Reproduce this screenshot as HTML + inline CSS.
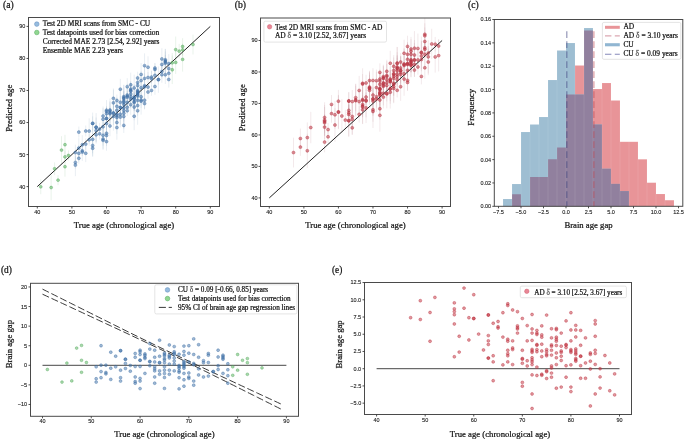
<!DOCTYPE html>
<html><head><meta charset="utf-8"><style>
html,body{margin:0;padding:0;background:#fff;}
body{width:685px;height:440px;overflow:hidden;font-family:"Liberation Serif",serif;}
svg{display:block;will-change:transform;}
</style></head><body>
<svg width="685" height="440" viewBox="0 0 685 440">
<rect width="685" height="440" fill="#fff"/>
<clipPath id="ca"><rect x="28.5" y="17.5" width="191.0" height="189.0"/></clipPath>
<g clip-path="url(#ca)">
<line x1="75.36" y1="160.50" x2="75.36" y2="144.66" stroke="rgba(140,165,190,0.3)" stroke-width="0.65"/>
<line x1="75.36" y1="168.65" x2="75.36" y2="156.14" stroke="rgba(140,165,190,0.3)" stroke-width="0.65"/>
<line x1="75.36" y1="176.16" x2="75.36" y2="154.04" stroke="rgba(140,165,190,0.3)" stroke-width="0.65"/>
<line x1="78.82" y1="137.62" x2="78.82" y2="126.62" stroke="rgba(140,165,190,0.3)" stroke-width="0.65"/>
<line x1="78.82" y1="158.03" x2="78.82" y2="138.11" stroke="rgba(140,165,190,0.3)" stroke-width="0.65"/>
<line x1="78.82" y1="161.63" x2="78.82" y2="144.98" stroke="rgba(140,165,190,0.3)" stroke-width="0.65"/>
<line x1="78.82" y1="163.66" x2="78.82" y2="152.93" stroke="rgba(140,165,190,0.3)" stroke-width="0.65"/>
<line x1="82.28" y1="154.55" x2="82.28" y2="135.18" stroke="rgba(140,165,190,0.3)" stroke-width="0.65"/>
<line x1="82.28" y1="156.00" x2="82.28" y2="145.67" stroke="rgba(140,165,190,0.3)" stroke-width="0.65"/>
<line x1="82.28" y1="160.96" x2="82.28" y2="143.01" stroke="rgba(140,165,190,0.3)" stroke-width="0.65"/>
<line x1="85.74" y1="136.51" x2="85.74" y2="125.55" stroke="rgba(140,165,190,0.3)" stroke-width="0.65"/>
<line x1="85.74" y1="149.79" x2="85.74" y2="138.44" stroke="rgba(140,165,190,0.3)" stroke-width="0.65"/>
<line x1="85.74" y1="162.16" x2="85.74" y2="144.39" stroke="rgba(140,165,190,0.3)" stroke-width="0.65"/>
<line x1="89.20" y1="143.85" x2="89.20" y2="118.34" stroke="rgba(140,165,190,0.3)" stroke-width="0.65"/>
<line x1="89.20" y1="145.76" x2="89.20" y2="133.77" stroke="rgba(140,165,190,0.3)" stroke-width="0.65"/>
<line x1="92.66" y1="130.35" x2="92.66" y2="116.44" stroke="rgba(140,165,190,0.3)" stroke-width="0.65"/>
<line x1="92.66" y1="134.23" x2="92.66" y2="112.56" stroke="rgba(140,165,190,0.3)" stroke-width="0.65"/>
<line x1="92.66" y1="153.26" x2="92.66" y2="125.43" stroke="rgba(140,165,190,0.3)" stroke-width="0.65"/>
<line x1="92.66" y1="155.83" x2="92.66" y2="135.13" stroke="rgba(140,165,190,0.3)" stroke-width="0.65"/>
<line x1="92.66" y1="156.88" x2="92.66" y2="139.64" stroke="rgba(140,165,190,0.3)" stroke-width="0.65"/>
<line x1="96.12" y1="141.41" x2="96.12" y2="113.03" stroke="rgba(140,165,190,0.3)" stroke-width="0.65"/>
<line x1="96.12" y1="132.48" x2="96.12" y2="121.97" stroke="rgba(140,165,190,0.3)" stroke-width="0.65"/>
<line x1="96.12" y1="143.64" x2="96.12" y2="117.52" stroke="rgba(140,165,190,0.3)" stroke-width="0.65"/>
<line x1="96.12" y1="142.34" x2="96.12" y2="127.16" stroke="rgba(140,165,190,0.3)" stroke-width="0.65"/>
<line x1="99.58" y1="135.28" x2="99.58" y2="122.90" stroke="rgba(140,165,190,0.3)" stroke-width="0.65"/>
<line x1="99.58" y1="139.69" x2="99.58" y2="127.82" stroke="rgba(140,165,190,0.3)" stroke-width="0.65"/>
<line x1="103.04" y1="123.84" x2="103.04" y2="108.30" stroke="rgba(140,165,190,0.3)" stroke-width="0.65"/>
<line x1="103.04" y1="131.83" x2="103.04" y2="106.53" stroke="rgba(140,165,190,0.3)" stroke-width="0.65"/>
<line x1="103.04" y1="133.25" x2="103.04" y2="120.16" stroke="rgba(140,165,190,0.3)" stroke-width="0.65"/>
<line x1="103.04" y1="145.69" x2="103.04" y2="124.90" stroke="rgba(140,165,190,0.3)" stroke-width="0.65"/>
<line x1="103.04" y1="149.92" x2="103.04" y2="128.03" stroke="rgba(140,165,190,0.3)" stroke-width="0.65"/>
<line x1="103.04" y1="148.75" x2="103.04" y2="131.98" stroke="rgba(140,165,190,0.3)" stroke-width="0.65"/>
<line x1="106.50" y1="120.24" x2="106.50" y2="100.10" stroke="rgba(140,165,190,0.3)" stroke-width="0.65"/>
<line x1="106.50" y1="116.89" x2="106.50" y2="106.07" stroke="rgba(140,165,190,0.3)" stroke-width="0.65"/>
<line x1="106.50" y1="119.06" x2="106.50" y2="108.31" stroke="rgba(140,165,190,0.3)" stroke-width="0.65"/>
<line x1="106.50" y1="125.22" x2="106.50" y2="111.64" stroke="rgba(140,165,190,0.3)" stroke-width="0.65"/>
<line x1="106.50" y1="129.78" x2="106.50" y2="107.08" stroke="rgba(140,165,190,0.3)" stroke-width="0.65"/>
<line x1="106.50" y1="132.42" x2="106.50" y2="114.59" stroke="rgba(140,165,190,0.3)" stroke-width="0.65"/>
<line x1="106.50" y1="141.06" x2="106.50" y2="125.41" stroke="rgba(140,165,190,0.3)" stroke-width="0.65"/>
<line x1="106.50" y1="145.88" x2="106.50" y2="125.01" stroke="rgba(140,165,190,0.3)" stroke-width="0.65"/>
<line x1="106.50" y1="150.74" x2="106.50" y2="132.42" stroke="rgba(140,165,190,0.3)" stroke-width="0.65"/>
<line x1="109.96" y1="117.68" x2="109.96" y2="102.30" stroke="rgba(140,165,190,0.3)" stroke-width="0.65"/>
<line x1="109.96" y1="123.50" x2="109.96" y2="98.61" stroke="rgba(140,165,190,0.3)" stroke-width="0.65"/>
<line x1="109.96" y1="124.30" x2="109.96" y2="101.25" stroke="rgba(140,165,190,0.3)" stroke-width="0.65"/>
<line x1="109.96" y1="120.99" x2="109.96" y2="106.68" stroke="rgba(140,165,190,0.3)" stroke-width="0.65"/>
<line x1="109.96" y1="136.27" x2="109.96" y2="115.61" stroke="rgba(140,165,190,0.3)" stroke-width="0.65"/>
<line x1="113.42" y1="108.22" x2="113.42" y2="88.51" stroke="rgba(140,165,190,0.3)" stroke-width="0.65"/>
<line x1="113.42" y1="116.08" x2="113.42" y2="89.64" stroke="rgba(140,165,190,0.3)" stroke-width="0.65"/>
<line x1="113.42" y1="124.90" x2="113.42" y2="101.27" stroke="rgba(140,165,190,0.3)" stroke-width="0.65"/>
<line x1="113.42" y1="120.66" x2="113.42" y2="105.51" stroke="rgba(140,165,190,0.3)" stroke-width="0.65"/>
<line x1="113.42" y1="130.67" x2="113.42" y2="102.21" stroke="rgba(140,165,190,0.3)" stroke-width="0.65"/>
<line x1="116.88" y1="106.50" x2="116.88" y2="94.62" stroke="rgba(140,165,190,0.3)" stroke-width="0.65"/>
<line x1="116.88" y1="115.19" x2="116.88" y2="97.54" stroke="rgba(140,165,190,0.3)" stroke-width="0.65"/>
<line x1="116.88" y1="122.29" x2="116.88" y2="98.13" stroke="rgba(140,165,190,0.3)" stroke-width="0.65"/>
<line x1="116.88" y1="120.40" x2="116.88" y2="107.87" stroke="rgba(140,165,190,0.3)" stroke-width="0.65"/>
<line x1="116.88" y1="125.36" x2="116.88" y2="106.35" stroke="rgba(140,165,190,0.3)" stroke-width="0.65"/>
<line x1="116.88" y1="122.67" x2="116.88" y2="112.31" stroke="rgba(140,165,190,0.3)" stroke-width="0.65"/>
<line x1="116.88" y1="133.71" x2="116.88" y2="111.25" stroke="rgba(140,165,190,0.3)" stroke-width="0.65"/>
<line x1="116.88" y1="139.70" x2="116.88" y2="115.39" stroke="rgba(140,165,190,0.3)" stroke-width="0.65"/>
<line x1="120.34" y1="99.49" x2="120.34" y2="78.86" stroke="rgba(140,165,190,0.3)" stroke-width="0.65"/>
<line x1="120.34" y1="115.56" x2="120.34" y2="89.12" stroke="rgba(140,165,190,0.3)" stroke-width="0.65"/>
<line x1="120.34" y1="115.40" x2="120.34" y2="99.76" stroke="rgba(140,165,190,0.3)" stroke-width="0.65"/>
<line x1="120.34" y1="119.07" x2="120.34" y2="96.09" stroke="rgba(140,165,190,0.3)" stroke-width="0.65"/>
<line x1="120.34" y1="124.80" x2="120.34" y2="103.77" stroke="rgba(140,165,190,0.3)" stroke-width="0.65"/>
<line x1="120.34" y1="127.45" x2="120.34" y2="106.69" stroke="rgba(140,165,190,0.3)" stroke-width="0.65"/>
<line x1="123.80" y1="105.79" x2="123.80" y2="87.41" stroke="rgba(140,165,190,0.3)" stroke-width="0.65"/>
<line x1="123.80" y1="110.55" x2="123.80" y2="84.79" stroke="rgba(140,165,190,0.3)" stroke-width="0.65"/>
<line x1="123.80" y1="112.70" x2="123.80" y2="84.92" stroke="rgba(140,165,190,0.3)" stroke-width="0.65"/>
<line x1="123.80" y1="110.38" x2="123.80" y2="91.66" stroke="rgba(140,165,190,0.3)" stroke-width="0.65"/>
<line x1="123.80" y1="113.35" x2="123.80" y2="90.97" stroke="rgba(140,165,190,0.3)" stroke-width="0.65"/>
<line x1="123.80" y1="109.76" x2="123.80" y2="98.98" stroke="rgba(140,165,190,0.3)" stroke-width="0.65"/>
<line x1="123.80" y1="119.28" x2="123.80" y2="96.18" stroke="rgba(140,165,190,0.3)" stroke-width="0.65"/>
<line x1="123.80" y1="121.53" x2="123.80" y2="99.48" stroke="rgba(140,165,190,0.3)" stroke-width="0.65"/>
<line x1="123.80" y1="127.64" x2="123.80" y2="98.94" stroke="rgba(140,165,190,0.3)" stroke-width="0.65"/>
<line x1="123.80" y1="129.19" x2="123.80" y2="103.77" stroke="rgba(140,165,190,0.3)" stroke-width="0.65"/>
<line x1="123.80" y1="132.94" x2="123.80" y2="117.85" stroke="rgba(140,165,190,0.3)" stroke-width="0.65"/>
<line x1="127.26" y1="95.21" x2="127.26" y2="78.18" stroke="rgba(140,165,190,0.3)" stroke-width="0.65"/>
<line x1="127.26" y1="106.27" x2="127.26" y2="83.80" stroke="rgba(140,165,190,0.3)" stroke-width="0.65"/>
<line x1="127.26" y1="101.20" x2="127.26" y2="91.16" stroke="rgba(140,165,190,0.3)" stroke-width="0.65"/>
<line x1="127.26" y1="106.57" x2="127.26" y2="88.08" stroke="rgba(140,165,190,0.3)" stroke-width="0.65"/>
<line x1="127.26" y1="108.74" x2="127.26" y2="95.89" stroke="rgba(140,165,190,0.3)" stroke-width="0.65"/>
<line x1="127.26" y1="113.24" x2="127.26" y2="101.37" stroke="rgba(140,165,190,0.3)" stroke-width="0.65"/>
<line x1="127.26" y1="116.03" x2="127.26" y2="105.29" stroke="rgba(140,165,190,0.3)" stroke-width="0.65"/>
<line x1="130.72" y1="96.99" x2="130.72" y2="72.61" stroke="rgba(140,165,190,0.3)" stroke-width="0.65"/>
<line x1="130.72" y1="95.10" x2="130.72" y2="83.00" stroke="rgba(140,165,190,0.3)" stroke-width="0.65"/>
<line x1="130.72" y1="97.38" x2="130.72" y2="83.01" stroke="rgba(140,165,190,0.3)" stroke-width="0.65"/>
<line x1="130.72" y1="99.82" x2="130.72" y2="82.69" stroke="rgba(140,165,190,0.3)" stroke-width="0.65"/>
<line x1="130.72" y1="107.30" x2="130.72" y2="80.94" stroke="rgba(140,165,190,0.3)" stroke-width="0.65"/>
<line x1="130.72" y1="102.24" x2="130.72" y2="91.08" stroke="rgba(140,165,190,0.3)" stroke-width="0.65"/>
<line x1="130.72" y1="108.23" x2="130.72" y2="89.99" stroke="rgba(140,165,190,0.3)" stroke-width="0.65"/>
<line x1="130.72" y1="114.76" x2="130.72" y2="94.59" stroke="rgba(140,165,190,0.3)" stroke-width="0.65"/>
<line x1="134.18" y1="101.19" x2="134.18" y2="74.59" stroke="rgba(140,165,190,0.3)" stroke-width="0.65"/>
<line x1="134.18" y1="109.73" x2="134.18" y2="84.37" stroke="rgba(140,165,190,0.3)" stroke-width="0.65"/>
<line x1="134.18" y1="111.23" x2="134.18" y2="85.00" stroke="rgba(140,165,190,0.3)" stroke-width="0.65"/>
<line x1="134.18" y1="106.74" x2="134.18" y2="91.78" stroke="rgba(140,165,190,0.3)" stroke-width="0.65"/>
<line x1="134.18" y1="110.27" x2="134.18" y2="92.67" stroke="rgba(140,165,190,0.3)" stroke-width="0.65"/>
<line x1="134.18" y1="110.87" x2="134.18" y2="94.36" stroke="rgba(140,165,190,0.3)" stroke-width="0.65"/>
<line x1="134.18" y1="120.34" x2="134.18" y2="93.73" stroke="rgba(140,165,190,0.3)" stroke-width="0.65"/>
<line x1="134.18" y1="130.20" x2="134.18" y2="102.18" stroke="rgba(140,165,190,0.3)" stroke-width="0.65"/>
<line x1="137.64" y1="84.24" x2="137.64" y2="71.72" stroke="rgba(140,165,190,0.3)" stroke-width="0.65"/>
<line x1="137.64" y1="88.90" x2="137.64" y2="75.90" stroke="rgba(140,165,190,0.3)" stroke-width="0.65"/>
<line x1="137.64" y1="92.46" x2="137.64" y2="78.39" stroke="rgba(140,165,190,0.3)" stroke-width="0.65"/>
<line x1="137.64" y1="97.54" x2="137.64" y2="83.45" stroke="rgba(140,165,190,0.3)" stroke-width="0.65"/>
<line x1="137.64" y1="101.02" x2="137.64" y2="82.09" stroke="rgba(140,165,190,0.3)" stroke-width="0.65"/>
<line x1="137.64" y1="103.17" x2="137.64" y2="82.23" stroke="rgba(140,165,190,0.3)" stroke-width="0.65"/>
<line x1="137.64" y1="101.18" x2="137.64" y2="86.52" stroke="rgba(140,165,190,0.3)" stroke-width="0.65"/>
<line x1="137.64" y1="99.76" x2="137.64" y2="90.07" stroke="rgba(140,165,190,0.3)" stroke-width="0.65"/>
<line x1="137.64" y1="104.89" x2="137.64" y2="87.22" stroke="rgba(140,165,190,0.3)" stroke-width="0.65"/>
<line x1="137.64" y1="108.66" x2="137.64" y2="91.95" stroke="rgba(140,165,190,0.3)" stroke-width="0.65"/>
<line x1="137.64" y1="115.79" x2="137.64" y2="95.29" stroke="rgba(140,165,190,0.3)" stroke-width="0.65"/>
<line x1="137.64" y1="124.75" x2="137.64" y2="96.81" stroke="rgba(140,165,190,0.3)" stroke-width="0.65"/>
<line x1="141.10" y1="85.89" x2="141.10" y2="63.00" stroke="rgba(140,165,190,0.3)" stroke-width="0.65"/>
<line x1="141.10" y1="90.34" x2="141.10" y2="70.82" stroke="rgba(140,165,190,0.3)" stroke-width="0.65"/>
<line x1="141.10" y1="98.52" x2="141.10" y2="77.04" stroke="rgba(140,165,190,0.3)" stroke-width="0.65"/>
<line x1="141.10" y1="108.08" x2="141.10" y2="85.47" stroke="rgba(140,165,190,0.3)" stroke-width="0.65"/>
<line x1="141.10" y1="105.38" x2="141.10" y2="94.73" stroke="rgba(140,165,190,0.3)" stroke-width="0.65"/>
<line x1="141.10" y1="114.65" x2="141.10" y2="87.74" stroke="rgba(140,165,190,0.3)" stroke-width="0.65"/>
<line x1="144.56" y1="77.98" x2="144.56" y2="53.38" stroke="rgba(140,165,190,0.3)" stroke-width="0.65"/>
<line x1="144.56" y1="91.65" x2="144.56" y2="65.23" stroke="rgba(140,165,190,0.3)" stroke-width="0.65"/>
<line x1="144.56" y1="98.20" x2="144.56" y2="73.25" stroke="rgba(140,165,190,0.3)" stroke-width="0.65"/>
<line x1="144.56" y1="95.44" x2="144.56" y2="78.29" stroke="rgba(140,165,190,0.3)" stroke-width="0.65"/>
<line x1="144.56" y1="108.84" x2="144.56" y2="91.56" stroke="rgba(140,165,190,0.3)" stroke-width="0.65"/>
<line x1="144.56" y1="109.35" x2="144.56" y2="97.75" stroke="rgba(140,165,190,0.3)" stroke-width="0.65"/>
<line x1="148.02" y1="78.12" x2="148.02" y2="56.32" stroke="rgba(140,165,190,0.3)" stroke-width="0.65"/>
<line x1="148.02" y1="82.93" x2="148.02" y2="72.12" stroke="rgba(140,165,190,0.3)" stroke-width="0.65"/>
<line x1="148.02" y1="92.47" x2="148.02" y2="81.56" stroke="rgba(140,165,190,0.3)" stroke-width="0.65"/>
<line x1="148.02" y1="98.82" x2="148.02" y2="85.19" stroke="rgba(140,165,190,0.3)" stroke-width="0.65"/>
<line x1="151.48" y1="83.47" x2="151.48" y2="70.74" stroke="rgba(140,165,190,0.3)" stroke-width="0.65"/>
<line x1="151.48" y1="86.82" x2="151.48" y2="70.67" stroke="rgba(140,165,190,0.3)" stroke-width="0.65"/>
<line x1="151.48" y1="95.75" x2="151.48" y2="85.13" stroke="rgba(140,165,190,0.3)" stroke-width="0.65"/>
<line x1="154.94" y1="72.82" x2="154.94" y2="63.20" stroke="rgba(140,165,190,0.3)" stroke-width="0.65"/>
<line x1="154.94" y1="75.66" x2="154.94" y2="63.14" stroke="rgba(140,165,190,0.3)" stroke-width="0.65"/>
<line x1="154.94" y1="81.15" x2="154.94" y2="69.59" stroke="rgba(140,165,190,0.3)" stroke-width="0.65"/>
<line x1="154.94" y1="94.80" x2="154.94" y2="78.20" stroke="rgba(140,165,190,0.3)" stroke-width="0.65"/>
<line x1="158.40" y1="84.66" x2="158.40" y2="74.56" stroke="rgba(140,165,190,0.3)" stroke-width="0.65"/>
<line x1="158.40" y1="92.82" x2="158.40" y2="66.40" stroke="rgba(140,165,190,0.3)" stroke-width="0.65"/>
<line x1="161.86" y1="69.61" x2="161.86" y2="48.20" stroke="rgba(140,165,190,0.3)" stroke-width="0.65"/>
<line x1="161.86" y1="70.70" x2="161.86" y2="58.23" stroke="rgba(140,165,190,0.3)" stroke-width="0.65"/>
<line x1="161.86" y1="78.81" x2="161.86" y2="64.35" stroke="rgba(140,165,190,0.3)" stroke-width="0.65"/>
<line x1="161.86" y1="82.84" x2="161.86" y2="66.55" stroke="rgba(140,165,190,0.3)" stroke-width="0.65"/>
<line x1="165.32" y1="68.10" x2="165.32" y2="51.48" stroke="rgba(140,165,190,0.3)" stroke-width="0.65"/>
<line x1="165.32" y1="66.92" x2="165.32" y2="54.95" stroke="rgba(140,165,190,0.3)" stroke-width="0.65"/>
<line x1="165.32" y1="75.05" x2="165.32" y2="49.11" stroke="rgba(140,165,190,0.3)" stroke-width="0.65"/>
<line x1="165.32" y1="77.50" x2="165.32" y2="48.79" stroke="rgba(140,165,190,0.3)" stroke-width="0.65"/>
<line x1="165.32" y1="83.96" x2="165.32" y2="65.39" stroke="rgba(140,165,190,0.3)" stroke-width="0.65"/>
<line x1="168.78" y1="73.08" x2="168.78" y2="54.16" stroke="rgba(140,165,190,0.3)" stroke-width="0.65"/>
<line x1="168.78" y1="74.16" x2="168.78" y2="62.90" stroke="rgba(140,165,190,0.3)" stroke-width="0.65"/>
<line x1="168.78" y1="79.14" x2="168.78" y2="67.57" stroke="rgba(140,165,190,0.3)" stroke-width="0.65"/>
<line x1="168.78" y1="87.59" x2="168.78" y2="71.39" stroke="rgba(140,165,190,0.3)" stroke-width="0.65"/>
<line x1="40.76" y1="194.18" x2="40.76" y2="179.48" stroke="rgba(140,190,145,0.3)" stroke-width="0.65"/>
<line x1="51.14" y1="200.30" x2="51.14" y2="174.75" stroke="rgba(140,190,145,0.3)" stroke-width="0.65"/>
<line x1="54.60" y1="175.14" x2="54.60" y2="162.42" stroke="rgba(140,190,145,0.3)" stroke-width="0.65"/>
<line x1="58.06" y1="185.16" x2="58.06" y2="175.11" stroke="rgba(140,190,145,0.3)" stroke-width="0.65"/>
<line x1="61.52" y1="164.05" x2="61.52" y2="136.16" stroke="rgba(140,190,145,0.3)" stroke-width="0.65"/>
<line x1="64.98" y1="154.57" x2="64.98" y2="134.81" stroke="rgba(140,190,145,0.3)" stroke-width="0.65"/>
<line x1="64.98" y1="163.09" x2="64.98" y2="150.66" stroke="rgba(140,190,145,0.3)" stroke-width="0.65"/>
<line x1="64.98" y1="176.72" x2="64.98" y2="156.67" stroke="rgba(140,190,145,0.3)" stroke-width="0.65"/>
<line x1="68.44" y1="160.54" x2="68.44" y2="150.41" stroke="rgba(140,190,145,0.3)" stroke-width="0.65"/>
<line x1="172.24" y1="72.75" x2="172.24" y2="52.99" stroke="rgba(140,190,145,0.3)" stroke-width="0.65"/>
<line x1="172.24" y1="84.04" x2="172.24" y2="55.61" stroke="rgba(140,190,145,0.3)" stroke-width="0.65"/>
<line x1="175.70" y1="62.71" x2="175.70" y2="36.50" stroke="rgba(140,190,145,0.3)" stroke-width="0.65"/>
<line x1="175.70" y1="73.95" x2="175.70" y2="50.95" stroke="rgba(140,190,145,0.3)" stroke-width="0.65"/>
<line x1="179.16" y1="58.46" x2="179.16" y2="43.83" stroke="rgba(140,190,145,0.3)" stroke-width="0.65"/>
<line x1="182.62" y1="54.88" x2="182.62" y2="38.22" stroke="rgba(140,190,145,0.3)" stroke-width="0.65"/>
<line x1="182.62" y1="56.32" x2="182.62" y2="43.49" stroke="rgba(140,190,145,0.3)" stroke-width="0.65"/>
<line x1="182.62" y1="71.62" x2="182.62" y2="47.17" stroke="rgba(140,190,145,0.3)" stroke-width="0.65"/>
<line x1="193.00" y1="54.47" x2="193.00" y2="34.62" stroke="rgba(140,190,145,0.3)" stroke-width="0.65"/>
<line x1="37.30" y1="186.60" x2="210.30" y2="26.40" stroke="#222" stroke-width="1.0"/>
<circle cx="75.36" cy="152.58" r="1.5" fill="rgba(65,115,170,0.55)" stroke="rgba(55,105,160,0.75)" stroke-width="0.5"/>
<circle cx="75.36" cy="162.40" r="1.5" fill="rgba(65,115,170,0.55)" stroke="rgba(55,105,160,0.75)" stroke-width="0.5"/>
<circle cx="75.36" cy="165.10" r="1.5" fill="rgba(65,115,170,0.55)" stroke="rgba(55,105,160,0.75)" stroke-width="0.5"/>
<circle cx="78.82" cy="132.12" r="1.5" fill="rgba(65,115,170,0.55)" stroke="rgba(55,105,160,0.75)" stroke-width="0.5"/>
<circle cx="78.82" cy="148.07" r="1.5" fill="rgba(65,115,170,0.55)" stroke="rgba(55,105,160,0.75)" stroke-width="0.5"/>
<circle cx="78.82" cy="153.31" r="1.5" fill="rgba(65,115,170,0.55)" stroke="rgba(55,105,160,0.75)" stroke-width="0.5"/>
<circle cx="78.82" cy="158.29" r="1.5" fill="rgba(65,115,170,0.55)" stroke="rgba(55,105,160,0.75)" stroke-width="0.5"/>
<circle cx="82.28" cy="144.87" r="1.5" fill="rgba(65,115,170,0.55)" stroke="rgba(55,105,160,0.75)" stroke-width="0.5"/>
<circle cx="82.28" cy="150.84" r="1.5" fill="rgba(65,115,170,0.55)" stroke="rgba(55,105,160,0.75)" stroke-width="0.5"/>
<circle cx="82.28" cy="151.98" r="1.5" fill="rgba(65,115,170,0.55)" stroke="rgba(55,105,160,0.75)" stroke-width="0.5"/>
<circle cx="85.74" cy="131.03" r="1.5" fill="rgba(65,115,170,0.55)" stroke="rgba(55,105,160,0.75)" stroke-width="0.5"/>
<circle cx="85.74" cy="144.12" r="1.5" fill="rgba(65,115,170,0.55)" stroke="rgba(55,105,160,0.75)" stroke-width="0.5"/>
<circle cx="85.74" cy="153.28" r="1.5" fill="rgba(65,115,170,0.55)" stroke="rgba(55,105,160,0.75)" stroke-width="0.5"/>
<circle cx="89.20" cy="131.10" r="1.5" fill="rgba(65,115,170,0.55)" stroke="rgba(55,105,160,0.75)" stroke-width="0.5"/>
<circle cx="89.20" cy="139.77" r="1.5" fill="rgba(65,115,170,0.55)" stroke="rgba(55,105,160,0.75)" stroke-width="0.5"/>
<circle cx="92.66" cy="123.39" r="1.5" fill="rgba(65,115,170,0.55)" stroke="rgba(55,105,160,0.75)" stroke-width="0.5"/>
<circle cx="92.66" cy="123.39" r="1.5" fill="rgba(65,115,170,0.55)" stroke="rgba(55,105,160,0.75)" stroke-width="0.5"/>
<circle cx="92.66" cy="139.34" r="1.5" fill="rgba(65,115,170,0.55)" stroke="rgba(55,105,160,0.75)" stroke-width="0.5"/>
<circle cx="92.66" cy="145.48" r="1.5" fill="rgba(65,115,170,0.55)" stroke="rgba(55,105,160,0.75)" stroke-width="0.5"/>
<circle cx="92.66" cy="148.26" r="1.5" fill="rgba(65,115,170,0.55)" stroke="rgba(55,105,160,0.75)" stroke-width="0.5"/>
<circle cx="96.12" cy="127.22" r="1.5" fill="rgba(65,115,170,0.55)" stroke="rgba(55,105,160,0.75)" stroke-width="0.5"/>
<circle cx="96.12" cy="127.22" r="1.5" fill="rgba(65,115,170,0.55)" stroke="rgba(55,105,160,0.75)" stroke-width="0.5"/>
<circle cx="96.12" cy="130.58" r="1.5" fill="rgba(65,115,170,0.55)" stroke="rgba(55,105,160,0.75)" stroke-width="0.5"/>
<circle cx="96.12" cy="134.75" r="1.5" fill="rgba(65,115,170,0.55)" stroke="rgba(55,105,160,0.75)" stroke-width="0.5"/>
<circle cx="99.58" cy="129.09" r="1.5" fill="rgba(65,115,170,0.55)" stroke="rgba(55,105,160,0.75)" stroke-width="0.5"/>
<circle cx="99.58" cy="133.75" r="1.5" fill="rgba(65,115,170,0.55)" stroke="rgba(55,105,160,0.75)" stroke-width="0.5"/>
<circle cx="103.04" cy="116.07" r="1.5" fill="rgba(65,115,170,0.55)" stroke="rgba(55,105,160,0.75)" stroke-width="0.5"/>
<circle cx="103.04" cy="119.18" r="1.5" fill="rgba(65,115,170,0.55)" stroke="rgba(55,105,160,0.75)" stroke-width="0.5"/>
<circle cx="103.04" cy="126.71" r="1.5" fill="rgba(65,115,170,0.55)" stroke="rgba(55,105,160,0.75)" stroke-width="0.5"/>
<circle cx="103.04" cy="135.29" r="1.5" fill="rgba(65,115,170,0.55)" stroke="rgba(55,105,160,0.75)" stroke-width="0.5"/>
<circle cx="103.04" cy="138.98" r="1.5" fill="rgba(65,115,170,0.55)" stroke="rgba(55,105,160,0.75)" stroke-width="0.5"/>
<circle cx="103.04" cy="140.37" r="1.5" fill="rgba(65,115,170,0.55)" stroke="rgba(55,105,160,0.75)" stroke-width="0.5"/>
<circle cx="106.50" cy="110.17" r="1.5" fill="rgba(65,115,170,0.55)" stroke="rgba(55,105,160,0.75)" stroke-width="0.5"/>
<circle cx="106.50" cy="111.48" r="1.5" fill="rgba(65,115,170,0.55)" stroke="rgba(55,105,160,0.75)" stroke-width="0.5"/>
<circle cx="106.50" cy="113.69" r="1.5" fill="rgba(65,115,170,0.55)" stroke="rgba(55,105,160,0.75)" stroke-width="0.5"/>
<circle cx="106.50" cy="118.43" r="1.5" fill="rgba(65,115,170,0.55)" stroke="rgba(55,105,160,0.75)" stroke-width="0.5"/>
<circle cx="106.50" cy="118.43" r="1.5" fill="rgba(65,115,170,0.55)" stroke="rgba(55,105,160,0.75)" stroke-width="0.5"/>
<circle cx="106.50" cy="123.50" r="1.5" fill="rgba(65,115,170,0.55)" stroke="rgba(55,105,160,0.75)" stroke-width="0.5"/>
<circle cx="106.50" cy="133.24" r="1.5" fill="rgba(65,115,170,0.55)" stroke="rgba(55,105,160,0.75)" stroke-width="0.5"/>
<circle cx="106.50" cy="135.44" r="1.5" fill="rgba(65,115,170,0.55)" stroke="rgba(55,105,160,0.75)" stroke-width="0.5"/>
<circle cx="106.50" cy="141.58" r="1.5" fill="rgba(65,115,170,0.55)" stroke="rgba(55,105,160,0.75)" stroke-width="0.5"/>
<circle cx="109.96" cy="109.99" r="1.5" fill="rgba(65,115,170,0.55)" stroke="rgba(55,105,160,0.75)" stroke-width="0.5"/>
<circle cx="109.96" cy="111.05" r="1.5" fill="rgba(65,115,170,0.55)" stroke="rgba(55,105,160,0.75)" stroke-width="0.5"/>
<circle cx="109.96" cy="112.77" r="1.5" fill="rgba(65,115,170,0.55)" stroke="rgba(55,105,160,0.75)" stroke-width="0.5"/>
<circle cx="109.96" cy="113.84" r="1.5" fill="rgba(65,115,170,0.55)" stroke="rgba(55,105,160,0.75)" stroke-width="0.5"/>
<circle cx="109.96" cy="125.94" r="1.5" fill="rgba(65,115,170,0.55)" stroke="rgba(55,105,160,0.75)" stroke-width="0.5"/>
<circle cx="113.42" cy="98.36" r="1.5" fill="rgba(65,115,170,0.55)" stroke="rgba(55,105,160,0.75)" stroke-width="0.5"/>
<circle cx="113.42" cy="102.86" r="1.5" fill="rgba(65,115,170,0.55)" stroke="rgba(55,105,160,0.75)" stroke-width="0.5"/>
<circle cx="113.42" cy="113.09" r="1.5" fill="rgba(65,115,170,0.55)" stroke="rgba(55,105,160,0.75)" stroke-width="0.5"/>
<circle cx="113.42" cy="113.09" r="1.5" fill="rgba(65,115,170,0.55)" stroke="rgba(55,105,160,0.75)" stroke-width="0.5"/>
<circle cx="113.42" cy="116.44" r="1.5" fill="rgba(65,115,170,0.55)" stroke="rgba(55,105,160,0.75)" stroke-width="0.5"/>
<circle cx="116.88" cy="100.56" r="1.5" fill="rgba(65,115,170,0.55)" stroke="rgba(55,105,160,0.75)" stroke-width="0.5"/>
<circle cx="116.88" cy="106.36" r="1.5" fill="rgba(65,115,170,0.55)" stroke="rgba(55,105,160,0.75)" stroke-width="0.5"/>
<circle cx="116.88" cy="110.21" r="1.5" fill="rgba(65,115,170,0.55)" stroke="rgba(55,105,160,0.75)" stroke-width="0.5"/>
<circle cx="116.88" cy="114.13" r="1.5" fill="rgba(65,115,170,0.55)" stroke="rgba(55,105,160,0.75)" stroke-width="0.5"/>
<circle cx="116.88" cy="115.85" r="1.5" fill="rgba(65,115,170,0.55)" stroke="rgba(55,105,160,0.75)" stroke-width="0.5"/>
<circle cx="116.88" cy="117.49" r="1.5" fill="rgba(65,115,170,0.55)" stroke="rgba(55,105,160,0.75)" stroke-width="0.5"/>
<circle cx="116.88" cy="122.48" r="1.5" fill="rgba(65,115,170,0.55)" stroke="rgba(55,105,160,0.75)" stroke-width="0.5"/>
<circle cx="116.88" cy="127.55" r="1.5" fill="rgba(65,115,170,0.55)" stroke="rgba(55,105,160,0.75)" stroke-width="0.5"/>
<circle cx="120.34" cy="89.17" r="1.5" fill="rgba(65,115,170,0.55)" stroke="rgba(55,105,160,0.75)" stroke-width="0.5"/>
<circle cx="120.34" cy="102.34" r="1.5" fill="rgba(65,115,170,0.55)" stroke="rgba(55,105,160,0.75)" stroke-width="0.5"/>
<circle cx="120.34" cy="107.58" r="1.5" fill="rgba(65,115,170,0.55)" stroke="rgba(55,105,160,0.75)" stroke-width="0.5"/>
<circle cx="120.34" cy="107.58" r="1.5" fill="rgba(65,115,170,0.55)" stroke="rgba(55,105,160,0.75)" stroke-width="0.5"/>
<circle cx="120.34" cy="114.28" r="1.5" fill="rgba(65,115,170,0.55)" stroke="rgba(55,105,160,0.75)" stroke-width="0.5"/>
<circle cx="120.34" cy="117.07" r="1.5" fill="rgba(65,115,170,0.55)" stroke="rgba(55,105,160,0.75)" stroke-width="0.5"/>
<circle cx="123.80" cy="96.60" r="1.5" fill="rgba(65,115,170,0.55)" stroke="rgba(55,105,160,0.75)" stroke-width="0.5"/>
<circle cx="123.80" cy="97.67" r="1.5" fill="rgba(65,115,170,0.55)" stroke="rgba(55,105,160,0.75)" stroke-width="0.5"/>
<circle cx="123.80" cy="98.81" r="1.5" fill="rgba(65,115,170,0.55)" stroke="rgba(55,105,160,0.75)" stroke-width="0.5"/>
<circle cx="123.80" cy="101.02" r="1.5" fill="rgba(65,115,170,0.55)" stroke="rgba(55,105,160,0.75)" stroke-width="0.5"/>
<circle cx="123.80" cy="102.16" r="1.5" fill="rgba(65,115,170,0.55)" stroke="rgba(55,105,160,0.75)" stroke-width="0.5"/>
<circle cx="123.80" cy="104.37" r="1.5" fill="rgba(65,115,170,0.55)" stroke="rgba(55,105,160,0.75)" stroke-width="0.5"/>
<circle cx="123.80" cy="107.73" r="1.5" fill="rgba(65,115,170,0.55)" stroke="rgba(55,105,160,0.75)" stroke-width="0.5"/>
<circle cx="123.80" cy="110.51" r="1.5" fill="rgba(65,115,170,0.55)" stroke="rgba(55,105,160,0.75)" stroke-width="0.5"/>
<circle cx="123.80" cy="113.29" r="1.5" fill="rgba(65,115,170,0.55)" stroke="rgba(55,105,160,0.75)" stroke-width="0.5"/>
<circle cx="123.80" cy="116.48" r="1.5" fill="rgba(65,115,170,0.55)" stroke="rgba(55,105,160,0.75)" stroke-width="0.5"/>
<circle cx="123.80" cy="125.40" r="1.5" fill="rgba(65,115,170,0.55)" stroke="rgba(55,105,160,0.75)" stroke-width="0.5"/>
<circle cx="127.26" cy="86.69" r="1.5" fill="rgba(65,115,170,0.55)" stroke="rgba(55,105,160,0.75)" stroke-width="0.5"/>
<circle cx="127.26" cy="95.03" r="1.5" fill="rgba(65,115,170,0.55)" stroke="rgba(55,105,160,0.75)" stroke-width="0.5"/>
<circle cx="127.26" cy="96.18" r="1.5" fill="rgba(65,115,170,0.55)" stroke="rgba(55,105,160,0.75)" stroke-width="0.5"/>
<circle cx="127.26" cy="97.32" r="1.5" fill="rgba(65,115,170,0.55)" stroke="rgba(55,105,160,0.75)" stroke-width="0.5"/>
<circle cx="127.26" cy="102.31" r="1.5" fill="rgba(65,115,170,0.55)" stroke="rgba(55,105,160,0.75)" stroke-width="0.5"/>
<circle cx="127.26" cy="107.30" r="1.5" fill="rgba(65,115,170,0.55)" stroke="rgba(55,105,160,0.75)" stroke-width="0.5"/>
<circle cx="127.26" cy="110.66" r="1.5" fill="rgba(65,115,170,0.55)" stroke="rgba(55,105,160,0.75)" stroke-width="0.5"/>
<circle cx="130.72" cy="84.80" r="1.5" fill="rgba(65,115,170,0.55)" stroke="rgba(55,105,160,0.75)" stroke-width="0.5"/>
<circle cx="130.72" cy="89.05" r="1.5" fill="rgba(65,115,170,0.55)" stroke="rgba(55,105,160,0.75)" stroke-width="0.5"/>
<circle cx="130.72" cy="90.19" r="1.5" fill="rgba(65,115,170,0.55)" stroke="rgba(55,105,160,0.75)" stroke-width="0.5"/>
<circle cx="130.72" cy="91.26" r="1.5" fill="rgba(65,115,170,0.55)" stroke="rgba(55,105,160,0.75)" stroke-width="0.5"/>
<circle cx="130.72" cy="94.12" r="1.5" fill="rgba(65,115,170,0.55)" stroke="rgba(55,105,160,0.75)" stroke-width="0.5"/>
<circle cx="130.72" cy="96.66" r="1.5" fill="rgba(65,115,170,0.55)" stroke="rgba(55,105,160,0.75)" stroke-width="0.5"/>
<circle cx="130.72" cy="99.11" r="1.5" fill="rgba(65,115,170,0.55)" stroke="rgba(55,105,160,0.75)" stroke-width="0.5"/>
<circle cx="130.72" cy="104.67" r="1.5" fill="rgba(65,115,170,0.55)" stroke="rgba(55,105,160,0.75)" stroke-width="0.5"/>
<circle cx="134.18" cy="87.89" r="1.5" fill="rgba(65,115,170,0.55)" stroke="rgba(55,105,160,0.75)" stroke-width="0.5"/>
<circle cx="134.18" cy="97.05" r="1.5" fill="rgba(65,115,170,0.55)" stroke="rgba(55,105,160,0.75)" stroke-width="0.5"/>
<circle cx="134.18" cy="98.11" r="1.5" fill="rgba(65,115,170,0.55)" stroke="rgba(55,105,160,0.75)" stroke-width="0.5"/>
<circle cx="134.18" cy="99.26" r="1.5" fill="rgba(65,115,170,0.55)" stroke="rgba(55,105,160,0.75)" stroke-width="0.5"/>
<circle cx="134.18" cy="101.47" r="1.5" fill="rgba(65,115,170,0.55)" stroke="rgba(55,105,160,0.75)" stroke-width="0.5"/>
<circle cx="134.18" cy="102.61" r="1.5" fill="rgba(65,115,170,0.55)" stroke="rgba(55,105,160,0.75)" stroke-width="0.5"/>
<circle cx="134.18" cy="107.03" r="1.5" fill="rgba(65,115,170,0.55)" stroke="rgba(55,105,160,0.75)" stroke-width="0.5"/>
<circle cx="134.18" cy="116.19" r="1.5" fill="rgba(65,115,170,0.55)" stroke="rgba(55,105,160,0.75)" stroke-width="0.5"/>
<circle cx="137.64" cy="77.98" r="1.5" fill="rgba(65,115,170,0.55)" stroke="rgba(55,105,160,0.75)" stroke-width="0.5"/>
<circle cx="137.64" cy="82.40" r="1.5" fill="rgba(65,115,170,0.55)" stroke="rgba(55,105,160,0.75)" stroke-width="0.5"/>
<circle cx="137.64" cy="85.42" r="1.5" fill="rgba(65,115,170,0.55)" stroke="rgba(55,105,160,0.75)" stroke-width="0.5"/>
<circle cx="137.64" cy="90.49" r="1.5" fill="rgba(65,115,170,0.55)" stroke="rgba(55,105,160,0.75)" stroke-width="0.5"/>
<circle cx="137.64" cy="91.56" r="1.5" fill="rgba(65,115,170,0.55)" stroke="rgba(55,105,160,0.75)" stroke-width="0.5"/>
<circle cx="137.64" cy="92.70" r="1.5" fill="rgba(65,115,170,0.55)" stroke="rgba(55,105,160,0.75)" stroke-width="0.5"/>
<circle cx="137.64" cy="93.85" r="1.5" fill="rgba(65,115,170,0.55)" stroke="rgba(55,105,160,0.75)" stroke-width="0.5"/>
<circle cx="137.64" cy="94.91" r="1.5" fill="rgba(65,115,170,0.55)" stroke="rgba(55,105,160,0.75)" stroke-width="0.5"/>
<circle cx="137.64" cy="96.06" r="1.5" fill="rgba(65,115,170,0.55)" stroke="rgba(55,105,160,0.75)" stroke-width="0.5"/>
<circle cx="137.64" cy="100.31" r="1.5" fill="rgba(65,115,170,0.55)" stroke="rgba(55,105,160,0.75)" stroke-width="0.5"/>
<circle cx="137.64" cy="105.54" r="1.5" fill="rgba(65,115,170,0.55)" stroke="rgba(55,105,160,0.75)" stroke-width="0.5"/>
<circle cx="137.64" cy="110.78" r="1.5" fill="rgba(65,115,170,0.55)" stroke="rgba(55,105,160,0.75)" stroke-width="0.5"/>
<circle cx="141.10" cy="74.45" r="1.5" fill="rgba(65,115,170,0.55)" stroke="rgba(55,105,160,0.75)" stroke-width="0.5"/>
<circle cx="141.10" cy="80.58" r="1.5" fill="rgba(65,115,170,0.55)" stroke="rgba(55,105,160,0.75)" stroke-width="0.5"/>
<circle cx="141.10" cy="87.78" r="1.5" fill="rgba(65,115,170,0.55)" stroke="rgba(55,105,160,0.75)" stroke-width="0.5"/>
<circle cx="141.10" cy="96.78" r="1.5" fill="rgba(65,115,170,0.55)" stroke="rgba(55,105,160,0.75)" stroke-width="0.5"/>
<circle cx="141.10" cy="100.05" r="1.5" fill="rgba(65,115,170,0.55)" stroke="rgba(55,105,160,0.75)" stroke-width="0.5"/>
<circle cx="141.10" cy="101.20" r="1.5" fill="rgba(65,115,170,0.55)" stroke="rgba(55,105,160,0.75)" stroke-width="0.5"/>
<circle cx="144.56" cy="65.68" r="1.5" fill="rgba(65,115,170,0.55)" stroke="rgba(55,105,160,0.75)" stroke-width="0.5"/>
<circle cx="144.56" cy="78.44" r="1.5" fill="rgba(65,115,170,0.55)" stroke="rgba(55,105,160,0.75)" stroke-width="0.5"/>
<circle cx="144.56" cy="85.72" r="1.5" fill="rgba(65,115,170,0.55)" stroke="rgba(55,105,160,0.75)" stroke-width="0.5"/>
<circle cx="144.56" cy="86.87" r="1.5" fill="rgba(65,115,170,0.55)" stroke="rgba(55,105,160,0.75)" stroke-width="0.5"/>
<circle cx="144.56" cy="100.20" r="1.5" fill="rgba(65,115,170,0.55)" stroke="rgba(55,105,160,0.75)" stroke-width="0.5"/>
<circle cx="144.56" cy="103.55" r="1.5" fill="rgba(65,115,170,0.55)" stroke="rgba(55,105,160,0.75)" stroke-width="0.5"/>
<circle cx="148.02" cy="67.22" r="1.5" fill="rgba(65,115,170,0.55)" stroke="rgba(55,105,160,0.75)" stroke-width="0.5"/>
<circle cx="148.02" cy="77.53" r="1.5" fill="rgba(65,115,170,0.55)" stroke="rgba(55,105,160,0.75)" stroke-width="0.5"/>
<circle cx="148.02" cy="87.02" r="1.5" fill="rgba(65,115,170,0.55)" stroke="rgba(55,105,160,0.75)" stroke-width="0.5"/>
<circle cx="148.02" cy="92.01" r="1.5" fill="rgba(65,115,170,0.55)" stroke="rgba(55,105,160,0.75)" stroke-width="0.5"/>
<circle cx="151.48" cy="77.11" r="1.5" fill="rgba(65,115,170,0.55)" stroke="rgba(55,105,160,0.75)" stroke-width="0.5"/>
<circle cx="151.48" cy="78.74" r="1.5" fill="rgba(65,115,170,0.55)" stroke="rgba(55,105,160,0.75)" stroke-width="0.5"/>
<circle cx="151.48" cy="90.44" r="1.5" fill="rgba(65,115,170,0.55)" stroke="rgba(55,105,160,0.75)" stroke-width="0.5"/>
<circle cx="154.94" cy="68.01" r="1.5" fill="rgba(65,115,170,0.55)" stroke="rgba(55,105,160,0.75)" stroke-width="0.5"/>
<circle cx="154.94" cy="69.40" r="1.5" fill="rgba(65,115,170,0.55)" stroke="rgba(55,105,160,0.75)" stroke-width="0.5"/>
<circle cx="154.94" cy="75.37" r="1.5" fill="rgba(65,115,170,0.55)" stroke="rgba(55,105,160,0.75)" stroke-width="0.5"/>
<circle cx="154.94" cy="86.50" r="1.5" fill="rgba(65,115,170,0.55)" stroke="rgba(55,105,160,0.75)" stroke-width="0.5"/>
<circle cx="158.40" cy="79.61" r="1.5" fill="rgba(65,115,170,0.55)" stroke="rgba(55,105,160,0.75)" stroke-width="0.5"/>
<circle cx="158.40" cy="79.61" r="1.5" fill="rgba(65,115,170,0.55)" stroke="rgba(55,105,160,0.75)" stroke-width="0.5"/>
<circle cx="161.86" cy="58.90" r="1.5" fill="rgba(65,115,170,0.55)" stroke="rgba(55,105,160,0.75)" stroke-width="0.5"/>
<circle cx="161.86" cy="64.47" r="1.5" fill="rgba(65,115,170,0.55)" stroke="rgba(55,105,160,0.75)" stroke-width="0.5"/>
<circle cx="161.86" cy="71.58" r="1.5" fill="rgba(65,115,170,0.55)" stroke="rgba(55,105,160,0.75)" stroke-width="0.5"/>
<circle cx="161.86" cy="74.69" r="1.5" fill="rgba(65,115,170,0.55)" stroke="rgba(55,105,160,0.75)" stroke-width="0.5"/>
<circle cx="165.32" cy="59.79" r="1.5" fill="rgba(65,115,170,0.55)" stroke="rgba(55,105,160,0.75)" stroke-width="0.5"/>
<circle cx="165.32" cy="60.94" r="1.5" fill="rgba(65,115,170,0.55)" stroke="rgba(55,105,160,0.75)" stroke-width="0.5"/>
<circle cx="165.32" cy="62.08" r="1.5" fill="rgba(65,115,170,0.55)" stroke="rgba(55,105,160,0.75)" stroke-width="0.5"/>
<circle cx="165.32" cy="63.14" r="1.5" fill="rgba(65,115,170,0.55)" stroke="rgba(55,105,160,0.75)" stroke-width="0.5"/>
<circle cx="165.32" cy="74.68" r="1.5" fill="rgba(65,115,170,0.55)" stroke="rgba(55,105,160,0.75)" stroke-width="0.5"/>
<circle cx="168.78" cy="63.62" r="1.5" fill="rgba(65,115,170,0.55)" stroke="rgba(55,105,160,0.75)" stroke-width="0.5"/>
<circle cx="168.78" cy="68.53" r="1.5" fill="rgba(65,115,170,0.55)" stroke="rgba(55,105,160,0.75)" stroke-width="0.5"/>
<circle cx="168.78" cy="73.35" r="1.5" fill="rgba(65,115,170,0.55)" stroke="rgba(55,105,160,0.75)" stroke-width="0.5"/>
<circle cx="168.78" cy="79.49" r="1.5" fill="rgba(65,115,170,0.55)" stroke="rgba(55,105,160,0.75)" stroke-width="0.5"/>
<circle cx="40.76" cy="186.83" r="1.45" fill="rgba(100,185,105,0.6)" stroke="rgba(80,165,90,0.8)" stroke-width="0.5"/>
<circle cx="51.14" cy="187.53" r="1.45" fill="rgba(100,185,105,0.6)" stroke="rgba(80,165,90,0.8)" stroke-width="0.5"/>
<circle cx="54.60" cy="168.78" r="1.45" fill="rgba(100,185,105,0.6)" stroke="rgba(80,165,90,0.8)" stroke-width="0.5"/>
<circle cx="58.06" cy="180.14" r="1.45" fill="rgba(100,185,105,0.6)" stroke="rgba(80,165,90,0.8)" stroke-width="0.5"/>
<circle cx="61.52" cy="150.10" r="1.45" fill="rgba(100,185,105,0.6)" stroke="rgba(80,165,90,0.8)" stroke-width="0.5"/>
<circle cx="64.98" cy="144.69" r="1.45" fill="rgba(100,185,105,0.6)" stroke="rgba(80,165,90,0.8)" stroke-width="0.5"/>
<circle cx="64.98" cy="156.88" r="1.45" fill="rgba(100,185,105,0.6)" stroke="rgba(80,165,90,0.8)" stroke-width="0.5"/>
<circle cx="64.98" cy="166.69" r="1.45" fill="rgba(100,185,105,0.6)" stroke="rgba(80,165,90,0.8)" stroke-width="0.5"/>
<circle cx="68.44" cy="155.47" r="1.45" fill="rgba(100,185,105,0.6)" stroke="rgba(80,165,90,0.8)" stroke-width="0.5"/>
<circle cx="172.24" cy="62.87" r="1.45" fill="rgba(100,185,105,0.6)" stroke="rgba(80,165,90,0.8)" stroke-width="0.5"/>
<circle cx="172.24" cy="69.82" r="1.45" fill="rgba(100,185,105,0.6)" stroke="rgba(80,165,90,0.8)" stroke-width="0.5"/>
<circle cx="175.70" cy="49.61" r="1.45" fill="rgba(100,185,105,0.6)" stroke="rgba(80,165,90,0.8)" stroke-width="0.5"/>
<circle cx="175.70" cy="62.45" r="1.45" fill="rgba(100,185,105,0.6)" stroke="rgba(80,165,90,0.8)" stroke-width="0.5"/>
<circle cx="179.16" cy="51.15" r="1.45" fill="rgba(100,185,105,0.6)" stroke="rgba(80,165,90,0.8)" stroke-width="0.5"/>
<circle cx="182.62" cy="46.55" r="1.45" fill="rgba(100,185,105,0.6)" stroke="rgba(80,165,90,0.8)" stroke-width="0.5"/>
<circle cx="182.62" cy="49.91" r="1.45" fill="rgba(100,185,105,0.6)" stroke="rgba(80,165,90,0.8)" stroke-width="0.5"/>
<circle cx="182.62" cy="59.39" r="1.45" fill="rgba(100,185,105,0.6)" stroke="rgba(80,165,90,0.8)" stroke-width="0.5"/>
<circle cx="193.00" cy="44.55" r="1.45" fill="rgba(100,185,105,0.6)" stroke="rgba(80,165,90,0.8)" stroke-width="0.5"/>
</g>
<rect x="28.5" y="17.5" width="191.00" height="189.00" fill="none" stroke="#4a4a4a" stroke-width="1.0"/>
<line x1="37.30" y1="206.5" x2="37.30" y2="208.5" stroke="#333" stroke-width="0.85"/>
<text x="37.30" y="213.90" font-family="'Liberation Sans', sans-serif" font-size="5.5" text-anchor="middle" fill="#222" stroke="#222" stroke-width="0.12">40</text>
<line x1="71.90" y1="206.5" x2="71.90" y2="208.5" stroke="#333" stroke-width="0.85"/>
<text x="71.90" y="213.90" font-family="'Liberation Sans', sans-serif" font-size="5.5" text-anchor="middle" fill="#222" stroke="#222" stroke-width="0.12">50</text>
<line x1="106.50" y1="206.5" x2="106.50" y2="208.5" stroke="#333" stroke-width="0.85"/>
<text x="106.50" y="213.90" font-family="'Liberation Sans', sans-serif" font-size="5.5" text-anchor="middle" fill="#222" stroke="#222" stroke-width="0.12">60</text>
<line x1="141.10" y1="206.5" x2="141.10" y2="208.5" stroke="#333" stroke-width="0.85"/>
<text x="141.10" y="213.90" font-family="'Liberation Sans', sans-serif" font-size="5.5" text-anchor="middle" fill="#222" stroke="#222" stroke-width="0.12">70</text>
<line x1="175.70" y1="206.5" x2="175.70" y2="208.5" stroke="#333" stroke-width="0.85"/>
<text x="175.70" y="213.90" font-family="'Liberation Sans', sans-serif" font-size="5.5" text-anchor="middle" fill="#222" stroke="#222" stroke-width="0.12">80</text>
<line x1="210.30" y1="206.5" x2="210.30" y2="208.5" stroke="#333" stroke-width="0.85"/>
<text x="210.30" y="213.90" font-family="'Liberation Sans', sans-serif" font-size="5.5" text-anchor="middle" fill="#222" stroke="#222" stroke-width="0.12">90</text>
<line x1="26.5" y1="186.60" x2="28.5" y2="186.60" stroke="#333" stroke-width="0.85"/>
<text x="25.30" y="188.55" font-family="'Liberation Sans', sans-serif" font-size="5.5" text-anchor="end" fill="#222" stroke="#222" stroke-width="0.12">40</text>
<line x1="26.5" y1="154.56" x2="28.5" y2="154.56" stroke="#333" stroke-width="0.85"/>
<text x="25.30" y="156.51" font-family="'Liberation Sans', sans-serif" font-size="5.5" text-anchor="end" fill="#222" stroke="#222" stroke-width="0.12">50</text>
<line x1="26.5" y1="122.52" x2="28.5" y2="122.52" stroke="#333" stroke-width="0.85"/>
<text x="25.30" y="124.47" font-family="'Liberation Sans', sans-serif" font-size="5.5" text-anchor="end" fill="#222" stroke="#222" stroke-width="0.12">60</text>
<line x1="26.5" y1="90.48" x2="28.5" y2="90.48" stroke="#333" stroke-width="0.85"/>
<text x="25.30" y="92.43" font-family="'Liberation Sans', sans-serif" font-size="5.5" text-anchor="end" fill="#222" stroke="#222" stroke-width="0.12">70</text>
<line x1="26.5" y1="58.44" x2="28.5" y2="58.44" stroke="#333" stroke-width="0.85"/>
<text x="25.30" y="60.39" font-family="'Liberation Sans', sans-serif" font-size="5.5" text-anchor="end" fill="#222" stroke="#222" stroke-width="0.12">80</text>
<line x1="26.5" y1="26.40" x2="28.5" y2="26.40" stroke="#333" stroke-width="0.85"/>
<text x="25.30" y="28.35" font-family="'Liberation Sans', sans-serif" font-size="5.5" text-anchor="end" fill="#222" stroke="#222" stroke-width="0.12">90</text>
<text x="3.00" y="8.20" font-family="'Liberation Serif', serif" font-size="9.6" text-anchor="start" fill="#111" stroke="#111" stroke-width="0.22">(a)</text>
<text x="124.00" y="227.80" font-family="'Liberation Serif', serif" font-size="8.7" text-anchor="middle" fill="#111" stroke="#111" stroke-width="0.22">True age (chronological age)</text>
<text x="11.60" y="108.20" font-family="'Liberation Serif', serif" font-size="8.7" text-anchor="middle" fill="#111" stroke="#111" stroke-width="0.22" transform="rotate(-90 11.6 108.2)">Predicted age</text>
<circle cx="36.8" cy="24.1" r="2.3" fill="rgb(150,188,222)" stroke="rgb(105,145,192)" stroke-width="0.55"/>
<circle cx="36.8" cy="32.5" r="2.3" fill="rgb(145,215,145)" stroke="rgb(88,172,98)" stroke-width="0.55"/>
<text x="42.70" y="26.40" font-family="'Liberation Serif', serif" font-size="7.45" text-anchor="start" fill="#111" stroke="#111" stroke-width="0.22">Test 2D MRI scans from SMC - CU</text>
<text x="42.70" y="35.20" font-family="'Liberation Serif', serif" font-size="7.45" text-anchor="start" fill="#111" stroke="#111" stroke-width="0.22">Test datapoints used for bias correction</text>
<text x="42.70" y="44.30" font-family="'Liberation Serif', serif" font-size="7.45" text-anchor="start" fill="#111" stroke="#111" stroke-width="0.22">Corrected MAE 2.73 [2.54, 2.92] years</text>
<text x="42.70" y="53.00" font-family="'Liberation Serif', serif" font-size="7.45" text-anchor="start" fill="#111" stroke="#111" stroke-width="0.22">Ensemble MAE 2.23 years</text>
<clipPath id="cb"><rect x="260.5" y="18.0" width="190.0" height="188.5"/></clipPath>
<g clip-path="url(#cb)">
<line x1="293.49" y1="167.45" x2="293.49" y2="137.69" stroke="rgba(195,140,150,0.3)" stroke-width="0.65"/>
<line x1="300.40" y1="148.44" x2="300.40" y2="128.58" stroke="rgba(195,140,150,0.3)" stroke-width="0.65"/>
<line x1="300.40" y1="155.85" x2="300.40" y2="138.35" stroke="rgba(195,140,150,0.3)" stroke-width="0.65"/>
<line x1="307.32" y1="152.84" x2="307.32" y2="122.37" stroke="rgba(195,140,150,0.3)" stroke-width="0.65"/>
<line x1="307.32" y1="167.91" x2="307.32" y2="133.61" stroke="rgba(195,140,150,0.3)" stroke-width="0.65"/>
<line x1="310.77" y1="143.25" x2="310.77" y2="111.87" stroke="rgba(195,140,150,0.3)" stroke-width="0.65"/>
<line x1="324.60" y1="132.66" x2="324.60" y2="102.30" stroke="rgba(195,140,150,0.3)" stroke-width="0.65"/>
<line x1="324.60" y1="135.53" x2="324.60" y2="104.91" stroke="rgba(195,140,150,0.3)" stroke-width="0.65"/>
<line x1="324.60" y1="135.90" x2="324.60" y2="107.01" stroke="rgba(195,140,150,0.3)" stroke-width="0.65"/>
<line x1="324.60" y1="131.66" x2="324.60" y2="114.08" stroke="rgba(195,140,150,0.3)" stroke-width="0.65"/>
<line x1="324.60" y1="139.12" x2="324.60" y2="115.12" stroke="rgba(195,140,150,0.3)" stroke-width="0.65"/>
<line x1="324.60" y1="152.31" x2="324.60" y2="131.88" stroke="rgba(195,140,150,0.3)" stroke-width="0.65"/>
<line x1="328.05" y1="136.20" x2="328.05" y2="122.97" stroke="rgba(195,140,150,0.3)" stroke-width="0.65"/>
<line x1="328.05" y1="143.41" x2="328.05" y2="130.20" stroke="rgba(195,140,150,0.3)" stroke-width="0.65"/>
<line x1="331.51" y1="113.80" x2="331.51" y2="95.05" stroke="rgba(195,140,150,0.3)" stroke-width="0.65"/>
<line x1="331.51" y1="122.76" x2="331.51" y2="104.45" stroke="rgba(195,140,150,0.3)" stroke-width="0.65"/>
<line x1="334.96" y1="128.72" x2="334.96" y2="100.87" stroke="rgba(195,140,150,0.3)" stroke-width="0.65"/>
<line x1="334.96" y1="141.82" x2="334.96" y2="108.15" stroke="rgba(195,140,150,0.3)" stroke-width="0.65"/>
<line x1="338.42" y1="112.37" x2="338.42" y2="89.92" stroke="rgba(195,140,150,0.3)" stroke-width="0.65"/>
<line x1="338.42" y1="128.63" x2="338.42" y2="95.39" stroke="rgba(195,140,150,0.3)" stroke-width="0.65"/>
<line x1="338.42" y1="129.20" x2="338.42" y2="94.83" stroke="rgba(195,140,150,0.3)" stroke-width="0.65"/>
<line x1="341.88" y1="132.81" x2="341.88" y2="99.17" stroke="rgba(195,140,150,0.3)" stroke-width="0.65"/>
<line x1="345.33" y1="130.42" x2="345.33" y2="109.79" stroke="rgba(195,140,150,0.3)" stroke-width="0.65"/>
<line x1="348.79" y1="109.70" x2="348.79" y2="92.25" stroke="rgba(195,140,150,0.3)" stroke-width="0.65"/>
<line x1="348.79" y1="109.77" x2="348.79" y2="92.18" stroke="rgba(195,140,150,0.3)" stroke-width="0.65"/>
<line x1="348.79" y1="118.84" x2="348.79" y2="101.92" stroke="rgba(195,140,150,0.3)" stroke-width="0.65"/>
<line x1="348.79" y1="121.35" x2="348.79" y2="104.25" stroke="rgba(195,140,150,0.3)" stroke-width="0.65"/>
<line x1="348.79" y1="127.62" x2="348.79" y2="101.27" stroke="rgba(195,140,150,0.3)" stroke-width="0.65"/>
<line x1="348.79" y1="136.87" x2="348.79" y2="104.44" stroke="rgba(195,140,150,0.3)" stroke-width="0.65"/>
<line x1="348.79" y1="136.21" x2="348.79" y2="105.10" stroke="rgba(195,140,150,0.3)" stroke-width="0.65"/>
<line x1="352.24" y1="113.19" x2="352.24" y2="90.04" stroke="rgba(195,140,150,0.3)" stroke-width="0.65"/>
<line x1="352.24" y1="129.95" x2="352.24" y2="102.97" stroke="rgba(195,140,150,0.3)" stroke-width="0.65"/>
<line x1="352.24" y1="134.35" x2="352.24" y2="104.14" stroke="rgba(195,140,150,0.3)" stroke-width="0.65"/>
<line x1="352.24" y1="135.06" x2="352.24" y2="120.60" stroke="rgba(195,140,150,0.3)" stroke-width="0.65"/>
<line x1="355.70" y1="111.22" x2="355.70" y2="84.07" stroke="rgba(195,140,150,0.3)" stroke-width="0.65"/>
<line x1="355.70" y1="116.34" x2="355.70" y2="83.70" stroke="rgba(195,140,150,0.3)" stroke-width="0.65"/>
<line x1="355.70" y1="115.57" x2="355.70" y2="85.74" stroke="rgba(195,140,150,0.3)" stroke-width="0.65"/>
<line x1="359.16" y1="105.04" x2="359.16" y2="75.92" stroke="rgba(195,140,150,0.3)" stroke-width="0.65"/>
<line x1="359.16" y1="113.18" x2="359.16" y2="90.06" stroke="rgba(195,140,150,0.3)" stroke-width="0.65"/>
<line x1="359.16" y1="122.58" x2="359.16" y2="106.05" stroke="rgba(195,140,150,0.3)" stroke-width="0.65"/>
<line x1="362.61" y1="98.26" x2="362.61" y2="68.27" stroke="rgba(195,140,150,0.3)" stroke-width="0.65"/>
<line x1="362.61" y1="94.00" x2="362.61" y2="74.08" stroke="rgba(195,140,150,0.3)" stroke-width="0.65"/>
<line x1="362.61" y1="114.60" x2="362.61" y2="84.36" stroke="rgba(195,140,150,0.3)" stroke-width="0.65"/>
<line x1="362.61" y1="117.35" x2="362.61" y2="83.34" stroke="rgba(195,140,150,0.3)" stroke-width="0.65"/>
<line x1="362.61" y1="115.16" x2="362.61" y2="93.84" stroke="rgba(195,140,150,0.3)" stroke-width="0.65"/>
<line x1="362.61" y1="116.77" x2="362.61" y2="95.34" stroke="rgba(195,140,150,0.3)" stroke-width="0.65"/>
<line x1="362.61" y1="123.74" x2="362.61" y2="90.28" stroke="rgba(195,140,150,0.3)" stroke-width="0.65"/>
<line x1="362.61" y1="124.08" x2="362.61" y2="95.52" stroke="rgba(195,140,150,0.3)" stroke-width="0.65"/>
<line x1="366.07" y1="91.12" x2="366.07" y2="74.78" stroke="rgba(195,140,150,0.3)" stroke-width="0.65"/>
<line x1="366.07" y1="104.76" x2="366.07" y2="89.36" stroke="rgba(195,140,150,0.3)" stroke-width="0.65"/>
<line x1="366.07" y1="108.26" x2="366.07" y2="92.34" stroke="rgba(195,140,150,0.3)" stroke-width="0.65"/>
<line x1="366.07" y1="117.30" x2="366.07" y2="84.77" stroke="rgba(195,140,150,0.3)" stroke-width="0.65"/>
<line x1="366.07" y1="123.07" x2="366.07" y2="92.70" stroke="rgba(195,140,150,0.3)" stroke-width="0.65"/>
<line x1="369.52" y1="88.48" x2="369.52" y2="72.67" stroke="rgba(195,140,150,0.3)" stroke-width="0.65"/>
<line x1="369.52" y1="102.46" x2="369.52" y2="71.66" stroke="rgba(195,140,150,0.3)" stroke-width="0.65"/>
<line x1="369.52" y1="104.98" x2="369.52" y2="70.79" stroke="rgba(195,140,150,0.3)" stroke-width="0.65"/>
<line x1="369.52" y1="102.01" x2="369.52" y2="74.94" stroke="rgba(195,140,150,0.3)" stroke-width="0.65"/>
<line x1="369.52" y1="100.51" x2="369.52" y2="80.19" stroke="rgba(195,140,150,0.3)" stroke-width="0.65"/>
<line x1="372.98" y1="92.88" x2="372.98" y2="68.19" stroke="rgba(195,140,150,0.3)" stroke-width="0.65"/>
<line x1="372.98" y1="102.80" x2="372.98" y2="87.32" stroke="rgba(195,140,150,0.3)" stroke-width="0.65"/>
<line x1="372.98" y1="105.25" x2="372.98" y2="92.35" stroke="rgba(195,140,150,0.3)" stroke-width="0.65"/>
<line x1="372.98" y1="116.11" x2="372.98" y2="82.13" stroke="rgba(195,140,150,0.3)" stroke-width="0.65"/>
<line x1="372.98" y1="114.45" x2="372.98" y2="87.54" stroke="rgba(195,140,150,0.3)" stroke-width="0.65"/>
<line x1="372.98" y1="121.81" x2="372.98" y2="97.62" stroke="rgba(195,140,150,0.3)" stroke-width="0.65"/>
<line x1="372.98" y1="128.03" x2="372.98" y2="94.87" stroke="rgba(195,140,150,0.3)" stroke-width="0.65"/>
<line x1="376.44" y1="91.70" x2="376.44" y2="69.55" stroke="rgba(195,140,150,0.3)" stroke-width="0.65"/>
<line x1="376.44" y1="103.52" x2="376.44" y2="71.72" stroke="rgba(195,140,150,0.3)" stroke-width="0.65"/>
<line x1="376.44" y1="112.10" x2="376.44" y2="81.31" stroke="rgba(195,140,150,0.3)" stroke-width="0.65"/>
<line x1="376.44" y1="107.70" x2="376.44" y2="90.46" stroke="rgba(195,140,150,0.3)" stroke-width="0.65"/>
<line x1="379.89" y1="81.48" x2="379.89" y2="63.34" stroke="rgba(195,140,150,0.3)" stroke-width="0.65"/>
<line x1="379.89" y1="88.56" x2="379.89" y2="69.51" stroke="rgba(195,140,150,0.3)" stroke-width="0.65"/>
<line x1="379.89" y1="89.85" x2="379.89" y2="71.96" stroke="rgba(195,140,150,0.3)" stroke-width="0.65"/>
<line x1="379.89" y1="97.00" x2="379.89" y2="71.48" stroke="rgba(195,140,150,0.3)" stroke-width="0.65"/>
<line x1="379.89" y1="97.50" x2="379.89" y2="79.20" stroke="rgba(195,140,150,0.3)" stroke-width="0.65"/>
<line x1="379.89" y1="99.99" x2="379.89" y2="78.17" stroke="rgba(195,140,150,0.3)" stroke-width="0.65"/>
<line x1="379.89" y1="97.46" x2="379.89" y2="81.98" stroke="rgba(195,140,150,0.3)" stroke-width="0.65"/>
<line x1="379.89" y1="108.51" x2="379.89" y2="75.86" stroke="rgba(195,140,150,0.3)" stroke-width="0.65"/>
<line x1="379.89" y1="103.34" x2="379.89" y2="82.95" stroke="rgba(195,140,150,0.3)" stroke-width="0.65"/>
<line x1="379.89" y1="105.40" x2="379.89" y2="82.71" stroke="rgba(195,140,150,0.3)" stroke-width="0.65"/>
<line x1="379.89" y1="108.01" x2="379.89" y2="82.57" stroke="rgba(195,140,150,0.3)" stroke-width="0.65"/>
<line x1="379.89" y1="116.26" x2="379.89" y2="83.74" stroke="rgba(195,140,150,0.3)" stroke-width="0.65"/>
<line x1="379.89" y1="119.65" x2="379.89" y2="97.79" stroke="rgba(195,140,150,0.3)" stroke-width="0.65"/>
<line x1="379.89" y1="131.75" x2="379.89" y2="98.93" stroke="rgba(195,140,150,0.3)" stroke-width="0.65"/>
<line x1="383.35" y1="88.35" x2="383.35" y2="64.70" stroke="rgba(195,140,150,0.3)" stroke-width="0.65"/>
<line x1="383.35" y1="89.91" x2="383.35" y2="65.60" stroke="rgba(195,140,150,0.3)" stroke-width="0.65"/>
<line x1="383.35" y1="90.46" x2="383.35" y2="66.33" stroke="rgba(195,140,150,0.3)" stroke-width="0.65"/>
<line x1="383.35" y1="89.47" x2="383.35" y2="76.46" stroke="rgba(195,140,150,0.3)" stroke-width="0.65"/>
<line x1="383.35" y1="94.47" x2="383.35" y2="72.18" stroke="rgba(195,140,150,0.3)" stroke-width="0.65"/>
<line x1="383.35" y1="93.61" x2="383.35" y2="76.98" stroke="rgba(195,140,150,0.3)" stroke-width="0.65"/>
<line x1="383.35" y1="92.59" x2="383.35" y2="79.91" stroke="rgba(195,140,150,0.3)" stroke-width="0.65"/>
<line x1="383.35" y1="108.39" x2="383.35" y2="78.18" stroke="rgba(195,140,150,0.3)" stroke-width="0.65"/>
<line x1="383.35" y1="105.32" x2="383.35" y2="88.93" stroke="rgba(195,140,150,0.3)" stroke-width="0.65"/>
<line x1="386.80" y1="82.83" x2="386.80" y2="59.81" stroke="rgba(195,140,150,0.3)" stroke-width="0.65"/>
<line x1="386.80" y1="89.72" x2="386.80" y2="61.15" stroke="rgba(195,140,150,0.3)" stroke-width="0.65"/>
<line x1="386.80" y1="88.91" x2="386.80" y2="64.05" stroke="rgba(195,140,150,0.3)" stroke-width="0.65"/>
<line x1="386.80" y1="89.57" x2="386.80" y2="69.79" stroke="rgba(195,140,150,0.3)" stroke-width="0.65"/>
<line x1="386.80" y1="94.79" x2="386.80" y2="70.78" stroke="rgba(195,140,150,0.3)" stroke-width="0.65"/>
<line x1="386.80" y1="97.80" x2="386.80" y2="72.97" stroke="rgba(195,140,150,0.3)" stroke-width="0.65"/>
<line x1="386.80" y1="108.32" x2="386.80" y2="78.44" stroke="rgba(195,140,150,0.3)" stroke-width="0.65"/>
<line x1="386.80" y1="101.35" x2="386.80" y2="86.42" stroke="rgba(195,140,150,0.3)" stroke-width="0.65"/>
<line x1="390.26" y1="75.71" x2="390.26" y2="50.77" stroke="rgba(195,140,150,0.3)" stroke-width="0.65"/>
<line x1="390.26" y1="88.03" x2="390.26" y2="69.96" stroke="rgba(195,140,150,0.3)" stroke-width="0.65"/>
<line x1="390.26" y1="89.30" x2="390.26" y2="70.61" stroke="rgba(195,140,150,0.3)" stroke-width="0.65"/>
<line x1="390.26" y1="95.99" x2="390.26" y2="66.38" stroke="rgba(195,140,150,0.3)" stroke-width="0.65"/>
<line x1="390.26" y1="93.72" x2="390.26" y2="69.94" stroke="rgba(195,140,150,0.3)" stroke-width="0.65"/>
<line x1="390.26" y1="101.16" x2="390.26" y2="76.19" stroke="rgba(195,140,150,0.3)" stroke-width="0.65"/>
<line x1="390.26" y1="103.76" x2="390.26" y2="74.42" stroke="rgba(195,140,150,0.3)" stroke-width="0.65"/>
<line x1="390.26" y1="108.55" x2="390.26" y2="75.85" stroke="rgba(195,140,150,0.3)" stroke-width="0.65"/>
<line x1="393.72" y1="77.53" x2="393.72" y2="55.17" stroke="rgba(195,140,150,0.3)" stroke-width="0.65"/>
<line x1="393.72" y1="83.55" x2="393.72" y2="57.46" stroke="rgba(195,140,150,0.3)" stroke-width="0.65"/>
<line x1="393.72" y1="85.57" x2="393.72" y2="61.84" stroke="rgba(195,140,150,0.3)" stroke-width="0.65"/>
<line x1="393.72" y1="86.24" x2="393.72" y2="62.36" stroke="rgba(195,140,150,0.3)" stroke-width="0.65"/>
<line x1="393.72" y1="90.10" x2="393.72" y2="62.24" stroke="rgba(195,140,150,0.3)" stroke-width="0.65"/>
<line x1="393.72" y1="89.64" x2="393.72" y2="67.08" stroke="rgba(195,140,150,0.3)" stroke-width="0.65"/>
<line x1="393.72" y1="95.51" x2="393.72" y2="71.17" stroke="rgba(195,140,150,0.3)" stroke-width="0.65"/>
<line x1="393.72" y1="95.82" x2="393.72" y2="72.69" stroke="rgba(195,140,150,0.3)" stroke-width="0.65"/>
<line x1="393.72" y1="103.25" x2="393.72" y2="69.91" stroke="rgba(195,140,150,0.3)" stroke-width="0.65"/>
<line x1="393.72" y1="102.45" x2="393.72" y2="74.45" stroke="rgba(195,140,150,0.3)" stroke-width="0.65"/>
<line x1="397.17" y1="78.97" x2="397.17" y2="47.07" stroke="rgba(195,140,150,0.3)" stroke-width="0.65"/>
<line x1="397.17" y1="80.29" x2="397.17" y2="46.94" stroke="rgba(195,140,150,0.3)" stroke-width="0.65"/>
<line x1="397.17" y1="76.19" x2="397.17" y2="57.88" stroke="rgba(195,140,150,0.3)" stroke-width="0.65"/>
<line x1="397.17" y1="80.46" x2="397.17" y2="55.54" stroke="rgba(195,140,150,0.3)" stroke-width="0.65"/>
<line x1="397.17" y1="85.55" x2="397.17" y2="52.18" stroke="rgba(195,140,150,0.3)" stroke-width="0.65"/>
<line x1="397.17" y1="86.38" x2="397.17" y2="55.28" stroke="rgba(195,140,150,0.3)" stroke-width="0.65"/>
<line x1="397.17" y1="82.06" x2="397.17" y2="66.45" stroke="rgba(195,140,150,0.3)" stroke-width="0.65"/>
<line x1="397.17" y1="84.08" x2="397.17" y2="68.81" stroke="rgba(195,140,150,0.3)" stroke-width="0.65"/>
<line x1="397.17" y1="90.72" x2="397.17" y2="68.38" stroke="rgba(195,140,150,0.3)" stroke-width="0.65"/>
<line x1="397.17" y1="97.42" x2="397.17" y2="83.23" stroke="rgba(195,140,150,0.3)" stroke-width="0.65"/>
<line x1="400.63" y1="70.97" x2="400.63" y2="53.07" stroke="rgba(195,140,150,0.3)" stroke-width="0.65"/>
<line x1="400.63" y1="75.10" x2="400.63" y2="60.90" stroke="rgba(195,140,150,0.3)" stroke-width="0.65"/>
<line x1="400.63" y1="83.86" x2="400.63" y2="56.52" stroke="rgba(195,140,150,0.3)" stroke-width="0.65"/>
<line x1="400.63" y1="85.77" x2="400.63" y2="55.90" stroke="rgba(195,140,150,0.3)" stroke-width="0.65"/>
<line x1="400.63" y1="88.75" x2="400.63" y2="56.39" stroke="rgba(195,140,150,0.3)" stroke-width="0.65"/>
<line x1="400.63" y1="82.53" x2="400.63" y2="66.53" stroke="rgba(195,140,150,0.3)" stroke-width="0.65"/>
<line x1="400.63" y1="100.87" x2="400.63" y2="72.49" stroke="rgba(195,140,150,0.3)" stroke-width="0.65"/>
<line x1="404.08" y1="66.87" x2="404.08" y2="39.73" stroke="rgba(195,140,150,0.3)" stroke-width="0.65"/>
<line x1="404.08" y1="71.95" x2="404.08" y2="56.20" stroke="rgba(195,140,150,0.3)" stroke-width="0.65"/>
<line x1="404.08" y1="80.46" x2="404.08" y2="48.42" stroke="rgba(195,140,150,0.3)" stroke-width="0.65"/>
<line x1="404.08" y1="82.45" x2="404.08" y2="48.54" stroke="rgba(195,140,150,0.3)" stroke-width="0.65"/>
<line x1="404.08" y1="82.47" x2="404.08" y2="65.04" stroke="rgba(195,140,150,0.3)" stroke-width="0.65"/>
<line x1="404.08" y1="95.80" x2="404.08" y2="62.22" stroke="rgba(195,140,150,0.3)" stroke-width="0.65"/>
<line x1="407.54" y1="57.09" x2="407.54" y2="35.72" stroke="rgba(195,140,150,0.3)" stroke-width="0.65"/>
<line x1="407.54" y1="65.97" x2="407.54" y2="42.64" stroke="rgba(195,140,150,0.3)" stroke-width="0.65"/>
<line x1="407.54" y1="76.49" x2="407.54" y2="42.08" stroke="rgba(195,140,150,0.3)" stroke-width="0.65"/>
<line x1="407.54" y1="78.72" x2="407.54" y2="47.79" stroke="rgba(195,140,150,0.3)" stroke-width="0.65"/>
<line x1="407.54" y1="71.97" x2="407.54" y2="55.82" stroke="rgba(195,140,150,0.3)" stroke-width="0.65"/>
<line x1="407.54" y1="75.59" x2="407.54" y2="53.49" stroke="rgba(195,140,150,0.3)" stroke-width="0.65"/>
<line x1="407.54" y1="82.22" x2="407.54" y2="58.27" stroke="rgba(195,140,150,0.3)" stroke-width="0.65"/>
<line x1="407.54" y1="90.42" x2="407.54" y2="70.35" stroke="rgba(195,140,150,0.3)" stroke-width="0.65"/>
<line x1="407.54" y1="90.89" x2="407.54" y2="73.99" stroke="rgba(195,140,150,0.3)" stroke-width="0.65"/>
<line x1="411.00" y1="58.86" x2="411.00" y2="39.25" stroke="rgba(195,140,150,0.3)" stroke-width="0.65"/>
<line x1="411.00" y1="65.41" x2="411.00" y2="36.91" stroke="rgba(195,140,150,0.3)" stroke-width="0.65"/>
<line x1="411.00" y1="60.87" x2="411.00" y2="47.84" stroke="rgba(195,140,150,0.3)" stroke-width="0.65"/>
<line x1="411.00" y1="72.24" x2="411.00" y2="47.43" stroke="rgba(195,140,150,0.3)" stroke-width="0.65"/>
<line x1="411.00" y1="71.90" x2="411.00" y2="49.60" stroke="rgba(195,140,150,0.3)" stroke-width="0.65"/>
<line x1="411.00" y1="68.16" x2="411.00" y2="55.17" stroke="rgba(195,140,150,0.3)" stroke-width="0.65"/>
<line x1="411.00" y1="72.25" x2="411.00" y2="52.35" stroke="rgba(195,140,150,0.3)" stroke-width="0.65"/>
<line x1="411.00" y1="77.34" x2="411.00" y2="51.00" stroke="rgba(195,140,150,0.3)" stroke-width="0.65"/>
<line x1="411.00" y1="76.75" x2="411.00" y2="52.87" stroke="rgba(195,140,150,0.3)" stroke-width="0.65"/>
<line x1="411.00" y1="72.41" x2="411.00" y2="58.40" stroke="rgba(195,140,150,0.3)" stroke-width="0.65"/>
<line x1="414.45" y1="65.34" x2="414.45" y2="31.04" stroke="rgba(195,140,150,0.3)" stroke-width="0.65"/>
<line x1="414.45" y1="69.98" x2="414.45" y2="40.02" stroke="rgba(195,140,150,0.3)" stroke-width="0.65"/>
<line x1="414.45" y1="76.98" x2="414.45" y2="42.97" stroke="rgba(195,140,150,0.3)" stroke-width="0.65"/>
<line x1="414.45" y1="67.43" x2="414.45" y2="52.52" stroke="rgba(195,140,150,0.3)" stroke-width="0.65"/>
<line x1="414.45" y1="73.54" x2="414.45" y2="55.09" stroke="rgba(195,140,150,0.3)" stroke-width="0.65"/>
<line x1="414.45" y1="76.80" x2="414.45" y2="63.34" stroke="rgba(195,140,150,0.3)" stroke-width="0.65"/>
<line x1="417.91" y1="63.35" x2="417.91" y2="33.59" stroke="rgba(195,140,150,0.3)" stroke-width="0.65"/>
<line x1="417.91" y1="69.21" x2="417.91" y2="50.66" stroke="rgba(195,140,150,0.3)" stroke-width="0.65"/>
<line x1="417.91" y1="74.64" x2="417.91" y2="59.20" stroke="rgba(195,140,150,0.3)" stroke-width="0.65"/>
<line x1="421.36" y1="63.17" x2="421.36" y2="41.27" stroke="rgba(195,140,150,0.3)" stroke-width="0.65"/>
<line x1="421.36" y1="69.20" x2="421.36" y2="36.52" stroke="rgba(195,140,150,0.3)" stroke-width="0.65"/>
<line x1="421.36" y1="71.28" x2="421.36" y2="40.64" stroke="rgba(195,140,150,0.3)" stroke-width="0.65"/>
<line x1="421.36" y1="68.67" x2="421.36" y2="50.38" stroke="rgba(195,140,150,0.3)" stroke-width="0.65"/>
<line x1="421.36" y1="84.36" x2="421.36" y2="68.48" stroke="rgba(195,140,150,0.3)" stroke-width="0.65"/>
<line x1="424.82" y1="50.70" x2="424.82" y2="17.85" stroke="rgba(195,140,150,0.3)" stroke-width="0.65"/>
<line x1="424.82" y1="48.41" x2="424.82" y2="23.24" stroke="rgba(195,140,150,0.3)" stroke-width="0.65"/>
<line x1="424.82" y1="55.46" x2="424.82" y2="27.43" stroke="rgba(195,140,150,0.3)" stroke-width="0.65"/>
<line x1="424.82" y1="55.12" x2="424.82" y2="40.56" stroke="rgba(195,140,150,0.3)" stroke-width="0.65"/>
<line x1="424.82" y1="56.23" x2="424.82" y2="42.37" stroke="rgba(195,140,150,0.3)" stroke-width="0.65"/>
<line x1="424.82" y1="68.15" x2="424.82" y2="40.40" stroke="rgba(195,140,150,0.3)" stroke-width="0.65"/>
<line x1="424.82" y1="78.78" x2="424.82" y2="56.81" stroke="rgba(195,140,150,0.3)" stroke-width="0.65"/>
<line x1="428.28" y1="60.19" x2="428.28" y2="46.00" stroke="rgba(195,140,150,0.3)" stroke-width="0.65"/>
<line x1="428.28" y1="73.47" x2="428.28" y2="40.20" stroke="rgba(195,140,150,0.3)" stroke-width="0.65"/>
<line x1="428.28" y1="75.24" x2="428.28" y2="48.67" stroke="rgba(195,140,150,0.3)" stroke-width="0.65"/>
<line x1="431.73" y1="59.04" x2="431.73" y2="28.79" stroke="rgba(195,140,150,0.3)" stroke-width="0.65"/>
<line x1="435.19" y1="51.41" x2="435.19" y2="36.97" stroke="rgba(195,140,150,0.3)" stroke-width="0.65"/>
<line x1="435.19" y1="72.62" x2="435.19" y2="41.16" stroke="rgba(195,140,150,0.3)" stroke-width="0.65"/>
<line x1="438.64" y1="53.05" x2="438.64" y2="38.99" stroke="rgba(195,140,150,0.3)" stroke-width="0.65"/>
<line x1="438.64" y1="71.42" x2="438.64" y2="39.81" stroke="rgba(195,140,150,0.3)" stroke-width="0.65"/>
<line x1="269.30" y1="197.90" x2="442.10" y2="40.50" stroke="#222" stroke-width="1.0"/>
<circle cx="293.49" cy="152.57" r="1.5" fill="rgba(190,55,68,0.55)" stroke="rgba(180,45,58,0.78)" stroke-width="0.5"/>
<circle cx="300.40" cy="138.51" r="1.5" fill="rgba(190,55,68,0.55)" stroke="rgba(180,45,58,0.78)" stroke-width="0.5"/>
<circle cx="300.40" cy="147.10" r="1.5" fill="rgba(190,55,68,0.55)" stroke="rgba(180,45,58,0.78)" stroke-width="0.5"/>
<circle cx="307.32" cy="137.61" r="1.5" fill="rgba(190,55,68,0.55)" stroke="rgba(180,45,58,0.78)" stroke-width="0.5"/>
<circle cx="307.32" cy="150.76" r="1.5" fill="rgba(190,55,68,0.55)" stroke="rgba(180,45,58,0.78)" stroke-width="0.5"/>
<circle cx="310.77" cy="127.56" r="1.5" fill="rgba(190,55,68,0.55)" stroke="rgba(180,45,58,0.78)" stroke-width="0.5"/>
<circle cx="324.60" cy="117.48" r="1.5" fill="rgba(190,55,68,0.55)" stroke="rgba(180,45,58,0.78)" stroke-width="0.5"/>
<circle cx="324.60" cy="120.22" r="1.5" fill="rgba(190,55,68,0.55)" stroke="rgba(180,45,58,0.78)" stroke-width="0.5"/>
<circle cx="324.60" cy="121.45" r="1.5" fill="rgba(190,55,68,0.55)" stroke="rgba(180,45,58,0.78)" stroke-width="0.5"/>
<circle cx="324.60" cy="122.87" r="1.5" fill="rgba(190,55,68,0.55)" stroke="rgba(180,45,58,0.78)" stroke-width="0.5"/>
<circle cx="324.60" cy="127.12" r="1.5" fill="rgba(190,55,68,0.55)" stroke="rgba(180,45,58,0.78)" stroke-width="0.5"/>
<circle cx="324.60" cy="142.10" r="1.5" fill="rgba(190,55,68,0.55)" stroke="rgba(180,45,58,0.78)" stroke-width="0.5"/>
<circle cx="328.05" cy="129.59" r="1.5" fill="rgba(190,55,68,0.55)" stroke="rgba(180,45,58,0.78)" stroke-width="0.5"/>
<circle cx="328.05" cy="136.80" r="1.5" fill="rgba(190,55,68,0.55)" stroke="rgba(180,45,58,0.78)" stroke-width="0.5"/>
<circle cx="331.51" cy="104.43" r="1.5" fill="rgba(190,55,68,0.55)" stroke="rgba(180,45,58,0.78)" stroke-width="0.5"/>
<circle cx="331.51" cy="113.61" r="1.5" fill="rgba(190,55,68,0.55)" stroke="rgba(180,45,58,0.78)" stroke-width="0.5"/>
<circle cx="334.96" cy="114.80" r="1.5" fill="rgba(190,55,68,0.55)" stroke="rgba(180,45,58,0.78)" stroke-width="0.5"/>
<circle cx="334.96" cy="124.98" r="1.5" fill="rgba(190,55,68,0.55)" stroke="rgba(180,45,58,0.78)" stroke-width="0.5"/>
<circle cx="338.42" cy="101.14" r="1.5" fill="rgba(190,55,68,0.55)" stroke="rgba(180,45,58,0.78)" stroke-width="0.5"/>
<circle cx="338.42" cy="112.01" r="1.5" fill="rgba(190,55,68,0.55)" stroke="rgba(180,45,58,0.78)" stroke-width="0.5"/>
<circle cx="338.42" cy="112.01" r="1.5" fill="rgba(190,55,68,0.55)" stroke="rgba(180,45,58,0.78)" stroke-width="0.5"/>
<circle cx="341.88" cy="115.99" r="1.5" fill="rgba(190,55,68,0.55)" stroke="rgba(180,45,58,0.78)" stroke-width="0.5"/>
<circle cx="345.33" cy="120.10" r="1.5" fill="rgba(190,55,68,0.55)" stroke="rgba(180,45,58,0.78)" stroke-width="0.5"/>
<circle cx="348.79" cy="100.97" r="1.5" fill="rgba(190,55,68,0.55)" stroke="rgba(180,45,58,0.78)" stroke-width="0.5"/>
<circle cx="348.79" cy="100.97" r="1.5" fill="rgba(190,55,68,0.55)" stroke="rgba(180,45,58,0.78)" stroke-width="0.5"/>
<circle cx="348.79" cy="110.38" r="1.5" fill="rgba(190,55,68,0.55)" stroke="rgba(180,45,58,0.78)" stroke-width="0.5"/>
<circle cx="348.79" cy="112.80" r="1.5" fill="rgba(190,55,68,0.55)" stroke="rgba(180,45,58,0.78)" stroke-width="0.5"/>
<circle cx="348.79" cy="114.44" r="1.5" fill="rgba(190,55,68,0.55)" stroke="rgba(180,45,58,0.78)" stroke-width="0.5"/>
<circle cx="348.79" cy="120.66" r="1.5" fill="rgba(190,55,68,0.55)" stroke="rgba(180,45,58,0.78)" stroke-width="0.5"/>
<circle cx="348.79" cy="120.66" r="1.5" fill="rgba(190,55,68,0.55)" stroke="rgba(180,45,58,0.78)" stroke-width="0.5"/>
<circle cx="352.24" cy="101.61" r="1.5" fill="rgba(190,55,68,0.55)" stroke="rgba(180,45,58,0.78)" stroke-width="0.5"/>
<circle cx="352.24" cy="116.46" r="1.5" fill="rgba(190,55,68,0.55)" stroke="rgba(180,45,58,0.78)" stroke-width="0.5"/>
<circle cx="352.24" cy="119.24" r="1.5" fill="rgba(190,55,68,0.55)" stroke="rgba(180,45,58,0.78)" stroke-width="0.5"/>
<circle cx="352.24" cy="127.83" r="1.5" fill="rgba(190,55,68,0.55)" stroke="rgba(180,45,58,0.78)" stroke-width="0.5"/>
<circle cx="355.70" cy="97.64" r="1.5" fill="rgba(190,55,68,0.55)" stroke="rgba(180,45,58,0.78)" stroke-width="0.5"/>
<circle cx="355.70" cy="100.02" r="1.5" fill="rgba(190,55,68,0.55)" stroke="rgba(180,45,58,0.78)" stroke-width="0.5"/>
<circle cx="355.70" cy="100.66" r="1.5" fill="rgba(190,55,68,0.55)" stroke="rgba(180,45,58,0.78)" stroke-width="0.5"/>
<circle cx="359.16" cy="90.48" r="1.5" fill="rgba(190,55,68,0.55)" stroke="rgba(180,45,58,0.78)" stroke-width="0.5"/>
<circle cx="359.16" cy="101.62" r="1.5" fill="rgba(190,55,68,0.55)" stroke="rgba(180,45,58,0.78)" stroke-width="0.5"/>
<circle cx="359.16" cy="114.32" r="1.5" fill="rgba(190,55,68,0.55)" stroke="rgba(180,45,58,0.78)" stroke-width="0.5"/>
<circle cx="362.61" cy="83.26" r="1.5" fill="rgba(190,55,68,0.55)" stroke="rgba(180,45,58,0.78)" stroke-width="0.5"/>
<circle cx="362.61" cy="84.04" r="1.5" fill="rgba(190,55,68,0.55)" stroke="rgba(180,45,58,0.78)" stroke-width="0.5"/>
<circle cx="362.61" cy="99.48" r="1.5" fill="rgba(190,55,68,0.55)" stroke="rgba(180,45,58,0.78)" stroke-width="0.5"/>
<circle cx="362.61" cy="100.34" r="1.5" fill="rgba(190,55,68,0.55)" stroke="rgba(180,45,58,0.78)" stroke-width="0.5"/>
<circle cx="362.61" cy="104.50" r="1.5" fill="rgba(190,55,68,0.55)" stroke="rgba(180,45,58,0.78)" stroke-width="0.5"/>
<circle cx="362.61" cy="106.05" r="1.5" fill="rgba(190,55,68,0.55)" stroke="rgba(180,45,58,0.78)" stroke-width="0.5"/>
<circle cx="362.61" cy="107.01" r="1.5" fill="rgba(190,55,68,0.55)" stroke="rgba(180,45,58,0.78)" stroke-width="0.5"/>
<circle cx="362.61" cy="109.80" r="1.5" fill="rgba(190,55,68,0.55)" stroke="rgba(180,45,58,0.78)" stroke-width="0.5"/>
<circle cx="366.07" cy="82.95" r="1.5" fill="rgba(190,55,68,0.55)" stroke="rgba(180,45,58,0.78)" stroke-width="0.5"/>
<circle cx="366.07" cy="97.06" r="1.5" fill="rgba(190,55,68,0.55)" stroke="rgba(180,45,58,0.78)" stroke-width="0.5"/>
<circle cx="366.07" cy="100.30" r="1.5" fill="rgba(190,55,68,0.55)" stroke="rgba(180,45,58,0.78)" stroke-width="0.5"/>
<circle cx="366.07" cy="101.03" r="1.5" fill="rgba(190,55,68,0.55)" stroke="rgba(180,45,58,0.78)" stroke-width="0.5"/>
<circle cx="366.07" cy="107.88" r="1.5" fill="rgba(190,55,68,0.55)" stroke="rgba(180,45,58,0.78)" stroke-width="0.5"/>
<circle cx="369.52" cy="80.58" r="1.5" fill="rgba(190,55,68,0.55)" stroke="rgba(180,45,58,0.78)" stroke-width="0.5"/>
<circle cx="369.52" cy="87.06" r="1.5" fill="rgba(190,55,68,0.55)" stroke="rgba(180,45,58,0.78)" stroke-width="0.5"/>
<circle cx="369.52" cy="87.88" r="1.5" fill="rgba(190,55,68,0.55)" stroke="rgba(180,45,58,0.78)" stroke-width="0.5"/>
<circle cx="369.52" cy="88.48" r="1.5" fill="rgba(190,55,68,0.55)" stroke="rgba(180,45,58,0.78)" stroke-width="0.5"/>
<circle cx="369.52" cy="90.35" r="1.5" fill="rgba(190,55,68,0.55)" stroke="rgba(180,45,58,0.78)" stroke-width="0.5"/>
<circle cx="372.98" cy="80.53" r="1.5" fill="rgba(190,55,68,0.55)" stroke="rgba(180,45,58,0.78)" stroke-width="0.5"/>
<circle cx="372.98" cy="95.06" r="1.5" fill="rgba(190,55,68,0.55)" stroke="rgba(180,45,58,0.78)" stroke-width="0.5"/>
<circle cx="372.98" cy="98.80" r="1.5" fill="rgba(190,55,68,0.55)" stroke="rgba(180,45,58,0.78)" stroke-width="0.5"/>
<circle cx="372.98" cy="99.12" r="1.5" fill="rgba(190,55,68,0.55)" stroke="rgba(180,45,58,0.78)" stroke-width="0.5"/>
<circle cx="372.98" cy="100.99" r="1.5" fill="rgba(190,55,68,0.55)" stroke="rgba(180,45,58,0.78)" stroke-width="0.5"/>
<circle cx="372.98" cy="109.72" r="1.5" fill="rgba(190,55,68,0.55)" stroke="rgba(180,45,58,0.78)" stroke-width="0.5"/>
<circle cx="372.98" cy="111.45" r="1.5" fill="rgba(190,55,68,0.55)" stroke="rgba(180,45,58,0.78)" stroke-width="0.5"/>
<circle cx="376.44" cy="80.63" r="1.5" fill="rgba(190,55,68,0.55)" stroke="rgba(180,45,58,0.78)" stroke-width="0.5"/>
<circle cx="376.44" cy="87.62" r="1.5" fill="rgba(190,55,68,0.55)" stroke="rgba(180,45,58,0.78)" stroke-width="0.5"/>
<circle cx="376.44" cy="96.70" r="1.5" fill="rgba(190,55,68,0.55)" stroke="rgba(180,45,58,0.78)" stroke-width="0.5"/>
<circle cx="376.44" cy="99.08" r="1.5" fill="rgba(190,55,68,0.55)" stroke="rgba(180,45,58,0.78)" stroke-width="0.5"/>
<circle cx="379.89" cy="72.41" r="1.5" fill="rgba(190,55,68,0.55)" stroke="rgba(180,45,58,0.78)" stroke-width="0.5"/>
<circle cx="379.89" cy="79.03" r="1.5" fill="rgba(190,55,68,0.55)" stroke="rgba(180,45,58,0.78)" stroke-width="0.5"/>
<circle cx="379.89" cy="80.91" r="1.5" fill="rgba(190,55,68,0.55)" stroke="rgba(180,45,58,0.78)" stroke-width="0.5"/>
<circle cx="379.89" cy="84.24" r="1.5" fill="rgba(190,55,68,0.55)" stroke="rgba(180,45,58,0.78)" stroke-width="0.5"/>
<circle cx="379.89" cy="88.35" r="1.5" fill="rgba(190,55,68,0.55)" stroke="rgba(180,45,58,0.78)" stroke-width="0.5"/>
<circle cx="379.89" cy="89.08" r="1.5" fill="rgba(190,55,68,0.55)" stroke="rgba(180,45,58,0.78)" stroke-width="0.5"/>
<circle cx="379.89" cy="89.72" r="1.5" fill="rgba(190,55,68,0.55)" stroke="rgba(180,45,58,0.78)" stroke-width="0.5"/>
<circle cx="379.89" cy="92.19" r="1.5" fill="rgba(190,55,68,0.55)" stroke="rgba(180,45,58,0.78)" stroke-width="0.5"/>
<circle cx="379.89" cy="93.15" r="1.5" fill="rgba(190,55,68,0.55)" stroke="rgba(180,45,58,0.78)" stroke-width="0.5"/>
<circle cx="379.89" cy="94.06" r="1.5" fill="rgba(190,55,68,0.55)" stroke="rgba(180,45,58,0.78)" stroke-width="0.5"/>
<circle cx="379.89" cy="95.29" r="1.5" fill="rgba(190,55,68,0.55)" stroke="rgba(180,45,58,0.78)" stroke-width="0.5"/>
<circle cx="379.89" cy="100.00" r="1.5" fill="rgba(190,55,68,0.55)" stroke="rgba(180,45,58,0.78)" stroke-width="0.5"/>
<circle cx="379.89" cy="108.72" r="1.5" fill="rgba(190,55,68,0.55)" stroke="rgba(180,45,58,0.78)" stroke-width="0.5"/>
<circle cx="379.89" cy="115.34" r="1.5" fill="rgba(190,55,68,0.55)" stroke="rgba(180,45,58,0.78)" stroke-width="0.5"/>
<circle cx="383.35" cy="76.52" r="1.5" fill="rgba(190,55,68,0.55)" stroke="rgba(180,45,58,0.78)" stroke-width="0.5"/>
<circle cx="383.35" cy="77.76" r="1.5" fill="rgba(190,55,68,0.55)" stroke="rgba(180,45,58,0.78)" stroke-width="0.5"/>
<circle cx="383.35" cy="78.40" r="1.5" fill="rgba(190,55,68,0.55)" stroke="rgba(180,45,58,0.78)" stroke-width="0.5"/>
<circle cx="383.35" cy="82.96" r="1.5" fill="rgba(190,55,68,0.55)" stroke="rgba(180,45,58,0.78)" stroke-width="0.5"/>
<circle cx="383.35" cy="83.33" r="1.5" fill="rgba(190,55,68,0.55)" stroke="rgba(180,45,58,0.78)" stroke-width="0.5"/>
<circle cx="383.35" cy="85.29" r="1.5" fill="rgba(190,55,68,0.55)" stroke="rgba(180,45,58,0.78)" stroke-width="0.5"/>
<circle cx="383.35" cy="86.25" r="1.5" fill="rgba(190,55,68,0.55)" stroke="rgba(180,45,58,0.78)" stroke-width="0.5"/>
<circle cx="383.35" cy="93.29" r="1.5" fill="rgba(190,55,68,0.55)" stroke="rgba(180,45,58,0.78)" stroke-width="0.5"/>
<circle cx="383.35" cy="97.12" r="1.5" fill="rgba(190,55,68,0.55)" stroke="rgba(180,45,58,0.78)" stroke-width="0.5"/>
<circle cx="386.80" cy="71.32" r="1.5" fill="rgba(190,55,68,0.55)" stroke="rgba(180,45,58,0.78)" stroke-width="0.5"/>
<circle cx="386.80" cy="75.43" r="1.5" fill="rgba(190,55,68,0.55)" stroke="rgba(180,45,58,0.78)" stroke-width="0.5"/>
<circle cx="386.80" cy="76.48" r="1.5" fill="rgba(190,55,68,0.55)" stroke="rgba(180,45,58,0.78)" stroke-width="0.5"/>
<circle cx="386.80" cy="79.68" r="1.5" fill="rgba(190,55,68,0.55)" stroke="rgba(180,45,58,0.78)" stroke-width="0.5"/>
<circle cx="386.80" cy="82.78" r="1.5" fill="rgba(190,55,68,0.55)" stroke="rgba(180,45,58,0.78)" stroke-width="0.5"/>
<circle cx="386.80" cy="85.39" r="1.5" fill="rgba(190,55,68,0.55)" stroke="rgba(180,45,58,0.78)" stroke-width="0.5"/>
<circle cx="386.80" cy="93.38" r="1.5" fill="rgba(190,55,68,0.55)" stroke="rgba(180,45,58,0.78)" stroke-width="0.5"/>
<circle cx="386.80" cy="93.88" r="1.5" fill="rgba(190,55,68,0.55)" stroke="rgba(180,45,58,0.78)" stroke-width="0.5"/>
<circle cx="390.26" cy="63.24" r="1.5" fill="rgba(190,55,68,0.55)" stroke="rgba(180,45,58,0.78)" stroke-width="0.5"/>
<circle cx="390.26" cy="79.00" r="1.5" fill="rgba(190,55,68,0.55)" stroke="rgba(180,45,58,0.78)" stroke-width="0.5"/>
<circle cx="390.26" cy="79.96" r="1.5" fill="rgba(190,55,68,0.55)" stroke="rgba(180,45,58,0.78)" stroke-width="0.5"/>
<circle cx="390.26" cy="81.19" r="1.5" fill="rgba(190,55,68,0.55)" stroke="rgba(180,45,58,0.78)" stroke-width="0.5"/>
<circle cx="390.26" cy="81.83" r="1.5" fill="rgba(190,55,68,0.55)" stroke="rgba(180,45,58,0.78)" stroke-width="0.5"/>
<circle cx="390.26" cy="88.68" r="1.5" fill="rgba(190,55,68,0.55)" stroke="rgba(180,45,58,0.78)" stroke-width="0.5"/>
<circle cx="390.26" cy="89.09" r="1.5" fill="rgba(190,55,68,0.55)" stroke="rgba(180,45,58,0.78)" stroke-width="0.5"/>
<circle cx="390.26" cy="92.20" r="1.5" fill="rgba(190,55,68,0.55)" stroke="rgba(180,45,58,0.78)" stroke-width="0.5"/>
<circle cx="393.72" cy="66.35" r="1.5" fill="rgba(190,55,68,0.55)" stroke="rgba(180,45,58,0.78)" stroke-width="0.5"/>
<circle cx="393.72" cy="70.51" r="1.5" fill="rgba(190,55,68,0.55)" stroke="rgba(180,45,58,0.78)" stroke-width="0.5"/>
<circle cx="393.72" cy="73.70" r="1.5" fill="rgba(190,55,68,0.55)" stroke="rgba(180,45,58,0.78)" stroke-width="0.5"/>
<circle cx="393.72" cy="74.30" r="1.5" fill="rgba(190,55,68,0.55)" stroke="rgba(180,45,58,0.78)" stroke-width="0.5"/>
<circle cx="393.72" cy="76.17" r="1.5" fill="rgba(190,55,68,0.55)" stroke="rgba(180,45,58,0.78)" stroke-width="0.5"/>
<circle cx="393.72" cy="78.36" r="1.5" fill="rgba(190,55,68,0.55)" stroke="rgba(180,45,58,0.78)" stroke-width="0.5"/>
<circle cx="393.72" cy="83.34" r="1.5" fill="rgba(190,55,68,0.55)" stroke="rgba(180,45,58,0.78)" stroke-width="0.5"/>
<circle cx="393.72" cy="84.25" r="1.5" fill="rgba(190,55,68,0.55)" stroke="rgba(180,45,58,0.78)" stroke-width="0.5"/>
<circle cx="393.72" cy="86.58" r="1.5" fill="rgba(190,55,68,0.55)" stroke="rgba(180,45,58,0.78)" stroke-width="0.5"/>
<circle cx="393.72" cy="88.45" r="1.5" fill="rgba(190,55,68,0.55)" stroke="rgba(180,45,58,0.78)" stroke-width="0.5"/>
<circle cx="397.17" cy="63.02" r="1.5" fill="rgba(190,55,68,0.55)" stroke="rgba(180,45,58,0.78)" stroke-width="0.5"/>
<circle cx="397.17" cy="63.61" r="1.5" fill="rgba(190,55,68,0.55)" stroke="rgba(180,45,58,0.78)" stroke-width="0.5"/>
<circle cx="397.17" cy="67.04" r="1.5" fill="rgba(190,55,68,0.55)" stroke="rgba(180,45,58,0.78)" stroke-width="0.5"/>
<circle cx="397.17" cy="68.00" r="1.5" fill="rgba(190,55,68,0.55)" stroke="rgba(180,45,58,0.78)" stroke-width="0.5"/>
<circle cx="397.17" cy="68.86" r="1.5" fill="rgba(190,55,68,0.55)" stroke="rgba(180,45,58,0.78)" stroke-width="0.5"/>
<circle cx="397.17" cy="70.83" r="1.5" fill="rgba(190,55,68,0.55)" stroke="rgba(180,45,58,0.78)" stroke-width="0.5"/>
<circle cx="397.17" cy="74.25" r="1.5" fill="rgba(190,55,68,0.55)" stroke="rgba(180,45,58,0.78)" stroke-width="0.5"/>
<circle cx="397.17" cy="76.45" r="1.5" fill="rgba(190,55,68,0.55)" stroke="rgba(180,45,58,0.78)" stroke-width="0.5"/>
<circle cx="397.17" cy="79.55" r="1.5" fill="rgba(190,55,68,0.55)" stroke="rgba(180,45,58,0.78)" stroke-width="0.5"/>
<circle cx="397.17" cy="90.33" r="1.5" fill="rgba(190,55,68,0.55)" stroke="rgba(180,45,58,0.78)" stroke-width="0.5"/>
<circle cx="400.63" cy="62.02" r="1.5" fill="rgba(190,55,68,0.55)" stroke="rgba(180,45,58,0.78)" stroke-width="0.5"/>
<circle cx="400.63" cy="68.00" r="1.5" fill="rgba(190,55,68,0.55)" stroke="rgba(180,45,58,0.78)" stroke-width="0.5"/>
<circle cx="400.63" cy="70.19" r="1.5" fill="rgba(190,55,68,0.55)" stroke="rgba(180,45,58,0.78)" stroke-width="0.5"/>
<circle cx="400.63" cy="70.83" r="1.5" fill="rgba(190,55,68,0.55)" stroke="rgba(180,45,58,0.78)" stroke-width="0.5"/>
<circle cx="400.63" cy="72.57" r="1.5" fill="rgba(190,55,68,0.55)" stroke="rgba(180,45,58,0.78)" stroke-width="0.5"/>
<circle cx="400.63" cy="74.53" r="1.5" fill="rgba(190,55,68,0.55)" stroke="rgba(180,45,58,0.78)" stroke-width="0.5"/>
<circle cx="400.63" cy="86.68" r="1.5" fill="rgba(190,55,68,0.55)" stroke="rgba(180,45,58,0.78)" stroke-width="0.5"/>
<circle cx="404.08" cy="53.30" r="1.5" fill="rgba(190,55,68,0.55)" stroke="rgba(180,45,58,0.78)" stroke-width="0.5"/>
<circle cx="404.08" cy="64.08" r="1.5" fill="rgba(190,55,68,0.55)" stroke="rgba(180,45,58,0.78)" stroke-width="0.5"/>
<circle cx="404.08" cy="64.44" r="1.5" fill="rgba(190,55,68,0.55)" stroke="rgba(180,45,58,0.78)" stroke-width="0.5"/>
<circle cx="404.08" cy="65.49" r="1.5" fill="rgba(190,55,68,0.55)" stroke="rgba(180,45,58,0.78)" stroke-width="0.5"/>
<circle cx="404.08" cy="73.76" r="1.5" fill="rgba(190,55,68,0.55)" stroke="rgba(180,45,58,0.78)" stroke-width="0.5"/>
<circle cx="404.08" cy="79.01" r="1.5" fill="rgba(190,55,68,0.55)" stroke="rgba(180,45,58,0.78)" stroke-width="0.5"/>
<circle cx="407.54" cy="46.41" r="1.5" fill="rgba(190,55,68,0.55)" stroke="rgba(180,45,58,0.78)" stroke-width="0.5"/>
<circle cx="407.54" cy="54.31" r="1.5" fill="rgba(190,55,68,0.55)" stroke="rgba(180,45,58,0.78)" stroke-width="0.5"/>
<circle cx="407.54" cy="59.28" r="1.5" fill="rgba(190,55,68,0.55)" stroke="rgba(180,45,58,0.78)" stroke-width="0.5"/>
<circle cx="407.54" cy="63.26" r="1.5" fill="rgba(190,55,68,0.55)" stroke="rgba(180,45,58,0.78)" stroke-width="0.5"/>
<circle cx="407.54" cy="63.90" r="1.5" fill="rgba(190,55,68,0.55)" stroke="rgba(180,45,58,0.78)" stroke-width="0.5"/>
<circle cx="407.54" cy="64.54" r="1.5" fill="rgba(190,55,68,0.55)" stroke="rgba(180,45,58,0.78)" stroke-width="0.5"/>
<circle cx="407.54" cy="70.24" r="1.5" fill="rgba(190,55,68,0.55)" stroke="rgba(180,45,58,0.78)" stroke-width="0.5"/>
<circle cx="407.54" cy="80.38" r="1.5" fill="rgba(190,55,68,0.55)" stroke="rgba(180,45,58,0.78)" stroke-width="0.5"/>
<circle cx="407.54" cy="82.44" r="1.5" fill="rgba(190,55,68,0.55)" stroke="rgba(180,45,58,0.78)" stroke-width="0.5"/>
<circle cx="411.00" cy="49.06" r="1.5" fill="rgba(190,55,68,0.55)" stroke="rgba(180,45,58,0.78)" stroke-width="0.5"/>
<circle cx="411.00" cy="51.16" r="1.5" fill="rgba(190,55,68,0.55)" stroke="rgba(180,45,58,0.78)" stroke-width="0.5"/>
<circle cx="411.00" cy="54.35" r="1.5" fill="rgba(190,55,68,0.55)" stroke="rgba(180,45,58,0.78)" stroke-width="0.5"/>
<circle cx="411.00" cy="59.84" r="1.5" fill="rgba(190,55,68,0.55)" stroke="rgba(180,45,58,0.78)" stroke-width="0.5"/>
<circle cx="411.00" cy="60.75" r="1.5" fill="rgba(190,55,68,0.55)" stroke="rgba(180,45,58,0.78)" stroke-width="0.5"/>
<circle cx="411.00" cy="61.66" r="1.5" fill="rgba(190,55,68,0.55)" stroke="rgba(180,45,58,0.78)" stroke-width="0.5"/>
<circle cx="411.00" cy="62.30" r="1.5" fill="rgba(190,55,68,0.55)" stroke="rgba(180,45,58,0.78)" stroke-width="0.5"/>
<circle cx="411.00" cy="64.17" r="1.5" fill="rgba(190,55,68,0.55)" stroke="rgba(180,45,58,0.78)" stroke-width="0.5"/>
<circle cx="411.00" cy="64.81" r="1.5" fill="rgba(190,55,68,0.55)" stroke="rgba(180,45,58,0.78)" stroke-width="0.5"/>
<circle cx="411.00" cy="65.41" r="1.5" fill="rgba(190,55,68,0.55)" stroke="rgba(180,45,58,0.78)" stroke-width="0.5"/>
<circle cx="414.45" cy="48.19" r="1.5" fill="rgba(190,55,68,0.55)" stroke="rgba(180,45,58,0.78)" stroke-width="0.5"/>
<circle cx="414.45" cy="55.00" r="1.5" fill="rgba(190,55,68,0.55)" stroke="rgba(180,45,58,0.78)" stroke-width="0.5"/>
<circle cx="414.45" cy="59.98" r="1.5" fill="rgba(190,55,68,0.55)" stroke="rgba(180,45,58,0.78)" stroke-width="0.5"/>
<circle cx="414.45" cy="59.98" r="1.5" fill="rgba(190,55,68,0.55)" stroke="rgba(180,45,58,0.78)" stroke-width="0.5"/>
<circle cx="414.45" cy="64.31" r="1.5" fill="rgba(190,55,68,0.55)" stroke="rgba(180,45,58,0.78)" stroke-width="0.5"/>
<circle cx="414.45" cy="70.07" r="1.5" fill="rgba(190,55,68,0.55)" stroke="rgba(180,45,58,0.78)" stroke-width="0.5"/>
<circle cx="417.91" cy="48.47" r="1.5" fill="rgba(190,55,68,0.55)" stroke="rgba(180,45,58,0.78)" stroke-width="0.5"/>
<circle cx="417.91" cy="59.93" r="1.5" fill="rgba(190,55,68,0.55)" stroke="rgba(180,45,58,0.78)" stroke-width="0.5"/>
<circle cx="417.91" cy="66.92" r="1.5" fill="rgba(190,55,68,0.55)" stroke="rgba(180,45,58,0.78)" stroke-width="0.5"/>
<circle cx="421.36" cy="52.22" r="1.5" fill="rgba(190,55,68,0.55)" stroke="rgba(180,45,58,0.78)" stroke-width="0.5"/>
<circle cx="421.36" cy="52.86" r="1.5" fill="rgba(190,55,68,0.55)" stroke="rgba(180,45,58,0.78)" stroke-width="0.5"/>
<circle cx="421.36" cy="55.96" r="1.5" fill="rgba(190,55,68,0.55)" stroke="rgba(180,45,58,0.78)" stroke-width="0.5"/>
<circle cx="421.36" cy="59.53" r="1.5" fill="rgba(190,55,68,0.55)" stroke="rgba(180,45,58,0.78)" stroke-width="0.5"/>
<circle cx="421.36" cy="76.42" r="1.5" fill="rgba(190,55,68,0.55)" stroke="rgba(180,45,58,0.78)" stroke-width="0.5"/>
<circle cx="424.82" cy="34.27" r="1.5" fill="rgba(190,55,68,0.55)" stroke="rgba(180,45,58,0.78)" stroke-width="0.5"/>
<circle cx="424.82" cy="35.83" r="1.5" fill="rgba(190,55,68,0.55)" stroke="rgba(180,45,58,0.78)" stroke-width="0.5"/>
<circle cx="424.82" cy="41.44" r="1.5" fill="rgba(190,55,68,0.55)" stroke="rgba(180,45,58,0.78)" stroke-width="0.5"/>
<circle cx="424.82" cy="47.84" r="1.5" fill="rgba(190,55,68,0.55)" stroke="rgba(180,45,58,0.78)" stroke-width="0.5"/>
<circle cx="424.82" cy="49.30" r="1.5" fill="rgba(190,55,68,0.55)" stroke="rgba(180,45,58,0.78)" stroke-width="0.5"/>
<circle cx="424.82" cy="54.28" r="1.5" fill="rgba(190,55,68,0.55)" stroke="rgba(180,45,58,0.78)" stroke-width="0.5"/>
<circle cx="424.82" cy="67.79" r="1.5" fill="rgba(190,55,68,0.55)" stroke="rgba(180,45,58,0.78)" stroke-width="0.5"/>
<circle cx="428.28" cy="53.09" r="1.5" fill="rgba(190,55,68,0.55)" stroke="rgba(180,45,58,0.78)" stroke-width="0.5"/>
<circle cx="428.28" cy="56.84" r="1.5" fill="rgba(190,55,68,0.55)" stroke="rgba(180,45,58,0.78)" stroke-width="0.5"/>
<circle cx="428.28" cy="61.95" r="1.5" fill="rgba(190,55,68,0.55)" stroke="rgba(180,45,58,0.78)" stroke-width="0.5"/>
<circle cx="431.73" cy="43.92" r="1.5" fill="rgba(190,55,68,0.55)" stroke="rgba(180,45,58,0.78)" stroke-width="0.5"/>
<circle cx="435.19" cy="44.19" r="1.5" fill="rgba(190,55,68,0.55)" stroke="rgba(180,45,58,0.78)" stroke-width="0.5"/>
<circle cx="435.19" cy="56.89" r="1.5" fill="rgba(190,55,68,0.55)" stroke="rgba(180,45,58,0.78)" stroke-width="0.5"/>
<circle cx="438.64" cy="46.02" r="1.5" fill="rgba(190,55,68,0.55)" stroke="rgba(180,45,58,0.78)" stroke-width="0.5"/>
<circle cx="438.64" cy="55.61" r="1.5" fill="rgba(190,55,68,0.55)" stroke="rgba(180,45,58,0.78)" stroke-width="0.5"/>
</g>
<rect x="260.5" y="18.0" width="190.00" height="188.50" fill="none" stroke="#4a4a4a" stroke-width="1.0"/>
<line x1="269.30" y1="206.5" x2="269.30" y2="208.5" stroke="#333" stroke-width="0.85"/>
<text x="269.30" y="213.90" font-family="'Liberation Sans', sans-serif" font-size="5.5" text-anchor="middle" fill="#222" stroke="#222" stroke-width="0.12">40</text>
<line x1="303.86" y1="206.5" x2="303.86" y2="208.5" stroke="#333" stroke-width="0.85"/>
<text x="303.86" y="213.90" font-family="'Liberation Sans', sans-serif" font-size="5.5" text-anchor="middle" fill="#222" stroke="#222" stroke-width="0.12">50</text>
<line x1="338.42" y1="206.5" x2="338.42" y2="208.5" stroke="#333" stroke-width="0.85"/>
<text x="338.42" y="213.90" font-family="'Liberation Sans', sans-serif" font-size="5.5" text-anchor="middle" fill="#222" stroke="#222" stroke-width="0.12">60</text>
<line x1="372.98" y1="206.5" x2="372.98" y2="208.5" stroke="#333" stroke-width="0.85"/>
<text x="372.98" y="213.90" font-family="'Liberation Sans', sans-serif" font-size="5.5" text-anchor="middle" fill="#222" stroke="#222" stroke-width="0.12">70</text>
<line x1="407.54" y1="206.5" x2="407.54" y2="208.5" stroke="#333" stroke-width="0.85"/>
<text x="407.54" y="213.90" font-family="'Liberation Sans', sans-serif" font-size="5.5" text-anchor="middle" fill="#222" stroke="#222" stroke-width="0.12">80</text>
<line x1="442.10" y1="206.5" x2="442.10" y2="208.5" stroke="#333" stroke-width="0.85"/>
<text x="442.10" y="213.90" font-family="'Liberation Sans', sans-serif" font-size="5.5" text-anchor="middle" fill="#222" stroke="#222" stroke-width="0.12">90</text>
<line x1="258.5" y1="197.90" x2="260.5" y2="197.90" stroke="#333" stroke-width="0.85"/>
<text x="257.60" y="199.85" font-family="'Liberation Sans', sans-serif" font-size="5.5" text-anchor="end" fill="#222" stroke="#222" stroke-width="0.12">40</text>
<line x1="258.5" y1="166.42" x2="260.5" y2="166.42" stroke="#333" stroke-width="0.85"/>
<text x="257.60" y="168.37" font-family="'Liberation Sans', sans-serif" font-size="5.5" text-anchor="end" fill="#222" stroke="#222" stroke-width="0.12">50</text>
<line x1="258.5" y1="134.94" x2="260.5" y2="134.94" stroke="#333" stroke-width="0.85"/>
<text x="257.60" y="136.89" font-family="'Liberation Sans', sans-serif" font-size="5.5" text-anchor="end" fill="#222" stroke="#222" stroke-width="0.12">60</text>
<line x1="258.5" y1="103.46" x2="260.5" y2="103.46" stroke="#333" stroke-width="0.85"/>
<text x="257.60" y="105.41" font-family="'Liberation Sans', sans-serif" font-size="5.5" text-anchor="end" fill="#222" stroke="#222" stroke-width="0.12">70</text>
<line x1="258.5" y1="71.98" x2="260.5" y2="71.98" stroke="#333" stroke-width="0.85"/>
<text x="257.60" y="73.93" font-family="'Liberation Sans', sans-serif" font-size="5.5" text-anchor="end" fill="#222" stroke="#222" stroke-width="0.12">80</text>
<line x1="258.5" y1="40.50" x2="260.5" y2="40.50" stroke="#333" stroke-width="0.85"/>
<text x="257.60" y="42.45" font-family="'Liberation Sans', sans-serif" font-size="5.5" text-anchor="end" fill="#222" stroke="#222" stroke-width="0.12">90</text>
<text x="234.80" y="8.20" font-family="'Liberation Serif', serif" font-size="9.6" text-anchor="start" fill="#111" stroke="#111" stroke-width="0.22">(b)</text>
<text x="355.50" y="227.80" font-family="'Liberation Serif', serif" font-size="8.7" text-anchor="middle" fill="#111" stroke="#111" stroke-width="0.22">True age (chronological age)</text>
<text x="245.40" y="107.70" font-family="'Liberation Serif', serif" font-size="8.7" text-anchor="middle" fill="#111" stroke="#111" stroke-width="0.22" transform="rotate(-90 245.4 107.7)">Predicted age</text>
<rect x="263.9" y="21.2" width="122.6" height="20.9" rx="1.5" fill="rgba(255,255,255,0.8)" stroke="#d8d8d8" stroke-width="0.7"/>
<circle cx="269.6" cy="26.8" r="2.2" fill="rgb(232,135,150)" stroke="rgb(212,100,118)" stroke-width="0.55"/>
<text x="274.90" y="29.60" font-family="'Liberation Serif', serif" font-size="7.45" text-anchor="start" fill="#111" stroke="#111" stroke-width="0.22">Test 2D MRI scans from SMC - AD</text>
<text x="274.90" y="38.10" font-family="'Liberation Serif', serif" font-size="7.45" fill="#111" stroke="#111" stroke-width="0.22">AD <tspan fill="#333" stroke="#333" stroke-width="0.1">δ</tspan> = 3.10 [2.52, 3.67] years</text>
<line x1="288.12" y1="32.14" x2="290.73" y2="32.14" stroke="#444" stroke-width="0.45"/>
<rect x="503.00" y="199" width="9.0" height="7.30" fill="rgb(158,190,210)"/>
<rect x="512.00" y="194.25" width="9.0" height="12.05" fill="rgb(232,148,152)"/>
<rect x="512.00" y="184" width="9.0" height="22.30" fill="rgb(158,190,210)"/>
<rect x="512.00" y="194.25" width="9.0" height="12.05" fill="rgb(145,128,158)"/>
<rect x="521.00" y="132" width="9.0" height="74.30" fill="rgb(158,190,210)"/>
<rect x="530.00" y="177" width="9.0" height="29.30" fill="rgb(232,148,152)"/>
<rect x="530.00" y="124.5" width="9.0" height="81.80" fill="rgb(158,190,210)"/>
<rect x="530.00" y="177" width="9.0" height="29.30" fill="rgb(145,128,158)"/>
<rect x="539.00" y="177" width="9.0" height="29.30" fill="rgb(232,148,152)"/>
<rect x="539.00" y="117" width="9.0" height="89.30" fill="rgb(158,190,210)"/>
<rect x="539.00" y="177" width="9.0" height="29.30" fill="rgb(145,128,158)"/>
<rect x="548.00" y="159.25" width="9.0" height="47.05" fill="rgb(232,148,152)"/>
<rect x="548.00" y="80" width="9.0" height="126.30" fill="rgb(158,190,210)"/>
<rect x="548.00" y="159.25" width="9.0" height="47.05" fill="rgb(145,128,158)"/>
<rect x="557.00" y="147.5" width="9.0" height="58.80" fill="rgb(232,148,152)"/>
<rect x="557.00" y="50.5" width="9.0" height="155.80" fill="rgb(158,190,210)"/>
<rect x="557.00" y="147.5" width="9.0" height="58.80" fill="rgb(145,128,158)"/>
<rect x="566.00" y="94.5" width="9.0" height="111.80" fill="rgb(232,148,152)"/>
<rect x="566.00" y="43" width="9.0" height="163.30" fill="rgb(158,190,210)"/>
<rect x="566.00" y="94.5" width="9.0" height="111.80" fill="rgb(145,128,158)"/>
<rect x="575.00" y="65.5" width="9.0" height="140.80" fill="rgb(232,148,152)"/>
<rect x="575.00" y="94.5" width="9.0" height="111.80" fill="rgb(158,190,210)"/>
<rect x="575.00" y="94.5" width="9.0" height="111.80" fill="rgb(145,128,158)"/>
<rect x="584.00" y="30.5" width="9.0" height="175.80" fill="rgb(232,148,152)"/>
<rect x="584.00" y="28" width="9.0" height="178.30" fill="rgb(158,190,210)"/>
<rect x="584.00" y="30.5" width="9.0" height="175.80" fill="rgb(145,128,158)"/>
<rect x="593.00" y="89" width="9.0" height="117.30" fill="rgb(232,148,152)"/>
<rect x="593.00" y="124.5" width="9.0" height="81.80" fill="rgb(158,190,210)"/>
<rect x="593.00" y="124.5" width="9.0" height="81.80" fill="rgb(145,128,158)"/>
<rect x="602.00" y="83" width="9.0" height="123.30" fill="rgb(232,148,152)"/>
<rect x="602.00" y="168.75" width="9.0" height="37.55" fill="rgb(158,190,210)"/>
<rect x="602.00" y="168.75" width="9.0" height="37.55" fill="rgb(145,128,158)"/>
<rect x="611.00" y="100.5" width="9.0" height="105.80" fill="rgb(232,148,152)"/>
<rect x="611.00" y="183.9" width="9.0" height="22.40" fill="rgb(158,190,210)"/>
<rect x="611.00" y="183.9" width="9.0" height="22.40" fill="rgb(145,128,158)"/>
<rect x="620.00" y="141.8" width="9.0" height="64.50" fill="rgb(232,148,152)"/>
<rect x="620.00" y="191.1" width="9.0" height="15.20" fill="rgb(158,190,210)"/>
<rect x="620.00" y="191.1" width="9.0" height="15.20" fill="rgb(145,128,158)"/>
<rect x="629.00" y="141.8" width="9.0" height="64.50" fill="rgb(232,148,152)"/>
<rect x="638.00" y="159.3" width="9.0" height="47.00" fill="rgb(232,148,152)"/>
<rect x="647.00" y="182.7" width="9.0" height="23.60" fill="rgb(232,148,152)"/>
<rect x="656.00" y="194" width="9.0" height="12.30" fill="rgb(232,148,152)"/>
<rect x="665.00" y="200.2" width="9.0" height="6.10" fill="rgb(232,148,152)"/>
<rect x="503.15" y="199.15" width="8.7" height="7.00" fill="none" stroke="rgba(255,255,255,0.18)" stroke-width="0.3"/>
<rect x="512.15" y="184.15" width="8.7" height="22.00" fill="none" stroke="rgba(255,255,255,0.18)" stroke-width="0.3"/>
<rect x="521.15" y="132.15" width="8.7" height="74.00" fill="none" stroke="rgba(255,255,255,0.18)" stroke-width="0.3"/>
<rect x="530.15" y="124.65" width="8.7" height="81.50" fill="none" stroke="rgba(255,255,255,0.18)" stroke-width="0.3"/>
<rect x="539.15" y="117.15" width="8.7" height="89.00" fill="none" stroke="rgba(255,255,255,0.18)" stroke-width="0.3"/>
<rect x="548.15" y="80.15" width="8.7" height="126.00" fill="none" stroke="rgba(255,255,255,0.18)" stroke-width="0.3"/>
<rect x="557.15" y="50.65" width="8.7" height="155.50" fill="none" stroke="rgba(255,255,255,0.18)" stroke-width="0.3"/>
<rect x="566.15" y="43.15" width="8.7" height="163.00" fill="none" stroke="rgba(255,255,255,0.18)" stroke-width="0.3"/>
<rect x="575.15" y="65.65" width="8.7" height="140.50" fill="none" stroke="rgba(255,255,255,0.18)" stroke-width="0.3"/>
<rect x="584.15" y="28.15" width="8.7" height="178.00" fill="none" stroke="rgba(255,255,255,0.18)" stroke-width="0.3"/>
<rect x="593.15" y="89.15" width="8.7" height="117.00" fill="none" stroke="rgba(255,255,255,0.18)" stroke-width="0.3"/>
<rect x="602.15" y="83.15" width="8.7" height="123.00" fill="none" stroke="rgba(255,255,255,0.18)" stroke-width="0.3"/>
<rect x="611.15" y="100.65" width="8.7" height="105.50" fill="none" stroke="rgba(255,255,255,0.18)" stroke-width="0.3"/>
<rect x="620.15" y="141.95000000000002" width="8.7" height="64.20" fill="none" stroke="rgba(255,255,255,0.18)" stroke-width="0.3"/>
<rect x="629.15" y="141.95000000000002" width="8.7" height="64.20" fill="none" stroke="rgba(255,255,255,0.18)" stroke-width="0.3"/>
<rect x="638.15" y="159.45000000000002" width="8.7" height="46.70" fill="none" stroke="rgba(255,255,255,0.18)" stroke-width="0.3"/>
<rect x="647.15" y="182.85" width="8.7" height="23.30" fill="none" stroke="rgba(255,255,255,0.18)" stroke-width="0.3"/>
<rect x="656.15" y="194.15" width="8.7" height="12.00" fill="none" stroke="rgba(255,255,255,0.18)" stroke-width="0.3"/>
<rect x="665.15" y="200.35" width="8.7" height="5.80" fill="none" stroke="rgba(255,255,255,0.18)" stroke-width="0.3"/>
<line x1="593.90" y1="31.18" x2="593.90" y2="206.3" stroke="rgba(190,70,80,0.55)" stroke-width="1.2" stroke-dasharray="6.8,3.2"/>
<line x1="566.81" y1="31.18" x2="566.81" y2="206.3" stroke="rgba(60,65,125,0.55)" stroke-width="1.2" stroke-dasharray="6.8,3.2"/>
<rect x="494.3" y="19.5" width="188.50" height="186.80" fill="none" stroke="#4a4a4a" stroke-width="1.0"/>
<line x1="498.50" y1="206.3" x2="498.50" y2="208.3" stroke="#333" stroke-width="0.85"/>
<text x="498.50" y="213.70" font-family="'Liberation Sans', sans-serif" font-size="5.5" text-anchor="middle" fill="#222" stroke="#222" stroke-width="0.12">−7.5</text>
<line x1="521.00" y1="206.3" x2="521.00" y2="208.3" stroke="#333" stroke-width="0.85"/>
<text x="521.00" y="213.70" font-family="'Liberation Sans', sans-serif" font-size="5.5" text-anchor="middle" fill="#222" stroke="#222" stroke-width="0.12">−5.0</text>
<line x1="543.50" y1="206.3" x2="543.50" y2="208.3" stroke="#333" stroke-width="0.85"/>
<text x="543.50" y="213.70" font-family="'Liberation Sans', sans-serif" font-size="5.5" text-anchor="middle" fill="#222" stroke="#222" stroke-width="0.12">−2.5</text>
<line x1="566.00" y1="206.3" x2="566.00" y2="208.3" stroke="#333" stroke-width="0.85"/>
<text x="566.00" y="213.70" font-family="'Liberation Sans', sans-serif" font-size="5.5" text-anchor="middle" fill="#222" stroke="#222" stroke-width="0.12">0.0</text>
<line x1="588.50" y1="206.3" x2="588.50" y2="208.3" stroke="#333" stroke-width="0.85"/>
<text x="588.50" y="213.70" font-family="'Liberation Sans', sans-serif" font-size="5.5" text-anchor="middle" fill="#222" stroke="#222" stroke-width="0.12">2.5</text>
<line x1="611.00" y1="206.3" x2="611.00" y2="208.3" stroke="#333" stroke-width="0.85"/>
<text x="611.00" y="213.70" font-family="'Liberation Sans', sans-serif" font-size="5.5" text-anchor="middle" fill="#222" stroke="#222" stroke-width="0.12">5.0</text>
<line x1="633.50" y1="206.3" x2="633.50" y2="208.3" stroke="#333" stroke-width="0.85"/>
<text x="633.50" y="213.70" font-family="'Liberation Sans', sans-serif" font-size="5.5" text-anchor="middle" fill="#222" stroke="#222" stroke-width="0.12">7.5</text>
<line x1="656.00" y1="206.3" x2="656.00" y2="208.3" stroke="#333" stroke-width="0.85"/>
<text x="656.00" y="213.70" font-family="'Liberation Sans', sans-serif" font-size="5.5" text-anchor="middle" fill="#222" stroke="#222" stroke-width="0.12">10.0</text>
<line x1="678.50" y1="206.3" x2="678.50" y2="208.3" stroke="#333" stroke-width="0.85"/>
<text x="678.50" y="213.70" font-family="'Liberation Sans', sans-serif" font-size="5.5" text-anchor="middle" fill="#222" stroke="#222" stroke-width="0.12">12.5</text>
<line x1="492.3" y1="206.30" x2="494.3" y2="206.30" stroke="#333" stroke-width="0.85"/>
<text x="491.20" y="208.25" font-family="'Liberation Sans', sans-serif" font-size="5.5" text-anchor="end" fill="#222" stroke="#222" stroke-width="0.12">0.00</text>
<line x1="492.3" y1="182.95" x2="494.3" y2="182.95" stroke="#333" stroke-width="0.85"/>
<text x="491.20" y="184.90" font-family="'Liberation Sans', sans-serif" font-size="5.5" text-anchor="end" fill="#222" stroke="#222" stroke-width="0.12">0.02</text>
<line x1="492.3" y1="159.60" x2="494.3" y2="159.60" stroke="#333" stroke-width="0.85"/>
<text x="491.20" y="161.55" font-family="'Liberation Sans', sans-serif" font-size="5.5" text-anchor="end" fill="#222" stroke="#222" stroke-width="0.12">0.04</text>
<line x1="492.3" y1="136.25" x2="494.3" y2="136.25" stroke="#333" stroke-width="0.85"/>
<text x="491.20" y="138.20" font-family="'Liberation Sans', sans-serif" font-size="5.5" text-anchor="end" fill="#222" stroke="#222" stroke-width="0.12">0.06</text>
<line x1="492.3" y1="112.90" x2="494.3" y2="112.90" stroke="#333" stroke-width="0.85"/>
<text x="491.20" y="114.85" font-family="'Liberation Sans', sans-serif" font-size="5.5" text-anchor="end" fill="#222" stroke="#222" stroke-width="0.12">0.08</text>
<line x1="492.3" y1="89.55" x2="494.3" y2="89.55" stroke="#333" stroke-width="0.85"/>
<text x="491.20" y="91.50" font-family="'Liberation Sans', sans-serif" font-size="5.5" text-anchor="end" fill="#222" stroke="#222" stroke-width="0.12">0.10</text>
<line x1="492.3" y1="66.20" x2="494.3" y2="66.20" stroke="#333" stroke-width="0.85"/>
<text x="491.20" y="68.15" font-family="'Liberation Sans', sans-serif" font-size="5.5" text-anchor="end" fill="#222" stroke="#222" stroke-width="0.12">0.12</text>
<line x1="492.3" y1="42.85" x2="494.3" y2="42.85" stroke="#333" stroke-width="0.85"/>
<text x="491.20" y="44.80" font-family="'Liberation Sans', sans-serif" font-size="5.5" text-anchor="end" fill="#222" stroke="#222" stroke-width="0.12">0.14</text>
<line x1="492.3" y1="19.50" x2="494.3" y2="19.50" stroke="#333" stroke-width="0.85"/>
<text x="491.20" y="21.45" font-family="'Liberation Sans', sans-serif" font-size="5.5" text-anchor="end" fill="#222" stroke="#222" stroke-width="0.12">0.16</text>
<text x="468.00" y="8.20" font-family="'Liberation Serif', serif" font-size="9.6" text-anchor="start" fill="#111" stroke="#111" stroke-width="0.22">(c)</text>
<text x="588.50" y="227.90" font-family="'Liberation Serif', serif" font-size="8.7" text-anchor="middle" fill="#111" stroke="#111" stroke-width="0.22">Brain age gap</text>
<text x="474.50" y="107.30" font-family="'Liberation Serif', serif" font-size="8.7" text-anchor="middle" fill="#111" stroke="#111" stroke-width="0.22" transform="rotate(-90 474.5 107.3)">Frequency</text>
<rect x="602.4" y="22.4" width="78.4" height="36.9" rx="1.5" fill="rgba(255,255,255,0.8)" stroke="#d8d8d8" stroke-width="0.7"/>
<rect x="605" y="25.8" width="14.8" height="3.0" fill="rgb(232,148,152)"/>
<line x1="605" y1="35.9" x2="619.8" y2="35.9" stroke="rgba(190,95,115,0.55)" stroke-width="1.3" stroke-dasharray="6.4,3.4"/>
<rect x="605" y="43.2" width="14.8" height="3.1" fill="rgb(145,182,210)"/>
<line x1="605" y1="54.3" x2="619.8" y2="54.3" stroke="rgba(70,75,150,0.65)" stroke-width="1.1" stroke-dasharray="6.4,3.4"/>
<text x="623.40" y="29.30" font-family="'Liberation Serif', serif" font-size="7.45" text-anchor="start" fill="#111" stroke="#111" stroke-width="0.22">AD</text>
<text x="623.40" y="38.00" font-family="'Liberation Serif', serif" font-size="7.45" fill="#111" stroke="#111" stroke-width="0.22">AD <tspan fill="#333" stroke="#333" stroke-width="0.1">δ</tspan> = 3.10 years</text>
<line x1="636.62" y1="32.04" x2="639.23" y2="32.04" stroke="#444" stroke-width="0.45"/>
<text x="623.40" y="47.10" font-family="'Liberation Serif', serif" font-size="7.45" text-anchor="start" fill="#111" stroke="#111" stroke-width="0.22">CU</text>
<text x="623.40" y="56.20" font-family="'Liberation Serif', serif" font-size="7.45" fill="#111" stroke="#111" stroke-width="0.22">CU <tspan fill="#333" stroke="#333" stroke-width="0.1">δ</tspan> = 0.09 years</text>
<line x1="636.21" y1="50.24" x2="638.82" y2="50.24" stroke="#444" stroke-width="0.45"/>
<line x1="42.50" y1="365.30" x2="286.40" y2="365.30" stroke="#262626" stroke-width="0.85"/>
<polyline points="42.50,289.11 46.48,291.11 50.47,293.10 54.45,295.10 58.43,297.09 62.42,299.08 66.40,301.08 70.39,303.07 74.37,305.06 78.35,307.05 82.34,309.05 86.32,311.04 90.30,313.03 94.29,315.01 98.27,317.00 102.26,318.99 106.24,320.97 110.22,322.96 114.21,324.94 118.19,326.92 122.17,328.90 126.16,330.87 130.14,332.84 134.13,334.81 138.11,336.77 142.09,338.73 146.08,340.68 150.06,342.62 154.04,344.56 158.03,346.49 162.01,348.42 165.99,350.33 169.98,352.24 173.96,354.14 177.95,356.03 181.93,357.92 185.91,359.80 189.90,361.68 193.88,363.55 197.86,365.42 201.85,367.28 205.83,369.14 209.82,371.00 213.80,372.86 217.78,374.72 221.77,376.57 225.75,378.42 229.73,380.27 233.72,382.12 237.70,383.97 241.69,385.82 245.67,387.67 249.65,389.51 253.64,391.36 257.62,393.21 261.60,395.05 265.59,396.89 269.57,398.74 273.55,400.58 277.54,402.43 281.52,404.27" fill="none" stroke="#222" stroke-width="0.9" stroke-dasharray="7.1,2.8"/>
<polyline points="42.50,294.21 46.48,296.05 50.47,297.90 54.45,299.74 58.43,301.59 62.42,303.43 66.40,305.28 70.39,307.12 74.37,308.97 78.35,310.81 82.34,312.66 86.32,314.51 90.30,316.36 94.29,318.21 98.27,320.06 102.26,321.91 106.24,323.77 110.22,325.62 114.21,327.48 118.19,329.34 122.17,331.20 126.16,333.06 130.14,334.93 134.13,336.80 138.11,338.68 142.09,340.56 146.08,342.45 150.06,344.34 154.04,346.24 158.03,348.15 162.01,350.06 165.99,351.99 169.98,353.92 173.96,355.86 177.95,357.80 181.93,359.75 185.91,361.71 189.90,363.67 193.88,365.64 197.86,367.61 201.85,369.59 205.83,371.56 209.82,373.54 213.80,375.52 217.78,377.51 221.77,379.49 225.75,381.48 229.73,383.47 233.72,385.45 237.70,387.44 241.69,389.43 245.67,391.43 249.65,393.42 253.64,395.41 257.62,397.40 261.60,399.40 265.59,401.39 269.57,403.39 273.55,405.38 277.54,407.37 281.52,409.37" fill="none" stroke="#222" stroke-width="0.9" stroke-dasharray="7.1,2.8"/>
<circle cx="96.16" cy="366.80" r="1.45" fill="rgba(65,115,170,0.5)" stroke="rgba(55,105,160,0.75)" stroke-width="0.5"/>
<circle cx="96.16" cy="378.80" r="1.45" fill="rgba(65,115,170,0.5)" stroke="rgba(55,105,160,0.75)" stroke-width="0.5"/>
<circle cx="96.16" cy="382.10" r="1.45" fill="rgba(65,115,170,0.5)" stroke="rgba(55,105,160,0.75)" stroke-width="0.5"/>
<circle cx="101.04" cy="345.70" r="1.45" fill="rgba(65,115,170,0.5)" stroke="rgba(55,105,160,0.75)" stroke-width="0.5"/>
<circle cx="101.04" cy="365.20" r="1.45" fill="rgba(65,115,170,0.5)" stroke="rgba(55,105,160,0.75)" stroke-width="0.5"/>
<circle cx="101.04" cy="371.60" r="1.45" fill="rgba(65,115,170,0.5)" stroke="rgba(55,105,160,0.75)" stroke-width="0.5"/>
<circle cx="101.04" cy="377.70" r="1.45" fill="rgba(65,115,170,0.5)" stroke="rgba(55,105,160,0.75)" stroke-width="0.5"/>
<circle cx="105.91" cy="365.20" r="1.45" fill="rgba(65,115,170,0.5)" stroke="rgba(55,105,160,0.75)" stroke-width="0.5"/>
<circle cx="105.91" cy="372.50" r="1.45" fill="rgba(65,115,170,0.5)" stroke="rgba(55,105,160,0.75)" stroke-width="0.5"/>
<circle cx="105.91" cy="373.90" r="1.45" fill="rgba(65,115,170,0.5)" stroke="rgba(55,105,160,0.75)" stroke-width="0.5"/>
<circle cx="110.79" cy="352.20" r="1.45" fill="rgba(65,115,170,0.5)" stroke="rgba(55,105,160,0.75)" stroke-width="0.5"/>
<circle cx="110.79" cy="368.20" r="1.45" fill="rgba(65,115,170,0.5)" stroke="rgba(55,105,160,0.75)" stroke-width="0.5"/>
<circle cx="110.79" cy="379.40" r="1.45" fill="rgba(65,115,170,0.5)" stroke="rgba(55,105,160,0.75)" stroke-width="0.5"/>
<circle cx="115.67" cy="356.20" r="1.45" fill="rgba(65,115,170,0.5)" stroke="rgba(55,105,160,0.75)" stroke-width="0.5"/>
<circle cx="115.67" cy="366.80" r="1.45" fill="rgba(65,115,170,0.5)" stroke="rgba(55,105,160,0.75)" stroke-width="0.5"/>
<circle cx="120.55" cy="350.70" r="1.45" fill="rgba(65,115,170,0.5)" stroke="rgba(55,105,160,0.75)" stroke-width="0.5"/>
<circle cx="120.55" cy="350.70" r="1.45" fill="rgba(65,115,170,0.5)" stroke="rgba(55,105,160,0.75)" stroke-width="0.5"/>
<circle cx="120.55" cy="370.20" r="1.45" fill="rgba(65,115,170,0.5)" stroke="rgba(55,105,160,0.75)" stroke-width="0.5"/>
<circle cx="120.55" cy="377.70" r="1.45" fill="rgba(65,115,170,0.5)" stroke="rgba(55,105,160,0.75)" stroke-width="0.5"/>
<circle cx="120.55" cy="381.10" r="1.45" fill="rgba(65,115,170,0.5)" stroke="rgba(55,105,160,0.75)" stroke-width="0.5"/>
<circle cx="125.43" cy="359.30" r="1.45" fill="rgba(65,115,170,0.5)" stroke="rgba(55,105,160,0.75)" stroke-width="0.5"/>
<circle cx="125.43" cy="359.30" r="1.45" fill="rgba(65,115,170,0.5)" stroke="rgba(55,105,160,0.75)" stroke-width="0.5"/>
<circle cx="125.43" cy="363.40" r="1.45" fill="rgba(65,115,170,0.5)" stroke="rgba(55,105,160,0.75)" stroke-width="0.5"/>
<circle cx="125.43" cy="368.50" r="1.45" fill="rgba(65,115,170,0.5)" stroke="rgba(55,105,160,0.75)" stroke-width="0.5"/>
<circle cx="130.30" cy="365.50" r="1.45" fill="rgba(65,115,170,0.5)" stroke="rgba(55,105,160,0.75)" stroke-width="0.5"/>
<circle cx="130.30" cy="371.20" r="1.45" fill="rgba(65,115,170,0.5)" stroke="rgba(55,105,160,0.75)" stroke-width="0.5"/>
<circle cx="135.18" cy="353.50" r="1.45" fill="rgba(65,115,170,0.5)" stroke="rgba(55,105,160,0.75)" stroke-width="0.5"/>
<circle cx="135.18" cy="357.30" r="1.45" fill="rgba(65,115,170,0.5)" stroke="rgba(55,105,160,0.75)" stroke-width="0.5"/>
<circle cx="135.18" cy="366.50" r="1.45" fill="rgba(65,115,170,0.5)" stroke="rgba(55,105,160,0.75)" stroke-width="0.5"/>
<circle cx="135.18" cy="377.00" r="1.45" fill="rgba(65,115,170,0.5)" stroke="rgba(55,105,160,0.75)" stroke-width="0.5"/>
<circle cx="135.18" cy="381.50" r="1.45" fill="rgba(65,115,170,0.5)" stroke="rgba(55,105,160,0.75)" stroke-width="0.5"/>
<circle cx="135.18" cy="383.20" r="1.45" fill="rgba(65,115,170,0.5)" stroke="rgba(55,105,160,0.75)" stroke-width="0.5"/>
<circle cx="140.06" cy="350.20" r="1.45" fill="rgba(65,115,170,0.5)" stroke="rgba(55,105,160,0.75)" stroke-width="0.5"/>
<circle cx="140.06" cy="351.80" r="1.45" fill="rgba(65,115,170,0.5)" stroke="rgba(55,105,160,0.75)" stroke-width="0.5"/>
<circle cx="140.06" cy="354.50" r="1.45" fill="rgba(65,115,170,0.5)" stroke="rgba(55,105,160,0.75)" stroke-width="0.5"/>
<circle cx="140.06" cy="360.30" r="1.45" fill="rgba(65,115,170,0.5)" stroke="rgba(55,105,160,0.75)" stroke-width="0.5"/>
<circle cx="140.06" cy="360.30" r="1.45" fill="rgba(65,115,170,0.5)" stroke="rgba(55,105,160,0.75)" stroke-width="0.5"/>
<circle cx="140.06" cy="366.50" r="1.45" fill="rgba(65,115,170,0.5)" stroke="rgba(55,105,160,0.75)" stroke-width="0.5"/>
<circle cx="140.06" cy="378.40" r="1.45" fill="rgba(65,115,170,0.5)" stroke="rgba(55,105,160,0.75)" stroke-width="0.5"/>
<circle cx="140.06" cy="381.10" r="1.45" fill="rgba(65,115,170,0.5)" stroke="rgba(55,105,160,0.75)" stroke-width="0.5"/>
<circle cx="140.06" cy="388.60" r="1.45" fill="rgba(65,115,170,0.5)" stroke="rgba(55,105,160,0.75)" stroke-width="0.5"/>
<circle cx="144.94" cy="353.90" r="1.45" fill="rgba(65,115,170,0.5)" stroke="rgba(55,105,160,0.75)" stroke-width="0.5"/>
<circle cx="144.94" cy="355.20" r="1.45" fill="rgba(65,115,170,0.5)" stroke="rgba(55,105,160,0.75)" stroke-width="0.5"/>
<circle cx="144.94" cy="357.30" r="1.45" fill="rgba(65,115,170,0.5)" stroke="rgba(55,105,160,0.75)" stroke-width="0.5"/>
<circle cx="144.94" cy="358.60" r="1.45" fill="rgba(65,115,170,0.5)" stroke="rgba(55,105,160,0.75)" stroke-width="0.5"/>
<circle cx="144.94" cy="373.40" r="1.45" fill="rgba(65,115,170,0.5)" stroke="rgba(55,105,160,0.75)" stroke-width="0.5"/>
<circle cx="149.82" cy="343.60" r="1.45" fill="rgba(65,115,170,0.5)" stroke="rgba(55,105,160,0.75)" stroke-width="0.5"/>
<circle cx="149.82" cy="349.10" r="1.45" fill="rgba(65,115,170,0.5)" stroke="rgba(55,105,160,0.75)" stroke-width="0.5"/>
<circle cx="149.82" cy="361.60" r="1.45" fill="rgba(65,115,170,0.5)" stroke="rgba(55,105,160,0.75)" stroke-width="0.5"/>
<circle cx="149.82" cy="361.60" r="1.45" fill="rgba(65,115,170,0.5)" stroke="rgba(55,105,160,0.75)" stroke-width="0.5"/>
<circle cx="149.82" cy="365.70" r="1.45" fill="rgba(65,115,170,0.5)" stroke="rgba(55,105,160,0.75)" stroke-width="0.5"/>
<circle cx="154.69" cy="350.20" r="1.45" fill="rgba(65,115,170,0.5)" stroke="rgba(55,105,160,0.75)" stroke-width="0.5"/>
<circle cx="154.69" cy="357.30" r="1.45" fill="rgba(65,115,170,0.5)" stroke="rgba(55,105,160,0.75)" stroke-width="0.5"/>
<circle cx="154.69" cy="362.00" r="1.45" fill="rgba(65,115,170,0.5)" stroke="rgba(55,105,160,0.75)" stroke-width="0.5"/>
<circle cx="154.69" cy="366.80" r="1.45" fill="rgba(65,115,170,0.5)" stroke="rgba(55,105,160,0.75)" stroke-width="0.5"/>
<circle cx="154.69" cy="368.90" r="1.45" fill="rgba(65,115,170,0.5)" stroke="rgba(55,105,160,0.75)" stroke-width="0.5"/>
<circle cx="154.69" cy="370.90" r="1.45" fill="rgba(65,115,170,0.5)" stroke="rgba(55,105,160,0.75)" stroke-width="0.5"/>
<circle cx="154.69" cy="377.00" r="1.45" fill="rgba(65,115,170,0.5)" stroke="rgba(55,105,160,0.75)" stroke-width="0.5"/>
<circle cx="154.69" cy="383.20" r="1.45" fill="rgba(65,115,170,0.5)" stroke="rgba(55,105,160,0.75)" stroke-width="0.5"/>
<circle cx="159.57" cy="340.20" r="1.45" fill="rgba(65,115,170,0.5)" stroke="rgba(55,105,160,0.75)" stroke-width="0.5"/>
<circle cx="159.57" cy="356.30" r="1.45" fill="rgba(65,115,170,0.5)" stroke="rgba(55,105,160,0.75)" stroke-width="0.5"/>
<circle cx="159.57" cy="362.70" r="1.45" fill="rgba(65,115,170,0.5)" stroke="rgba(55,105,160,0.75)" stroke-width="0.5"/>
<circle cx="159.57" cy="362.70" r="1.45" fill="rgba(65,115,170,0.5)" stroke="rgba(55,105,160,0.75)" stroke-width="0.5"/>
<circle cx="159.57" cy="370.90" r="1.45" fill="rgba(65,115,170,0.5)" stroke="rgba(55,105,160,0.75)" stroke-width="0.5"/>
<circle cx="159.57" cy="374.30" r="1.45" fill="rgba(65,115,170,0.5)" stroke="rgba(55,105,160,0.75)" stroke-width="0.5"/>
<circle cx="164.45" cy="353.20" r="1.45" fill="rgba(65,115,170,0.5)" stroke="rgba(55,105,160,0.75)" stroke-width="0.5"/>
<circle cx="164.45" cy="354.50" r="1.45" fill="rgba(65,115,170,0.5)" stroke="rgba(55,105,160,0.75)" stroke-width="0.5"/>
<circle cx="164.45" cy="355.90" r="1.45" fill="rgba(65,115,170,0.5)" stroke="rgba(55,105,160,0.75)" stroke-width="0.5"/>
<circle cx="164.45" cy="358.60" r="1.45" fill="rgba(65,115,170,0.5)" stroke="rgba(55,105,160,0.75)" stroke-width="0.5"/>
<circle cx="164.45" cy="360.00" r="1.45" fill="rgba(65,115,170,0.5)" stroke="rgba(55,105,160,0.75)" stroke-width="0.5"/>
<circle cx="164.45" cy="362.70" r="1.45" fill="rgba(65,115,170,0.5)" stroke="rgba(55,105,160,0.75)" stroke-width="0.5"/>
<circle cx="164.45" cy="366.80" r="1.45" fill="rgba(65,115,170,0.5)" stroke="rgba(55,105,160,0.75)" stroke-width="0.5"/>
<circle cx="164.45" cy="370.20" r="1.45" fill="rgba(65,115,170,0.5)" stroke="rgba(55,105,160,0.75)" stroke-width="0.5"/>
<circle cx="164.45" cy="373.60" r="1.45" fill="rgba(65,115,170,0.5)" stroke="rgba(55,105,160,0.75)" stroke-width="0.5"/>
<circle cx="164.45" cy="377.50" r="1.45" fill="rgba(65,115,170,0.5)" stroke="rgba(55,105,160,0.75)" stroke-width="0.5"/>
<circle cx="164.45" cy="388.40" r="1.45" fill="rgba(65,115,170,0.5)" stroke="rgba(55,105,160,0.75)" stroke-width="0.5"/>
<circle cx="169.33" cy="345.00" r="1.45" fill="rgba(65,115,170,0.5)" stroke="rgba(55,105,160,0.75)" stroke-width="0.5"/>
<circle cx="169.33" cy="355.20" r="1.45" fill="rgba(65,115,170,0.5)" stroke="rgba(55,105,160,0.75)" stroke-width="0.5"/>
<circle cx="169.33" cy="356.60" r="1.45" fill="rgba(65,115,170,0.5)" stroke="rgba(55,105,160,0.75)" stroke-width="0.5"/>
<circle cx="169.33" cy="358.00" r="1.45" fill="rgba(65,115,170,0.5)" stroke="rgba(55,105,160,0.75)" stroke-width="0.5"/>
<circle cx="169.33" cy="364.10" r="1.45" fill="rgba(65,115,170,0.5)" stroke="rgba(55,105,160,0.75)" stroke-width="0.5"/>
<circle cx="169.33" cy="370.20" r="1.45" fill="rgba(65,115,170,0.5)" stroke="rgba(55,105,160,0.75)" stroke-width="0.5"/>
<circle cx="169.33" cy="374.30" r="1.45" fill="rgba(65,115,170,0.5)" stroke="rgba(55,105,160,0.75)" stroke-width="0.5"/>
<circle cx="174.21" cy="346.60" r="1.45" fill="rgba(65,115,170,0.5)" stroke="rgba(55,105,160,0.75)" stroke-width="0.5"/>
<circle cx="174.21" cy="351.80" r="1.45" fill="rgba(65,115,170,0.5)" stroke="rgba(55,105,160,0.75)" stroke-width="0.5"/>
<circle cx="174.21" cy="353.20" r="1.45" fill="rgba(65,115,170,0.5)" stroke="rgba(55,105,160,0.75)" stroke-width="0.5"/>
<circle cx="174.21" cy="354.50" r="1.45" fill="rgba(65,115,170,0.5)" stroke="rgba(55,105,160,0.75)" stroke-width="0.5"/>
<circle cx="174.21" cy="358.00" r="1.45" fill="rgba(65,115,170,0.5)" stroke="rgba(55,105,160,0.75)" stroke-width="0.5"/>
<circle cx="174.21" cy="361.10" r="1.45" fill="rgba(65,115,170,0.5)" stroke="rgba(55,105,160,0.75)" stroke-width="0.5"/>
<circle cx="174.21" cy="364.10" r="1.45" fill="rgba(65,115,170,0.5)" stroke="rgba(55,105,160,0.75)" stroke-width="0.5"/>
<circle cx="174.21" cy="370.90" r="1.45" fill="rgba(65,115,170,0.5)" stroke="rgba(55,105,160,0.75)" stroke-width="0.5"/>
<circle cx="179.08" cy="354.30" r="1.45" fill="rgba(65,115,170,0.5)" stroke="rgba(55,105,160,0.75)" stroke-width="0.5"/>
<circle cx="179.08" cy="365.50" r="1.45" fill="rgba(65,115,170,0.5)" stroke="rgba(55,105,160,0.75)" stroke-width="0.5"/>
<circle cx="179.08" cy="366.80" r="1.45" fill="rgba(65,115,170,0.5)" stroke="rgba(55,105,160,0.75)" stroke-width="0.5"/>
<circle cx="179.08" cy="368.20" r="1.45" fill="rgba(65,115,170,0.5)" stroke="rgba(55,105,160,0.75)" stroke-width="0.5"/>
<circle cx="179.08" cy="370.90" r="1.45" fill="rgba(65,115,170,0.5)" stroke="rgba(55,105,160,0.75)" stroke-width="0.5"/>
<circle cx="179.08" cy="372.30" r="1.45" fill="rgba(65,115,170,0.5)" stroke="rgba(55,105,160,0.75)" stroke-width="0.5"/>
<circle cx="179.08" cy="377.70" r="1.45" fill="rgba(65,115,170,0.5)" stroke="rgba(55,105,160,0.75)" stroke-width="0.5"/>
<circle cx="179.08" cy="388.90" r="1.45" fill="rgba(65,115,170,0.5)" stroke="rgba(55,105,160,0.75)" stroke-width="0.5"/>
<circle cx="183.96" cy="346.10" r="1.45" fill="rgba(65,115,170,0.5)" stroke="rgba(55,105,160,0.75)" stroke-width="0.5"/>
<circle cx="183.96" cy="351.50" r="1.45" fill="rgba(65,115,170,0.5)" stroke="rgba(55,105,160,0.75)" stroke-width="0.5"/>
<circle cx="183.96" cy="355.20" r="1.45" fill="rgba(65,115,170,0.5)" stroke="rgba(55,105,160,0.75)" stroke-width="0.5"/>
<circle cx="183.96" cy="361.40" r="1.45" fill="rgba(65,115,170,0.5)" stroke="rgba(55,105,160,0.75)" stroke-width="0.5"/>
<circle cx="183.96" cy="362.70" r="1.45" fill="rgba(65,115,170,0.5)" stroke="rgba(55,105,160,0.75)" stroke-width="0.5"/>
<circle cx="183.96" cy="364.10" r="1.45" fill="rgba(65,115,170,0.5)" stroke="rgba(55,105,160,0.75)" stroke-width="0.5"/>
<circle cx="183.96" cy="365.50" r="1.45" fill="rgba(65,115,170,0.5)" stroke="rgba(55,105,160,0.75)" stroke-width="0.5"/>
<circle cx="183.96" cy="366.80" r="1.45" fill="rgba(65,115,170,0.5)" stroke="rgba(55,105,160,0.75)" stroke-width="0.5"/>
<circle cx="183.96" cy="368.20" r="1.45" fill="rgba(65,115,170,0.5)" stroke="rgba(55,105,160,0.75)" stroke-width="0.5"/>
<circle cx="183.96" cy="373.40" r="1.45" fill="rgba(65,115,170,0.5)" stroke="rgba(55,105,160,0.75)" stroke-width="0.5"/>
<circle cx="183.96" cy="379.80" r="1.45" fill="rgba(65,115,170,0.5)" stroke="rgba(55,105,160,0.75)" stroke-width="0.5"/>
<circle cx="183.96" cy="386.20" r="1.45" fill="rgba(65,115,170,0.5)" stroke="rgba(55,105,160,0.75)" stroke-width="0.5"/>
<circle cx="188.84" cy="345.70" r="1.45" fill="rgba(65,115,170,0.5)" stroke="rgba(55,105,160,0.75)" stroke-width="0.5"/>
<circle cx="188.84" cy="353.20" r="1.45" fill="rgba(65,115,170,0.5)" stroke="rgba(55,105,160,0.75)" stroke-width="0.5"/>
<circle cx="188.84" cy="362.00" r="1.45" fill="rgba(65,115,170,0.5)" stroke="rgba(55,105,160,0.75)" stroke-width="0.5"/>
<circle cx="188.84" cy="373.00" r="1.45" fill="rgba(65,115,170,0.5)" stroke="rgba(55,105,160,0.75)" stroke-width="0.5"/>
<circle cx="188.84" cy="377.00" r="1.45" fill="rgba(65,115,170,0.5)" stroke="rgba(55,105,160,0.75)" stroke-width="0.5"/>
<circle cx="188.84" cy="378.40" r="1.45" fill="rgba(65,115,170,0.5)" stroke="rgba(55,105,160,0.75)" stroke-width="0.5"/>
<circle cx="193.72" cy="338.90" r="1.45" fill="rgba(65,115,170,0.5)" stroke="rgba(55,105,160,0.75)" stroke-width="0.5"/>
<circle cx="193.72" cy="354.50" r="1.45" fill="rgba(65,115,170,0.5)" stroke="rgba(55,105,160,0.75)" stroke-width="0.5"/>
<circle cx="193.72" cy="363.40" r="1.45" fill="rgba(65,115,170,0.5)" stroke="rgba(55,105,160,0.75)" stroke-width="0.5"/>
<circle cx="193.72" cy="364.80" r="1.45" fill="rgba(65,115,170,0.5)" stroke="rgba(55,105,160,0.75)" stroke-width="0.5"/>
<circle cx="193.72" cy="381.10" r="1.45" fill="rgba(65,115,170,0.5)" stroke="rgba(55,105,160,0.75)" stroke-width="0.5"/>
<circle cx="193.72" cy="385.20" r="1.45" fill="rgba(65,115,170,0.5)" stroke="rgba(55,105,160,0.75)" stroke-width="0.5"/>
<circle cx="198.60" cy="344.70" r="1.45" fill="rgba(65,115,170,0.5)" stroke="rgba(55,105,160,0.75)" stroke-width="0.5"/>
<circle cx="198.60" cy="357.30" r="1.45" fill="rgba(65,115,170,0.5)" stroke="rgba(55,105,160,0.75)" stroke-width="0.5"/>
<circle cx="198.60" cy="368.90" r="1.45" fill="rgba(65,115,170,0.5)" stroke="rgba(55,105,160,0.75)" stroke-width="0.5"/>
<circle cx="198.60" cy="375.00" r="1.45" fill="rgba(65,115,170,0.5)" stroke="rgba(55,105,160,0.75)" stroke-width="0.5"/>
<circle cx="203.47" cy="360.70" r="1.45" fill="rgba(65,115,170,0.5)" stroke="rgba(55,105,160,0.75)" stroke-width="0.5"/>
<circle cx="203.47" cy="362.70" r="1.45" fill="rgba(65,115,170,0.5)" stroke="rgba(55,105,160,0.75)" stroke-width="0.5"/>
<circle cx="203.47" cy="377.00" r="1.45" fill="rgba(65,115,170,0.5)" stroke="rgba(55,105,160,0.75)" stroke-width="0.5"/>
<circle cx="208.35" cy="353.50" r="1.45" fill="rgba(65,115,170,0.5)" stroke="rgba(55,105,160,0.75)" stroke-width="0.5"/>
<circle cx="208.35" cy="355.20" r="1.45" fill="rgba(65,115,170,0.5)" stroke="rgba(55,105,160,0.75)" stroke-width="0.5"/>
<circle cx="208.35" cy="362.50" r="1.45" fill="rgba(65,115,170,0.5)" stroke="rgba(55,105,160,0.75)" stroke-width="0.5"/>
<circle cx="208.35" cy="376.10" r="1.45" fill="rgba(65,115,170,0.5)" stroke="rgba(55,105,160,0.75)" stroke-width="0.5"/>
<circle cx="213.23" cy="371.60" r="1.45" fill="rgba(65,115,170,0.5)" stroke="rgba(55,105,160,0.75)" stroke-width="0.5"/>
<circle cx="213.23" cy="371.60" r="1.45" fill="rgba(65,115,170,0.5)" stroke="rgba(55,105,160,0.75)" stroke-width="0.5"/>
<circle cx="218.11" cy="350.20" r="1.45" fill="rgba(65,115,170,0.5)" stroke="rgba(55,105,160,0.75)" stroke-width="0.5"/>
<circle cx="218.11" cy="357.00" r="1.45" fill="rgba(65,115,170,0.5)" stroke="rgba(55,105,160,0.75)" stroke-width="0.5"/>
<circle cx="218.11" cy="365.70" r="1.45" fill="rgba(65,115,170,0.5)" stroke="rgba(55,105,160,0.75)" stroke-width="0.5"/>
<circle cx="218.11" cy="369.50" r="1.45" fill="rgba(65,115,170,0.5)" stroke="rgba(55,105,160,0.75)" stroke-width="0.5"/>
<circle cx="222.99" cy="355.20" r="1.45" fill="rgba(65,115,170,0.5)" stroke="rgba(55,105,160,0.75)" stroke-width="0.5"/>
<circle cx="222.99" cy="356.60" r="1.45" fill="rgba(65,115,170,0.5)" stroke="rgba(55,105,160,0.75)" stroke-width="0.5"/>
<circle cx="222.99" cy="358.00" r="1.45" fill="rgba(65,115,170,0.5)" stroke="rgba(55,105,160,0.75)" stroke-width="0.5"/>
<circle cx="222.99" cy="359.30" r="1.45" fill="rgba(65,115,170,0.5)" stroke="rgba(55,105,160,0.75)" stroke-width="0.5"/>
<circle cx="222.99" cy="373.40" r="1.45" fill="rgba(65,115,170,0.5)" stroke="rgba(55,105,160,0.75)" stroke-width="0.5"/>
<circle cx="227.86" cy="363.80" r="1.45" fill="rgba(65,115,170,0.5)" stroke="rgba(55,105,160,0.75)" stroke-width="0.5"/>
<circle cx="227.86" cy="369.80" r="1.45" fill="rgba(65,115,170,0.5)" stroke="rgba(55,105,160,0.75)" stroke-width="0.5"/>
<circle cx="227.86" cy="375.70" r="1.45" fill="rgba(65,115,170,0.5)" stroke="rgba(55,105,160,0.75)" stroke-width="0.5"/>
<circle cx="227.86" cy="383.20" r="1.45" fill="rgba(65,115,170,0.5)" stroke="rgba(55,105,160,0.75)" stroke-width="0.5"/>
<circle cx="47.38" cy="369.50" r="1.4" fill="rgba(100,185,105,0.55)" stroke="rgba(80,165,90,0.8)" stroke-width="0.5"/>
<circle cx="62.01" cy="382.10" r="1.4" fill="rgba(100,185,105,0.55)" stroke="rgba(80,165,90,0.8)" stroke-width="0.5"/>
<circle cx="66.89" cy="363.10" r="1.4" fill="rgba(100,185,105,0.55)" stroke="rgba(80,165,90,0.8)" stroke-width="0.5"/>
<circle cx="71.77" cy="380.90" r="1.4" fill="rgba(100,185,105,0.55)" stroke="rgba(80,165,90,0.8)" stroke-width="0.5"/>
<circle cx="76.65" cy="348.10" r="1.4" fill="rgba(100,185,105,0.55)" stroke="rgba(80,165,90,0.8)" stroke-width="0.5"/>
<circle cx="81.52" cy="345.40" r="1.4" fill="rgba(100,185,105,0.55)" stroke="rgba(80,165,90,0.8)" stroke-width="0.5"/>
<circle cx="81.52" cy="360.30" r="1.4" fill="rgba(100,185,105,0.55)" stroke="rgba(80,165,90,0.8)" stroke-width="0.5"/>
<circle cx="81.52" cy="372.30" r="1.4" fill="rgba(100,185,105,0.55)" stroke="rgba(80,165,90,0.8)" stroke-width="0.5"/>
<circle cx="86.40" cy="362.50" r="1.4" fill="rgba(100,185,105,0.55)" stroke="rgba(80,165,90,0.8)" stroke-width="0.5"/>
<circle cx="232.74" cy="366.80" r="1.4" fill="rgba(100,185,105,0.55)" stroke="rgba(80,165,90,0.8)" stroke-width="0.5"/>
<circle cx="232.74" cy="375.30" r="1.4" fill="rgba(100,185,105,0.55)" stroke="rgba(80,165,90,0.8)" stroke-width="0.5"/>
<circle cx="237.62" cy="354.50" r="1.4" fill="rgba(100,185,105,0.55)" stroke="rgba(80,165,90,0.8)" stroke-width="0.5"/>
<circle cx="237.62" cy="370.20" r="1.4" fill="rgba(100,185,105,0.55)" stroke="rgba(80,165,90,0.8)" stroke-width="0.5"/>
<circle cx="242.50" cy="360.30" r="1.4" fill="rgba(100,185,105,0.55)" stroke="rgba(80,165,90,0.8)" stroke-width="0.5"/>
<circle cx="247.38" cy="358.60" r="1.4" fill="rgba(100,185,105,0.55)" stroke="rgba(80,165,90,0.8)" stroke-width="0.5"/>
<circle cx="247.38" cy="362.70" r="1.4" fill="rgba(100,185,105,0.55)" stroke="rgba(80,165,90,0.8)" stroke-width="0.5"/>
<circle cx="247.38" cy="374.30" r="1.4" fill="rgba(100,185,105,0.55)" stroke="rgba(80,165,90,0.8)" stroke-width="0.5"/>
<circle cx="262.01" cy="367.90" r="1.4" fill="rgba(100,185,105,0.55)" stroke="rgba(80,165,90,0.8)" stroke-width="0.5"/>
<rect x="30.5" y="283.3" width="268.00" height="133.00" fill="none" stroke="#4a4a4a" stroke-width="1.0"/>
<line x1="42.50" y1="416.3" x2="42.50" y2="418.3" stroke="#333" stroke-width="0.85"/>
<text x="42.50" y="423.20" font-family="'Liberation Sans', sans-serif" font-size="5.5" text-anchor="middle" fill="#222" stroke="#222" stroke-width="0.12">40</text>
<line x1="91.28" y1="416.3" x2="91.28" y2="418.3" stroke="#333" stroke-width="0.85"/>
<text x="91.28" y="423.20" font-family="'Liberation Sans', sans-serif" font-size="5.5" text-anchor="middle" fill="#222" stroke="#222" stroke-width="0.12">50</text>
<line x1="140.06" y1="416.3" x2="140.06" y2="418.3" stroke="#333" stroke-width="0.85"/>
<text x="140.06" y="423.20" font-family="'Liberation Sans', sans-serif" font-size="5.5" text-anchor="middle" fill="#222" stroke="#222" stroke-width="0.12">60</text>
<line x1="188.84" y1="416.3" x2="188.84" y2="418.3" stroke="#333" stroke-width="0.85"/>
<text x="188.84" y="423.20" font-family="'Liberation Sans', sans-serif" font-size="5.5" text-anchor="middle" fill="#222" stroke="#222" stroke-width="0.12">70</text>
<line x1="237.62" y1="416.3" x2="237.62" y2="418.3" stroke="#333" stroke-width="0.85"/>
<text x="237.62" y="423.20" font-family="'Liberation Sans', sans-serif" font-size="5.5" text-anchor="middle" fill="#222" stroke="#222" stroke-width="0.12">80</text>
<line x1="286.40" y1="416.3" x2="286.40" y2="418.3" stroke="#333" stroke-width="0.85"/>
<text x="286.40" y="423.20" font-family="'Liberation Sans', sans-serif" font-size="5.5" text-anchor="middle" fill="#222" stroke="#222" stroke-width="0.12">90</text>
<line x1="28.5" y1="404.47" x2="30.5" y2="404.47" stroke="#333" stroke-width="0.85"/>
<text x="27.10" y="406.42" font-family="'Liberation Sans', sans-serif" font-size="5.5" text-anchor="end" fill="#222" stroke="#222" stroke-width="0.12">−10</text>
<line x1="28.5" y1="384.88" x2="30.5" y2="384.88" stroke="#333" stroke-width="0.85"/>
<text x="27.10" y="386.83" font-family="'Liberation Sans', sans-serif" font-size="5.5" text-anchor="end" fill="#222" stroke="#222" stroke-width="0.12">−5</text>
<line x1="28.5" y1="365.30" x2="30.5" y2="365.30" stroke="#333" stroke-width="0.85"/>
<text x="27.10" y="367.25" font-family="'Liberation Sans', sans-serif" font-size="5.5" text-anchor="end" fill="#222" stroke="#222" stroke-width="0.12">0</text>
<line x1="28.5" y1="345.72" x2="30.5" y2="345.72" stroke="#333" stroke-width="0.85"/>
<text x="27.10" y="347.67" font-family="'Liberation Sans', sans-serif" font-size="5.5" text-anchor="end" fill="#222" stroke="#222" stroke-width="0.12">5</text>
<line x1="28.5" y1="326.13" x2="30.5" y2="326.13" stroke="#333" stroke-width="0.85"/>
<text x="27.10" y="328.08" font-family="'Liberation Sans', sans-serif" font-size="5.5" text-anchor="end" fill="#222" stroke="#222" stroke-width="0.12">10</text>
<line x1="28.5" y1="306.55" x2="30.5" y2="306.55" stroke="#333" stroke-width="0.85"/>
<text x="27.10" y="308.50" font-family="'Liberation Sans', sans-serif" font-size="5.5" text-anchor="end" fill="#222" stroke="#222" stroke-width="0.12">15</text>
<line x1="28.5" y1="286.96" x2="30.5" y2="286.96" stroke="#333" stroke-width="0.85"/>
<text x="27.10" y="288.91" font-family="'Liberation Sans', sans-serif" font-size="5.5" text-anchor="end" fill="#222" stroke="#222" stroke-width="0.12">20</text>
<text x="0.90" y="273.20" font-family="'Liberation Serif', serif" font-size="9.4" text-anchor="start" fill="#111" stroke="#111" stroke-width="0.22">(d)</text>
<text x="164.40" y="437.00" font-family="'Liberation Serif', serif" font-size="8.7" text-anchor="middle" fill="#111" stroke="#111" stroke-width="0.22">True age (chronological age)</text>
<text x="11.80" y="344.10" font-family="'Liberation Serif', serif" font-size="8.7" text-anchor="middle" fill="#111" stroke="#111" stroke-width="0.22" transform="rotate(-90 11.8 344.1)">Brain age gap</text>
<rect x="154.8" y="284.8" width="142.1" height="29.1" rx="1.5" fill="rgba(255,255,255,0.8)" stroke="#d8d8d8" stroke-width="0.7"/>
<circle cx="167.5" cy="289.9" r="2.3" fill="rgb(150,188,222)" stroke="rgb(105,145,192)" stroke-width="0.55"/>
<circle cx="167.5" cy="298.6" r="2.3" fill="rgb(145,215,145)" stroke="rgb(88,172,98)" stroke-width="0.55"/>
<line x1="158.8" y1="307.4" x2="171.9" y2="307.4" stroke="#222" stroke-width="0.9" stroke-dasharray="7.1,2.8"/>
<text x="178.00" y="292.40" font-family="'Liberation Serif', serif" font-size="7.2" fill="#111" stroke="#111" stroke-width="0.22">CU <tspan fill="#333" stroke="#333" stroke-width="0.1">δ</tspan> = 0.09 [-0.66, 0.85] years</text>
<line x1="190.40" y1="286.64" x2="192.89" y2="286.64" stroke="#444" stroke-width="0.45"/>
<text x="178.00" y="301.10" font-family="'Liberation Serif', serif" font-size="7.2" text-anchor="start" fill="#111" stroke="#111" stroke-width="0.22">Test datapoints used for bias correction</text>
<text x="178.00" y="309.90" font-family="'Liberation Serif', serif" font-size="7.2" text-anchor="start" fill="#111" stroke="#111" stroke-width="0.22">95% CI of brain age gap regression lines</text>
<line x1="376.60" y1="368.70" x2="619.50" y2="368.70" stroke="#262626" stroke-width="0.85"/>
<circle cx="410.61" cy="317.70" r="1.45" fill="rgba(195,50,62,0.5)" stroke="rgba(185,45,58,0.78)" stroke-width="0.5"/>
<circle cx="420.32" cy="300.70" r="1.45" fill="rgba(195,50,62,0.5)" stroke="rgba(185,45,58,0.78)" stroke-width="0.5"/>
<circle cx="420.32" cy="319.50" r="1.45" fill="rgba(195,50,62,0.5)" stroke="rgba(185,45,58,0.78)" stroke-width="0.5"/>
<circle cx="430.04" cy="312.50" r="1.45" fill="rgba(195,50,62,0.5)" stroke="rgba(185,45,58,0.78)" stroke-width="0.5"/>
<circle cx="430.04" cy="341.30" r="1.45" fill="rgba(195,50,62,0.5)" stroke="rgba(185,45,58,0.78)" stroke-width="0.5"/>
<circle cx="434.90" cy="297.40" r="1.45" fill="rgba(195,50,62,0.5)" stroke="rgba(185,45,58,0.78)" stroke-width="0.5"/>
<circle cx="454.33" cy="302.90" r="1.45" fill="rgba(195,50,62,0.5)" stroke="rgba(185,45,58,0.78)" stroke-width="0.5"/>
<circle cx="454.33" cy="308.90" r="1.45" fill="rgba(195,50,62,0.5)" stroke="rgba(185,45,58,0.78)" stroke-width="0.5"/>
<circle cx="454.33" cy="311.60" r="1.45" fill="rgba(195,50,62,0.5)" stroke="rgba(185,45,58,0.78)" stroke-width="0.5"/>
<circle cx="454.33" cy="314.70" r="1.45" fill="rgba(195,50,62,0.5)" stroke="rgba(185,45,58,0.78)" stroke-width="0.5"/>
<circle cx="454.33" cy="324.00" r="1.45" fill="rgba(195,50,62,0.5)" stroke="rgba(185,45,58,0.78)" stroke-width="0.5"/>
<circle cx="454.33" cy="356.80" r="1.45" fill="rgba(195,50,62,0.5)" stroke="rgba(185,45,58,0.78)" stroke-width="0.5"/>
<circle cx="459.19" cy="336.30" r="1.45" fill="rgba(195,50,62,0.5)" stroke="rgba(185,45,58,0.78)" stroke-width="0.5"/>
<circle cx="459.19" cy="352.10" r="1.45" fill="rgba(195,50,62,0.5)" stroke="rgba(185,45,58,0.78)" stroke-width="0.5"/>
<circle cx="464.04" cy="288.10" r="1.45" fill="rgba(195,50,62,0.5)" stroke="rgba(185,45,58,0.78)" stroke-width="0.5"/>
<circle cx="464.04" cy="308.20" r="1.45" fill="rgba(195,50,62,0.5)" stroke="rgba(185,45,58,0.78)" stroke-width="0.5"/>
<circle cx="468.90" cy="317.70" r="1.45" fill="rgba(195,50,62,0.5)" stroke="rgba(185,45,58,0.78)" stroke-width="0.5"/>
<circle cx="468.90" cy="340.00" r="1.45" fill="rgba(195,50,62,0.5)" stroke="rgba(185,45,58,0.78)" stroke-width="0.5"/>
<circle cx="473.76" cy="294.70" r="1.45" fill="rgba(195,50,62,0.5)" stroke="rgba(185,45,58,0.78)" stroke-width="0.5"/>
<circle cx="473.76" cy="318.50" r="1.45" fill="rgba(195,50,62,0.5)" stroke="rgba(185,45,58,0.78)" stroke-width="0.5"/>
<circle cx="473.76" cy="318.50" r="1.45" fill="rgba(195,50,62,0.5)" stroke="rgba(185,45,58,0.78)" stroke-width="0.5"/>
<circle cx="478.62" cy="334.10" r="1.45" fill="rgba(195,50,62,0.5)" stroke="rgba(185,45,58,0.78)" stroke-width="0.5"/>
<circle cx="483.48" cy="350.00" r="1.45" fill="rgba(195,50,62,0.5)" stroke="rgba(185,45,58,0.78)" stroke-width="0.5"/>
<circle cx="488.33" cy="315.00" r="1.45" fill="rgba(195,50,62,0.5)" stroke="rgba(185,45,58,0.78)" stroke-width="0.5"/>
<circle cx="488.33" cy="315.00" r="1.45" fill="rgba(195,50,62,0.5)" stroke="rgba(185,45,58,0.78)" stroke-width="0.5"/>
<circle cx="488.33" cy="335.60" r="1.45" fill="rgba(195,50,62,0.5)" stroke="rgba(185,45,58,0.78)" stroke-width="0.5"/>
<circle cx="488.33" cy="340.90" r="1.45" fill="rgba(195,50,62,0.5)" stroke="rgba(185,45,58,0.78)" stroke-width="0.5"/>
<circle cx="488.33" cy="344.50" r="1.45" fill="rgba(195,50,62,0.5)" stroke="rgba(185,45,58,0.78)" stroke-width="0.5"/>
<circle cx="488.33" cy="358.10" r="1.45" fill="rgba(195,50,62,0.5)" stroke="rgba(185,45,58,0.78)" stroke-width="0.5"/>
<circle cx="488.33" cy="358.10" r="1.45" fill="rgba(195,50,62,0.5)" stroke="rgba(185,45,58,0.78)" stroke-width="0.5"/>
<circle cx="493.19" cy="323.30" r="1.45" fill="rgba(195,50,62,0.5)" stroke="rgba(185,45,58,0.78)" stroke-width="0.5"/>
<circle cx="493.19" cy="355.80" r="1.45" fill="rgba(195,50,62,0.5)" stroke="rgba(185,45,58,0.78)" stroke-width="0.5"/>
<circle cx="493.19" cy="361.90" r="1.45" fill="rgba(195,50,62,0.5)" stroke="rgba(185,45,58,0.78)" stroke-width="0.5"/>
<circle cx="493.19" cy="380.70" r="1.45" fill="rgba(195,50,62,0.5)" stroke="rgba(185,45,58,0.78)" stroke-width="0.5"/>
<circle cx="498.05" cy="321.50" r="1.45" fill="rgba(195,50,62,0.5)" stroke="rgba(185,45,58,0.78)" stroke-width="0.5"/>
<circle cx="498.05" cy="326.70" r="1.45" fill="rgba(195,50,62,0.5)" stroke="rgba(185,45,58,0.78)" stroke-width="0.5"/>
<circle cx="498.05" cy="328.10" r="1.45" fill="rgba(195,50,62,0.5)" stroke="rgba(185,45,58,0.78)" stroke-width="0.5"/>
<circle cx="502.91" cy="312.70" r="1.45" fill="rgba(195,50,62,0.5)" stroke="rgba(185,45,58,0.78)" stroke-width="0.5"/>
<circle cx="502.91" cy="337.10" r="1.45" fill="rgba(195,50,62,0.5)" stroke="rgba(185,45,58,0.78)" stroke-width="0.5"/>
<circle cx="502.91" cy="364.90" r="1.45" fill="rgba(195,50,62,0.5)" stroke="rgba(185,45,58,0.78)" stroke-width="0.5"/>
<circle cx="507.77" cy="303.80" r="1.45" fill="rgba(195,50,62,0.5)" stroke="rgba(185,45,58,0.78)" stroke-width="0.5"/>
<circle cx="507.77" cy="305.50" r="1.45" fill="rgba(195,50,62,0.5)" stroke="rgba(185,45,58,0.78)" stroke-width="0.5"/>
<circle cx="507.77" cy="339.30" r="1.45" fill="rgba(195,50,62,0.5)" stroke="rgba(185,45,58,0.78)" stroke-width="0.5"/>
<circle cx="507.77" cy="341.20" r="1.45" fill="rgba(195,50,62,0.5)" stroke="rgba(185,45,58,0.78)" stroke-width="0.5"/>
<circle cx="507.77" cy="350.30" r="1.45" fill="rgba(195,50,62,0.5)" stroke="rgba(185,45,58,0.78)" stroke-width="0.5"/>
<circle cx="507.77" cy="353.70" r="1.45" fill="rgba(195,50,62,0.5)" stroke="rgba(185,45,58,0.78)" stroke-width="0.5"/>
<circle cx="507.77" cy="355.80" r="1.45" fill="rgba(195,50,62,0.5)" stroke="rgba(185,45,58,0.78)" stroke-width="0.5"/>
<circle cx="507.77" cy="361.90" r="1.45" fill="rgba(195,50,62,0.5)" stroke="rgba(185,45,58,0.78)" stroke-width="0.5"/>
<circle cx="512.62" cy="310.00" r="1.45" fill="rgba(195,50,62,0.5)" stroke="rgba(185,45,58,0.78)" stroke-width="0.5"/>
<circle cx="512.62" cy="340.90" r="1.45" fill="rgba(195,50,62,0.5)" stroke="rgba(185,45,58,0.78)" stroke-width="0.5"/>
<circle cx="512.62" cy="348.00" r="1.45" fill="rgba(195,50,62,0.5)" stroke="rgba(185,45,58,0.78)" stroke-width="0.5"/>
<circle cx="512.62" cy="349.60" r="1.45" fill="rgba(195,50,62,0.5)" stroke="rgba(185,45,58,0.78)" stroke-width="0.5"/>
<circle cx="512.62" cy="364.60" r="1.45" fill="rgba(195,50,62,0.5)" stroke="rgba(185,45,58,0.78)" stroke-width="0.5"/>
<circle cx="517.48" cy="311.70" r="1.45" fill="rgba(195,50,62,0.5)" stroke="rgba(185,45,58,0.78)" stroke-width="0.5"/>
<circle cx="517.48" cy="325.90" r="1.45" fill="rgba(195,50,62,0.5)" stroke="rgba(185,45,58,0.78)" stroke-width="0.5"/>
<circle cx="517.48" cy="327.70" r="1.45" fill="rgba(195,50,62,0.5)" stroke="rgba(185,45,58,0.78)" stroke-width="0.5"/>
<circle cx="517.48" cy="329.00" r="1.45" fill="rgba(195,50,62,0.5)" stroke="rgba(185,45,58,0.78)" stroke-width="0.5"/>
<circle cx="517.48" cy="333.10" r="1.45" fill="rgba(195,50,62,0.5)" stroke="rgba(185,45,58,0.78)" stroke-width="0.5"/>
<circle cx="522.34" cy="318.50" r="1.45" fill="rgba(195,50,62,0.5)" stroke="rgba(185,45,58,0.78)" stroke-width="0.5"/>
<circle cx="522.34" cy="350.30" r="1.45" fill="rgba(195,50,62,0.5)" stroke="rgba(185,45,58,0.78)" stroke-width="0.5"/>
<circle cx="522.34" cy="358.50" r="1.45" fill="rgba(195,50,62,0.5)" stroke="rgba(185,45,58,0.78)" stroke-width="0.5"/>
<circle cx="522.34" cy="359.20" r="1.45" fill="rgba(195,50,62,0.5)" stroke="rgba(185,45,58,0.78)" stroke-width="0.5"/>
<circle cx="522.34" cy="363.30" r="1.45" fill="rgba(195,50,62,0.5)" stroke="rgba(185,45,58,0.78)" stroke-width="0.5"/>
<circle cx="522.34" cy="382.40" r="1.45" fill="rgba(195,50,62,0.5)" stroke="rgba(185,45,58,0.78)" stroke-width="0.5"/>
<circle cx="522.34" cy="386.20" r="1.45" fill="rgba(195,50,62,0.5)" stroke="rgba(185,45,58,0.78)" stroke-width="0.5"/>
<circle cx="527.20" cy="325.60" r="1.45" fill="rgba(195,50,62,0.5)" stroke="rgba(185,45,58,0.78)" stroke-width="0.5"/>
<circle cx="527.20" cy="340.90" r="1.45" fill="rgba(195,50,62,0.5)" stroke="rgba(185,45,58,0.78)" stroke-width="0.5"/>
<circle cx="527.20" cy="360.80" r="1.45" fill="rgba(195,50,62,0.5)" stroke="rgba(185,45,58,0.78)" stroke-width="0.5"/>
<circle cx="527.20" cy="366.00" r="1.45" fill="rgba(195,50,62,0.5)" stroke="rgba(185,45,58,0.78)" stroke-width="0.5"/>
<circle cx="532.06" cy="314.50" r="1.45" fill="rgba(195,50,62,0.5)" stroke="rgba(185,45,58,0.78)" stroke-width="0.5"/>
<circle cx="532.06" cy="329.00" r="1.45" fill="rgba(195,50,62,0.5)" stroke="rgba(185,45,58,0.78)" stroke-width="0.5"/>
<circle cx="532.06" cy="333.10" r="1.45" fill="rgba(195,50,62,0.5)" stroke="rgba(185,45,58,0.78)" stroke-width="0.5"/>
<circle cx="532.06" cy="340.40" r="1.45" fill="rgba(195,50,62,0.5)" stroke="rgba(185,45,58,0.78)" stroke-width="0.5"/>
<circle cx="532.06" cy="349.40" r="1.45" fill="rgba(195,50,62,0.5)" stroke="rgba(185,45,58,0.78)" stroke-width="0.5"/>
<circle cx="532.06" cy="351.00" r="1.45" fill="rgba(195,50,62,0.5)" stroke="rgba(185,45,58,0.78)" stroke-width="0.5"/>
<circle cx="532.06" cy="352.40" r="1.45" fill="rgba(195,50,62,0.5)" stroke="rgba(185,45,58,0.78)" stroke-width="0.5"/>
<circle cx="532.06" cy="357.80" r="1.45" fill="rgba(195,50,62,0.5)" stroke="rgba(185,45,58,0.78)" stroke-width="0.5"/>
<circle cx="532.06" cy="359.90" r="1.45" fill="rgba(195,50,62,0.5)" stroke="rgba(185,45,58,0.78)" stroke-width="0.5"/>
<circle cx="532.06" cy="361.90" r="1.45" fill="rgba(195,50,62,0.5)" stroke="rgba(185,45,58,0.78)" stroke-width="0.5"/>
<circle cx="532.06" cy="364.60" r="1.45" fill="rgba(195,50,62,0.5)" stroke="rgba(185,45,58,0.78)" stroke-width="0.5"/>
<circle cx="532.06" cy="374.90" r="1.45" fill="rgba(195,50,62,0.5)" stroke="rgba(185,45,58,0.78)" stroke-width="0.5"/>
<circle cx="532.06" cy="394.00" r="1.45" fill="rgba(195,50,62,0.5)" stroke="rgba(185,45,58,0.78)" stroke-width="0.5"/>
<circle cx="532.06" cy="408.50" r="1.45" fill="rgba(195,50,62,0.5)" stroke="rgba(185,45,58,0.78)" stroke-width="0.5"/>
<circle cx="536.91" cy="330.40" r="1.45" fill="rgba(195,50,62,0.5)" stroke="rgba(185,45,58,0.78)" stroke-width="0.5"/>
<circle cx="536.91" cy="333.10" r="1.45" fill="rgba(195,50,62,0.5)" stroke="rgba(185,45,58,0.78)" stroke-width="0.5"/>
<circle cx="536.91" cy="334.50" r="1.45" fill="rgba(195,50,62,0.5)" stroke="rgba(185,45,58,0.78)" stroke-width="0.5"/>
<circle cx="536.91" cy="344.50" r="1.45" fill="rgba(195,50,62,0.5)" stroke="rgba(185,45,58,0.78)" stroke-width="0.5"/>
<circle cx="536.91" cy="345.30" r="1.45" fill="rgba(195,50,62,0.5)" stroke="rgba(185,45,58,0.78)" stroke-width="0.5"/>
<circle cx="536.91" cy="349.60" r="1.45" fill="rgba(195,50,62,0.5)" stroke="rgba(185,45,58,0.78)" stroke-width="0.5"/>
<circle cx="536.91" cy="351.70" r="1.45" fill="rgba(195,50,62,0.5)" stroke="rgba(185,45,58,0.78)" stroke-width="0.5"/>
<circle cx="536.91" cy="367.10" r="1.45" fill="rgba(195,50,62,0.5)" stroke="rgba(185,45,58,0.78)" stroke-width="0.5"/>
<circle cx="536.91" cy="375.50" r="1.45" fill="rgba(195,50,62,0.5)" stroke="rgba(185,45,58,0.78)" stroke-width="0.5"/>
<circle cx="541.77" cy="325.90" r="1.45" fill="rgba(195,50,62,0.5)" stroke="rgba(185,45,58,0.78)" stroke-width="0.5"/>
<circle cx="541.77" cy="334.90" r="1.45" fill="rgba(195,50,62,0.5)" stroke="rgba(185,45,58,0.78)" stroke-width="0.5"/>
<circle cx="541.77" cy="337.20" r="1.45" fill="rgba(195,50,62,0.5)" stroke="rgba(185,45,58,0.78)" stroke-width="0.5"/>
<circle cx="541.77" cy="344.20" r="1.45" fill="rgba(195,50,62,0.5)" stroke="rgba(185,45,58,0.78)" stroke-width="0.5"/>
<circle cx="541.77" cy="351.00" r="1.45" fill="rgba(195,50,62,0.5)" stroke="rgba(185,45,58,0.78)" stroke-width="0.5"/>
<circle cx="541.77" cy="356.70" r="1.45" fill="rgba(195,50,62,0.5)" stroke="rgba(185,45,58,0.78)" stroke-width="0.5"/>
<circle cx="541.77" cy="374.20" r="1.45" fill="rgba(195,50,62,0.5)" stroke="rgba(185,45,58,0.78)" stroke-width="0.5"/>
<circle cx="541.77" cy="375.30" r="1.45" fill="rgba(195,50,62,0.5)" stroke="rgba(185,45,58,0.78)" stroke-width="0.5"/>
<circle cx="546.63" cy="315.10" r="1.45" fill="rgba(195,50,62,0.5)" stroke="rgba(185,45,58,0.78)" stroke-width="0.5"/>
<circle cx="546.63" cy="349.60" r="1.45" fill="rgba(195,50,62,0.5)" stroke="rgba(185,45,58,0.78)" stroke-width="0.5"/>
<circle cx="546.63" cy="351.70" r="1.45" fill="rgba(195,50,62,0.5)" stroke="rgba(185,45,58,0.78)" stroke-width="0.5"/>
<circle cx="546.63" cy="354.40" r="1.45" fill="rgba(195,50,62,0.5)" stroke="rgba(185,45,58,0.78)" stroke-width="0.5"/>
<circle cx="546.63" cy="355.80" r="1.45" fill="rgba(195,50,62,0.5)" stroke="rgba(185,45,58,0.78)" stroke-width="0.5"/>
<circle cx="546.63" cy="370.80" r="1.45" fill="rgba(195,50,62,0.5)" stroke="rgba(185,45,58,0.78)" stroke-width="0.5"/>
<circle cx="546.63" cy="371.70" r="1.45" fill="rgba(195,50,62,0.5)" stroke="rgba(185,45,58,0.78)" stroke-width="0.5"/>
<circle cx="546.63" cy="378.50" r="1.45" fill="rgba(195,50,62,0.5)" stroke="rgba(185,45,58,0.78)" stroke-width="0.5"/>
<circle cx="551.49" cy="328.80" r="1.45" fill="rgba(195,50,62,0.5)" stroke="rgba(185,45,58,0.78)" stroke-width="0.5"/>
<circle cx="551.49" cy="337.90" r="1.45" fill="rgba(195,50,62,0.5)" stroke="rgba(185,45,58,0.78)" stroke-width="0.5"/>
<circle cx="551.49" cy="344.90" r="1.45" fill="rgba(195,50,62,0.5)" stroke="rgba(185,45,58,0.78)" stroke-width="0.5"/>
<circle cx="551.49" cy="346.20" r="1.45" fill="rgba(195,50,62,0.5)" stroke="rgba(185,45,58,0.78)" stroke-width="0.5"/>
<circle cx="551.49" cy="350.30" r="1.45" fill="rgba(195,50,62,0.5)" stroke="rgba(185,45,58,0.78)" stroke-width="0.5"/>
<circle cx="551.49" cy="355.10" r="1.45" fill="rgba(195,50,62,0.5)" stroke="rgba(185,45,58,0.78)" stroke-width="0.5"/>
<circle cx="551.49" cy="366.00" r="1.45" fill="rgba(195,50,62,0.5)" stroke="rgba(185,45,58,0.78)" stroke-width="0.5"/>
<circle cx="551.49" cy="368.00" r="1.45" fill="rgba(195,50,62,0.5)" stroke="rgba(185,45,58,0.78)" stroke-width="0.5"/>
<circle cx="551.49" cy="373.10" r="1.45" fill="rgba(195,50,62,0.5)" stroke="rgba(185,45,58,0.78)" stroke-width="0.5"/>
<circle cx="551.49" cy="377.20" r="1.45" fill="rgba(195,50,62,0.5)" stroke="rgba(185,45,58,0.78)" stroke-width="0.5"/>
<circle cx="556.35" cy="328.40" r="1.45" fill="rgba(195,50,62,0.5)" stroke="rgba(185,45,58,0.78)" stroke-width="0.5"/>
<circle cx="556.35" cy="329.70" r="1.45" fill="rgba(195,50,62,0.5)" stroke="rgba(185,45,58,0.78)" stroke-width="0.5"/>
<circle cx="556.35" cy="337.20" r="1.45" fill="rgba(195,50,62,0.5)" stroke="rgba(185,45,58,0.78)" stroke-width="0.5"/>
<circle cx="556.35" cy="339.30" r="1.45" fill="rgba(195,50,62,0.5)" stroke="rgba(185,45,58,0.78)" stroke-width="0.5"/>
<circle cx="556.35" cy="341.20" r="1.45" fill="rgba(195,50,62,0.5)" stroke="rgba(185,45,58,0.78)" stroke-width="0.5"/>
<circle cx="556.35" cy="345.50" r="1.45" fill="rgba(195,50,62,0.5)" stroke="rgba(185,45,58,0.78)" stroke-width="0.5"/>
<circle cx="556.35" cy="353.00" r="1.45" fill="rgba(195,50,62,0.5)" stroke="rgba(185,45,58,0.78)" stroke-width="0.5"/>
<circle cx="556.35" cy="357.80" r="1.45" fill="rgba(195,50,62,0.5)" stroke="rgba(185,45,58,0.78)" stroke-width="0.5"/>
<circle cx="556.35" cy="364.60" r="1.45" fill="rgba(195,50,62,0.5)" stroke="rgba(185,45,58,0.78)" stroke-width="0.5"/>
<circle cx="556.35" cy="388.20" r="1.45" fill="rgba(195,50,62,0.5)" stroke="rgba(185,45,58,0.78)" stroke-width="0.5"/>
<circle cx="561.20" cy="333.10" r="1.45" fill="rgba(195,50,62,0.5)" stroke="rgba(185,45,58,0.78)" stroke-width="0.5"/>
<circle cx="561.20" cy="346.20" r="1.45" fill="rgba(195,50,62,0.5)" stroke="rgba(185,45,58,0.78)" stroke-width="0.5"/>
<circle cx="561.20" cy="351.00" r="1.45" fill="rgba(195,50,62,0.5)" stroke="rgba(185,45,58,0.78)" stroke-width="0.5"/>
<circle cx="561.20" cy="352.40" r="1.45" fill="rgba(195,50,62,0.5)" stroke="rgba(185,45,58,0.78)" stroke-width="0.5"/>
<circle cx="561.20" cy="356.20" r="1.45" fill="rgba(195,50,62,0.5)" stroke="rgba(185,45,58,0.78)" stroke-width="0.5"/>
<circle cx="561.20" cy="360.50" r="1.45" fill="rgba(195,50,62,0.5)" stroke="rgba(185,45,58,0.78)" stroke-width="0.5"/>
<circle cx="561.20" cy="387.10" r="1.45" fill="rgba(195,50,62,0.5)" stroke="rgba(185,45,58,0.78)" stroke-width="0.5"/>
<circle cx="566.06" cy="320.90" r="1.45" fill="rgba(195,50,62,0.5)" stroke="rgba(185,45,58,0.78)" stroke-width="0.5"/>
<circle cx="566.06" cy="344.50" r="1.45" fill="rgba(195,50,62,0.5)" stroke="rgba(185,45,58,0.78)" stroke-width="0.5"/>
<circle cx="566.06" cy="345.30" r="1.45" fill="rgba(195,50,62,0.5)" stroke="rgba(185,45,58,0.78)" stroke-width="0.5"/>
<circle cx="566.06" cy="347.60" r="1.45" fill="rgba(195,50,62,0.5)" stroke="rgba(185,45,58,0.78)" stroke-width="0.5"/>
<circle cx="566.06" cy="365.70" r="1.45" fill="rgba(195,50,62,0.5)" stroke="rgba(185,45,58,0.78)" stroke-width="0.5"/>
<circle cx="566.06" cy="377.20" r="1.45" fill="rgba(195,50,62,0.5)" stroke="rgba(185,45,58,0.78)" stroke-width="0.5"/>
<circle cx="570.92" cy="312.70" r="1.45" fill="rgba(195,50,62,0.5)" stroke="rgba(185,45,58,0.78)" stroke-width="0.5"/>
<circle cx="570.92" cy="330.00" r="1.45" fill="rgba(195,50,62,0.5)" stroke="rgba(185,45,58,0.78)" stroke-width="0.5"/>
<circle cx="570.92" cy="340.90" r="1.45" fill="rgba(195,50,62,0.5)" stroke="rgba(185,45,58,0.78)" stroke-width="0.5"/>
<circle cx="570.92" cy="349.60" r="1.45" fill="rgba(195,50,62,0.5)" stroke="rgba(185,45,58,0.78)" stroke-width="0.5"/>
<circle cx="570.92" cy="351.00" r="1.45" fill="rgba(195,50,62,0.5)" stroke="rgba(185,45,58,0.78)" stroke-width="0.5"/>
<circle cx="570.92" cy="352.40" r="1.45" fill="rgba(195,50,62,0.5)" stroke="rgba(185,45,58,0.78)" stroke-width="0.5"/>
<circle cx="570.92" cy="364.90" r="1.45" fill="rgba(195,50,62,0.5)" stroke="rgba(185,45,58,0.78)" stroke-width="0.5"/>
<circle cx="570.92" cy="387.10" r="1.45" fill="rgba(195,50,62,0.5)" stroke="rgba(185,45,58,0.78)" stroke-width="0.5"/>
<circle cx="570.92" cy="391.60" r="1.45" fill="rgba(195,50,62,0.5)" stroke="rgba(185,45,58,0.78)" stroke-width="0.5"/>
<circle cx="575.78" cy="325.40" r="1.45" fill="rgba(195,50,62,0.5)" stroke="rgba(185,45,58,0.78)" stroke-width="0.5"/>
<circle cx="575.78" cy="330.00" r="1.45" fill="rgba(195,50,62,0.5)" stroke="rgba(185,45,58,0.78)" stroke-width="0.5"/>
<circle cx="575.78" cy="337.00" r="1.45" fill="rgba(195,50,62,0.5)" stroke="rgba(185,45,58,0.78)" stroke-width="0.5"/>
<circle cx="575.78" cy="349.00" r="1.45" fill="rgba(195,50,62,0.5)" stroke="rgba(185,45,58,0.78)" stroke-width="0.5"/>
<circle cx="575.78" cy="351.00" r="1.45" fill="rgba(195,50,62,0.5)" stroke="rgba(185,45,58,0.78)" stroke-width="0.5"/>
<circle cx="575.78" cy="353.00" r="1.45" fill="rgba(195,50,62,0.5)" stroke="rgba(185,45,58,0.78)" stroke-width="0.5"/>
<circle cx="575.78" cy="354.40" r="1.45" fill="rgba(195,50,62,0.5)" stroke="rgba(185,45,58,0.78)" stroke-width="0.5"/>
<circle cx="575.78" cy="358.50" r="1.45" fill="rgba(195,50,62,0.5)" stroke="rgba(185,45,58,0.78)" stroke-width="0.5"/>
<circle cx="575.78" cy="359.90" r="1.45" fill="rgba(195,50,62,0.5)" stroke="rgba(185,45,58,0.78)" stroke-width="0.5"/>
<circle cx="575.78" cy="361.20" r="1.45" fill="rgba(195,50,62,0.5)" stroke="rgba(185,45,58,0.78)" stroke-width="0.5"/>
<circle cx="580.64" cy="330.40" r="1.45" fill="rgba(195,50,62,0.5)" stroke="rgba(185,45,58,0.78)" stroke-width="0.5"/>
<circle cx="580.64" cy="345.30" r="1.45" fill="rgba(195,50,62,0.5)" stroke="rgba(185,45,58,0.78)" stroke-width="0.5"/>
<circle cx="580.64" cy="356.20" r="1.45" fill="rgba(195,50,62,0.5)" stroke="rgba(185,45,58,0.78)" stroke-width="0.5"/>
<circle cx="580.64" cy="356.20" r="1.45" fill="rgba(195,50,62,0.5)" stroke="rgba(185,45,58,0.78)" stroke-width="0.5"/>
<circle cx="580.64" cy="365.70" r="1.45" fill="rgba(195,50,62,0.5)" stroke="rgba(185,45,58,0.78)" stroke-width="0.5"/>
<circle cx="580.64" cy="378.30" r="1.45" fill="rgba(195,50,62,0.5)" stroke="rgba(185,45,58,0.78)" stroke-width="0.5"/>
<circle cx="585.49" cy="337.90" r="1.45" fill="rgba(195,50,62,0.5)" stroke="rgba(185,45,58,0.78)" stroke-width="0.5"/>
<circle cx="585.49" cy="363.00" r="1.45" fill="rgba(195,50,62,0.5)" stroke="rgba(185,45,58,0.78)" stroke-width="0.5"/>
<circle cx="585.49" cy="378.30" r="1.45" fill="rgba(195,50,62,0.5)" stroke="rgba(185,45,58,0.78)" stroke-width="0.5"/>
<circle cx="590.35" cy="353.00" r="1.45" fill="rgba(195,50,62,0.5)" stroke="rgba(185,45,58,0.78)" stroke-width="0.5"/>
<circle cx="590.35" cy="354.40" r="1.45" fill="rgba(195,50,62,0.5)" stroke="rgba(185,45,58,0.78)" stroke-width="0.5"/>
<circle cx="590.35" cy="361.20" r="1.45" fill="rgba(195,50,62,0.5)" stroke="rgba(185,45,58,0.78)" stroke-width="0.5"/>
<circle cx="590.35" cy="369.00" r="1.45" fill="rgba(195,50,62,0.5)" stroke="rgba(185,45,58,0.78)" stroke-width="0.5"/>
<circle cx="590.35" cy="406.00" r="1.45" fill="rgba(195,50,62,0.5)" stroke="rgba(185,45,58,0.78)" stroke-width="0.5"/>
<circle cx="595.21" cy="320.60" r="1.45" fill="rgba(195,50,62,0.5)" stroke="rgba(185,45,58,0.78)" stroke-width="0.5"/>
<circle cx="595.21" cy="324.00" r="1.45" fill="rgba(195,50,62,0.5)" stroke="rgba(185,45,58,0.78)" stroke-width="0.5"/>
<circle cx="595.21" cy="336.30" r="1.45" fill="rgba(195,50,62,0.5)" stroke="rgba(185,45,58,0.78)" stroke-width="0.5"/>
<circle cx="595.21" cy="350.30" r="1.45" fill="rgba(195,50,62,0.5)" stroke="rgba(185,45,58,0.78)" stroke-width="0.5"/>
<circle cx="595.21" cy="353.50" r="1.45" fill="rgba(195,50,62,0.5)" stroke="rgba(185,45,58,0.78)" stroke-width="0.5"/>
<circle cx="595.21" cy="364.40" r="1.45" fill="rgba(195,50,62,0.5)" stroke="rgba(185,45,58,0.78)" stroke-width="0.5"/>
<circle cx="595.21" cy="394.00" r="1.45" fill="rgba(195,50,62,0.5)" stroke="rgba(185,45,58,0.78)" stroke-width="0.5"/>
<circle cx="600.07" cy="368.70" r="1.45" fill="rgba(195,50,62,0.5)" stroke="rgba(185,45,58,0.78)" stroke-width="0.5"/>
<circle cx="600.07" cy="376.90" r="1.45" fill="rgba(195,50,62,0.5)" stroke="rgba(185,45,58,0.78)" stroke-width="0.5"/>
<circle cx="600.07" cy="388.10" r="1.45" fill="rgba(195,50,62,0.5)" stroke="rgba(185,45,58,0.78)" stroke-width="0.5"/>
<circle cx="604.93" cy="355.50" r="1.45" fill="rgba(195,50,62,0.5)" stroke="rgba(185,45,58,0.78)" stroke-width="0.5"/>
<circle cx="609.78" cy="363.00" r="1.45" fill="rgba(195,50,62,0.5)" stroke="rgba(185,45,58,0.78)" stroke-width="0.5"/>
<circle cx="609.78" cy="390.80" r="1.45" fill="rgba(195,50,62,0.5)" stroke="rgba(185,45,58,0.78)" stroke-width="0.5"/>
<circle cx="614.64" cy="373.90" r="1.45" fill="rgba(195,50,62,0.5)" stroke="rgba(185,45,58,0.78)" stroke-width="0.5"/>
<circle cx="614.64" cy="394.90" r="1.45" fill="rgba(195,50,62,0.5)" stroke="rgba(185,45,58,0.78)" stroke-width="0.5"/>
<rect x="364.5" y="282.5" width="267.00" height="132.00" fill="none" stroke="#4a4a4a" stroke-width="1.0"/>
<line x1="376.60" y1="414.5" x2="376.60" y2="416.5" stroke="#333" stroke-width="0.85"/>
<text x="376.60" y="422.20" font-family="'Liberation Sans', sans-serif" font-size="5.5" text-anchor="middle" fill="#222" stroke="#222" stroke-width="0.12">40</text>
<line x1="425.18" y1="414.5" x2="425.18" y2="416.5" stroke="#333" stroke-width="0.85"/>
<text x="425.18" y="422.20" font-family="'Liberation Sans', sans-serif" font-size="5.5" text-anchor="middle" fill="#222" stroke="#222" stroke-width="0.12">50</text>
<line x1="473.76" y1="414.5" x2="473.76" y2="416.5" stroke="#333" stroke-width="0.85"/>
<text x="473.76" y="422.20" font-family="'Liberation Sans', sans-serif" font-size="5.5" text-anchor="middle" fill="#222" stroke="#222" stroke-width="0.12">60</text>
<line x1="522.34" y1="414.5" x2="522.34" y2="416.5" stroke="#333" stroke-width="0.85"/>
<text x="522.34" y="422.20" font-family="'Liberation Sans', sans-serif" font-size="5.5" text-anchor="middle" fill="#222" stroke="#222" stroke-width="0.12">70</text>
<line x1="570.92" y1="414.5" x2="570.92" y2="416.5" stroke="#333" stroke-width="0.85"/>
<text x="570.92" y="422.20" font-family="'Liberation Sans', sans-serif" font-size="5.5" text-anchor="middle" fill="#222" stroke="#222" stroke-width="0.12">80</text>
<line x1="619.50" y1="414.5" x2="619.50" y2="416.5" stroke="#333" stroke-width="0.85"/>
<text x="619.50" y="422.20" font-family="'Liberation Sans', sans-serif" font-size="5.5" text-anchor="middle" fill="#222" stroke="#222" stroke-width="0.12">90</text>
<line x1="362.5" y1="403.16" x2="364.5" y2="403.16" stroke="#333" stroke-width="0.85"/>
<text x="361.20" y="405.11" font-family="'Liberation Sans', sans-serif" font-size="5.5" text-anchor="end" fill="#222" stroke="#222" stroke-width="0.12">−5.0</text>
<line x1="362.5" y1="385.93" x2="364.5" y2="385.93" stroke="#333" stroke-width="0.85"/>
<text x="361.20" y="387.88" font-family="'Liberation Sans', sans-serif" font-size="5.5" text-anchor="end" fill="#222" stroke="#222" stroke-width="0.12">−2.5</text>
<line x1="362.5" y1="368.70" x2="364.5" y2="368.70" stroke="#333" stroke-width="0.85"/>
<text x="361.20" y="370.65" font-family="'Liberation Sans', sans-serif" font-size="5.5" text-anchor="end" fill="#222" stroke="#222" stroke-width="0.12">0.0</text>
<line x1="362.5" y1="351.47" x2="364.5" y2="351.47" stroke="#333" stroke-width="0.85"/>
<text x="361.20" y="353.42" font-family="'Liberation Sans', sans-serif" font-size="5.5" text-anchor="end" fill="#222" stroke="#222" stroke-width="0.12">2.5</text>
<line x1="362.5" y1="334.24" x2="364.5" y2="334.24" stroke="#333" stroke-width="0.85"/>
<text x="361.20" y="336.19" font-family="'Liberation Sans', sans-serif" font-size="5.5" text-anchor="end" fill="#222" stroke="#222" stroke-width="0.12">5.0</text>
<line x1="362.5" y1="317.00" x2="364.5" y2="317.00" stroke="#333" stroke-width="0.85"/>
<text x="361.20" y="318.95" font-family="'Liberation Sans', sans-serif" font-size="5.5" text-anchor="end" fill="#222" stroke="#222" stroke-width="0.12">7.5</text>
<line x1="362.5" y1="299.77" x2="364.5" y2="299.77" stroke="#333" stroke-width="0.85"/>
<text x="361.20" y="301.72" font-family="'Liberation Sans', sans-serif" font-size="5.5" text-anchor="end" fill="#222" stroke="#222" stroke-width="0.12">10.0</text>
<line x1="362.5" y1="282.54" x2="364.5" y2="282.54" stroke="#333" stroke-width="0.85"/>
<text x="361.20" y="284.49" font-family="'Liberation Sans', sans-serif" font-size="5.5" text-anchor="end" fill="#222" stroke="#222" stroke-width="0.12">12.5</text>
<text x="332.00" y="273.00" font-family="'Liberation Serif', serif" font-size="9.3" text-anchor="start" fill="#111" stroke="#111" stroke-width="0.22">(e)</text>
<text x="500.00" y="437.00" font-family="'Liberation Serif', serif" font-size="8.7" text-anchor="middle" fill="#111" stroke="#111" stroke-width="0.22">True age (chronological age)</text>
<text x="341.80" y="344.40" font-family="'Liberation Serif', serif" font-size="8.7" text-anchor="middle" fill="#111" stroke="#111" stroke-width="0.22" transform="rotate(-90 341.8 344.4)">Brain age gap</text>
<rect x="520.3" y="286.1" width="106.1" height="11.6" rx="1.5" fill="rgba(255,255,255,0.8)" stroke="#d8d8d8" stroke-width="0.7"/>
<circle cx="526.8" cy="291.3" r="2.2" fill="rgb(232,135,150)" stroke="rgb(212,100,118)" stroke-width="0.55"/>
<text x="534.20" y="294.60" font-family="'Liberation Serif', serif" font-size="7.2" fill="#111" stroke="#111" stroke-width="0.22">AD <tspan fill="#333" stroke="#333" stroke-width="0.1">δ</tspan> = 3.10 [2.52, 3.67] years</text>
<line x1="547.00" y1="288.84" x2="549.49" y2="288.84" stroke="#444" stroke-width="0.45"/>
</svg>
</body></html>
